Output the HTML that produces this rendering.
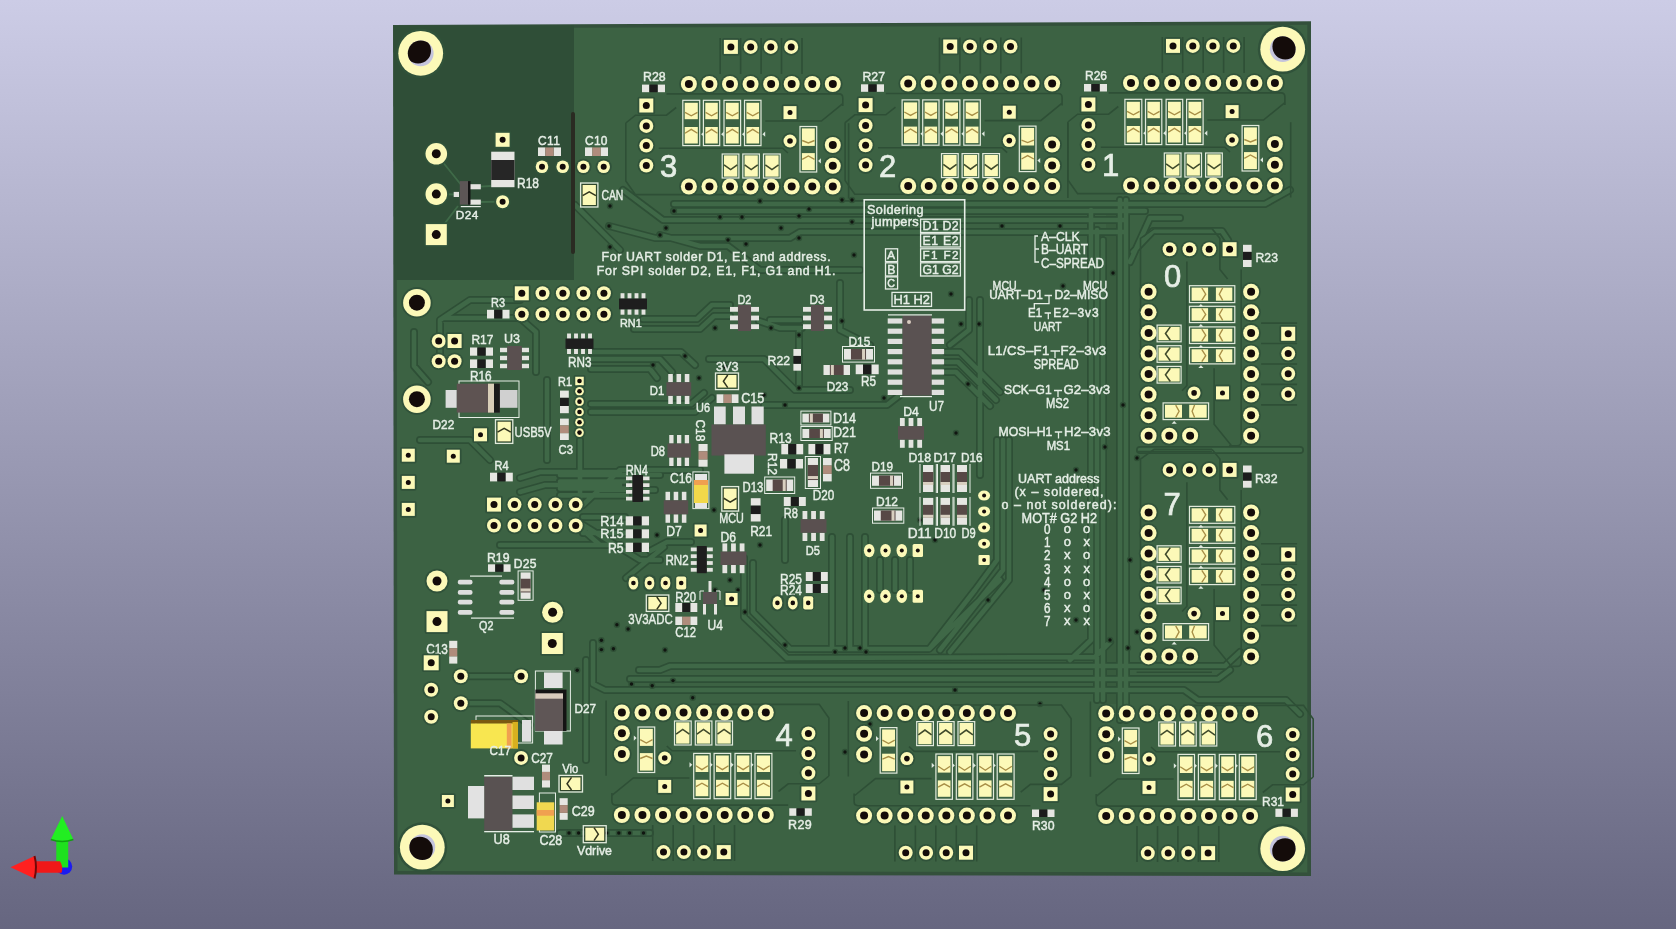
<!DOCTYPE html>
<html><head><meta charset="utf-8"><style>
html,body{margin:0;padding:0;width:1676px;height:929px;overflow:hidden;background:#9999b3}
svg{display:block;will-change:transform}
text{font-family:"Liberation Sans",sans-serif;stroke:#e6eee6;stroke-width:0.45px}
</style></head><body>
<svg width="1676" height="929" viewBox="0 0 1676 929">
<defs><linearGradient id="bg" x1="0" y1="0" x2="0" y2="1"><stop offset="0" stop-color="#ccccE6"/><stop offset="1" stop-color="#666680"/></linearGradient></defs>
<rect x="0" y="0" width="1676" height="929" fill="url(#bg)"/>
<polygon points="393,25 1311,21.3 1311,876 394,874.6" fill="#33503b"/>
<polygon points="396.5,28.5 1307.3,24.8 1307.3,872.4 397.5,871.1" fill="#3c6243"/>
<polygon points="394,26 574,25.5 574,280 394,280" fill="#2f4e37"/>
<rect x="1106" y="204" width="21" height="500" fill="#385c3e"/>
<path d="M674 204 L900 204 L1265 204 L1290 190 M674 211 L1145 211 M623 190 L663 220 L1125 220 M609 226 L655 238 L790 238 L800 232 L1125 232 M660 235 L700 246 L728 246 L760 270 L860 270 M575 205 L620 250 M840 283 L840 330 L870 345 M770 320 L800 320 M764 405 L887 405 L900 395 M1091 210 L1091 640 L1070 660 M1097 230 L1097 700 M1103 240 L1103 700 M1120 200 L1120 720 M1126 200 L1126 720 M997 440 L997 560 L975 590 L930 648 M1003 440 L1003 570 L940 650 M1009 440 L1009 580 L950 652 M880 560 L880 590 M895 560 L895 590 M910 560 L910 590 M600 475 L660 475 M600 490 L655 490 M583 505 L620 470 L700 470 M583 525 L640 560 L660 560 M583 530 L600 545 L620 545 M440 360 L440 320 L470 300 L520 300 M420 440 L470 440 L490 460 M580 440 L580 500 M445 318 L520 318 L536 332 L536 372 M414 332 L414 366 L428 382 M547 380 L547 460 M520 478 L540 472 L620 472 M520 492 L545 485 L620 485 M500 545 L620 545 M643 319 L697 319 L712 305 L730 305 M634 329 L700 329 L714 316 L730 316 M759 321 L780 328 L802 328 M591 352 L681 352 L695 365 M591 359 L660 359 L672 372 M591 369 L650 369 L657 378 M591 404 L691 404 L704 393 M591 412 L695 412 L712 398 M709 359 L764 359 L795 390 L850 390 M799 331 L799 390 M560 475 L627 475 M560 481.5 L627 481.5 M560 488.5 L627 488.5 M560 495.4 L627 495.4 M583 517 L625 517 M583 533 L625 533 M650 551 L667 542 L691 542 M626 578 L664 547 M560 833 L650 833 M787 658 L1095 657 L1110 642 M639 670 L660 670 L670 666 L1225 666 L1240 652 M630 679 L1218 679 L1230 670 M593 643 L593 684 L605 690 L1184 690 L1198 700 L1286 700 L1300 714 M832 537 L832 649 M850 537 L850 649 M865 537 L865 649 M744 558 L744 617 L787 658 M753 563 L753 612 L790 649 L929 649 L1000 580 M785 520 L785 560 M460.8 676.3 L521 676.3 M460.8 703.2 L500 703.2 L530 725 M586 660 L586 760 M946 352 L960 352 L1000 392 M946 362 L958 362 L996 400 M946 372 L956 372 L990 406 M980 300 L980 475 M969 300 L969 330 L950 345 M1130 262 L1150 218 L1180 218 M1133 252 L1153 231 L1222 231 L1228 240 M1140 450 L1300 450" fill="none" stroke="#2e4f36" stroke-width="8" stroke-linejoin="round" stroke-linecap="round"/>
<path d="M674 204 L900 204 L1265 204 L1290 190 M674 211 L1145 211 M623 190 L663 220 L1125 220 M609 226 L655 238 L790 238 L800 232 L1125 232 M660 235 L700 246 L728 246 L760 270 L860 270 M575 205 L620 250 M840 283 L840 330 L870 345 M770 320 L800 320 M764 405 L887 405 L900 395 M1091 210 L1091 640 L1070 660 M1097 230 L1097 700 M1103 240 L1103 700 M1120 200 L1120 720 M1126 200 L1126 720 M997 440 L997 560 L975 590 L930 648 M1003 440 L1003 570 L940 650 M1009 440 L1009 580 L950 652 M880 560 L880 590 M895 560 L895 590 M910 560 L910 590 M600 475 L660 475 M600 490 L655 490 M583 505 L620 470 L700 470 M583 525 L640 560 L660 560 M583 530 L600 545 L620 545 M440 360 L440 320 L470 300 L520 300 M420 440 L470 440 L490 460 M580 440 L580 500 M445 318 L520 318 L536 332 L536 372 M414 332 L414 366 L428 382 M547 380 L547 460 M520 478 L540 472 L620 472 M520 492 L545 485 L620 485 M500 545 L620 545 M643 319 L697 319 L712 305 L730 305 M634 329 L700 329 L714 316 L730 316 M759 321 L780 328 L802 328 M591 352 L681 352 L695 365 M591 359 L660 359 L672 372 M591 369 L650 369 L657 378 M591 404 L691 404 L704 393 M591 412 L695 412 L712 398 M709 359 L764 359 L795 390 L850 390 M799 331 L799 390 M560 475 L627 475 M560 481.5 L627 481.5 M560 488.5 L627 488.5 M560 495.4 L627 495.4 M583 517 L625 517 M583 533 L625 533 M650 551 L667 542 L691 542 M626 578 L664 547 M560 833 L650 833 M787 658 L1095 657 L1110 642 M639 670 L660 670 L670 666 L1225 666 L1240 652 M630 679 L1218 679 L1230 670 M593 643 L593 684 L605 690 L1184 690 L1198 700 L1286 700 L1300 714 M832 537 L832 649 M850 537 L850 649 M865 537 L865 649 M744 558 L744 617 L787 658 M753 563 L753 612 L790 649 L929 649 L1000 580 M785 520 L785 560 M460.8 676.3 L521 676.3 M460.8 703.2 L500 703.2 L530 725 M586 660 L586 760 M946 352 L960 352 L1000 392 M946 362 L958 362 L996 400 M946 372 L956 372 L990 406 M980 300 L980 475 M969 300 L969 330 L950 345 M1130 262 L1150 218 L1180 218 M1133 252 L1153 231 L1222 231 L1228 240 M1140 450 L1300 450" fill="none" stroke="#3f6847" stroke-width="4.6" stroke-linejoin="round" stroke-linecap="round"/>
<circle cx="616.9" cy="624.7" r="3.2" fill="#2f5036"/><circle cx="616.9" cy="624.7" r="1.7" fill="#101510"/>
<circle cx="628.1" cy="629" r="3.2" fill="#2f5036"/><circle cx="628.1" cy="629" r="1.7" fill="#101510"/>
<circle cx="601.4" cy="640.2" r="3.2" fill="#2f5036"/><circle cx="601.4" cy="640.2" r="1.7" fill="#101510"/>
<circle cx="601.4" cy="649.6" r="3.2" fill="#2f5036"/><circle cx="601.4" cy="649.6" r="1.7" fill="#101510"/>
<circle cx="613.4" cy="648.8" r="3.2" fill="#2f5036"/><circle cx="613.4" cy="648.8" r="1.7" fill="#101510"/>
<circle cx="577.2" cy="670.3" r="3.2" fill="#2f5036"/><circle cx="577.2" cy="670.3" r="1.7" fill="#101510"/>
<circle cx="631.5" cy="684" r="3.2" fill="#2f5036"/><circle cx="631.5" cy="684" r="1.7" fill="#101510"/>
<circle cx="652.2" cy="685.7" r="3.2" fill="#2f5036"/><circle cx="652.2" cy="685.7" r="1.7" fill="#101510"/>
<circle cx="673" cy="680.6" r="3.2" fill="#2f5036"/><circle cx="673" cy="680.6" r="1.7" fill="#101510"/>
<circle cx="692.7" cy="697.8" r="3.2" fill="#2f5036"/><circle cx="692.7" cy="697.8" r="1.7" fill="#101510"/>
<circle cx="569" cy="833" r="3.2" fill="#2f5036"/><circle cx="569" cy="833" r="1.7" fill="#101510"/>
<circle cx="578.6" cy="833" r="3.2" fill="#2f5036"/><circle cx="578.6" cy="833" r="1.7" fill="#101510"/>
<circle cx="606.7" cy="833" r="3.2" fill="#2f5036"/><circle cx="606.7" cy="833" r="1.7" fill="#101510"/>
<circle cx="618.8" cy="833" r="3.2" fill="#2f5036"/><circle cx="618.8" cy="833" r="1.7" fill="#101510"/>
<circle cx="629.6" cy="833" r="3.2" fill="#2f5036"/><circle cx="629.6" cy="833" r="1.7" fill="#101510"/>
<circle cx="643.5" cy="833" r="3.2" fill="#2f5036"/><circle cx="643.5" cy="833" r="1.7" fill="#101510"/>
<circle cx="610" cy="206" r="3.2" fill="#2f5036"/><circle cx="610" cy="206" r="1.7" fill="#101510"/>
<circle cx="609" cy="226" r="3.2" fill="#2f5036"/><circle cx="609" cy="226" r="1.7" fill="#101510"/>
<circle cx="610" cy="247" r="3.2" fill="#2f5036"/><circle cx="610" cy="247" r="1.7" fill="#101510"/>
<circle cx="674" cy="211" r="3.2" fill="#2f5036"/><circle cx="674" cy="211" r="1.7" fill="#101510"/>
<circle cx="720" cy="217" r="3.2" fill="#2f5036"/><circle cx="720" cy="217" r="1.7" fill="#101510"/>
<circle cx="742" cy="217" r="3.2" fill="#2f5036"/><circle cx="742" cy="217" r="1.7" fill="#101510"/>
<circle cx="760" cy="201" r="3.2" fill="#2f5036"/><circle cx="760" cy="201" r="1.7" fill="#101510"/>
<circle cx="809" cy="209" r="3.2" fill="#2f5036"/><circle cx="809" cy="209" r="1.7" fill="#101510"/>
<circle cx="799" cy="216" r="3.2" fill="#2f5036"/><circle cx="799" cy="216" r="1.7" fill="#101510"/>
<circle cx="781" cy="228" r="3.2" fill="#2f5036"/><circle cx="781" cy="228" r="1.7" fill="#101510"/>
<circle cx="799" cy="238" r="3.2" fill="#2f5036"/><circle cx="799" cy="238" r="1.7" fill="#101510"/>
<circle cx="852" cy="200" r="3.2" fill="#2f5036"/><circle cx="852" cy="200" r="1.7" fill="#101510"/>
<circle cx="842" cy="200" r="3.2" fill="#2f5036"/><circle cx="842" cy="200" r="1.7" fill="#101510"/>
<circle cx="852" cy="222" r="3.2" fill="#2f5036"/><circle cx="852" cy="222" r="1.7" fill="#101510"/>
<circle cx="666" cy="228" r="3.2" fill="#2f5036"/><circle cx="666" cy="228" r="1.7" fill="#101510"/>
<circle cx="660" cy="235" r="3.2" fill="#2f5036"/><circle cx="660" cy="235" r="1.7" fill="#101510"/>
<circle cx="728" cy="240" r="3.2" fill="#2f5036"/><circle cx="728" cy="240" r="1.7" fill="#101510"/>
<circle cx="746" cy="244" r="3.2" fill="#2f5036"/><circle cx="746" cy="244" r="1.7" fill="#101510"/>
<circle cx="854" cy="255" r="3.2" fill="#2f5036"/><circle cx="854" cy="255" r="1.7" fill="#101510"/>
<circle cx="715" cy="328" r="3.2" fill="#2f5036"/><circle cx="715" cy="328" r="1.7" fill="#101510"/>
<circle cx="771" cy="328" r="3.2" fill="#2f5036"/><circle cx="771" cy="328" r="1.7" fill="#101510"/>
<circle cx="799" cy="335" r="3.2" fill="#2f5036"/><circle cx="799" cy="335" r="1.7" fill="#101510"/>
<circle cx="842" cy="321" r="3.2" fill="#2f5036"/><circle cx="842" cy="321" r="1.7" fill="#101510"/>
<circle cx="951" cy="294" r="3.2" fill="#2f5036"/><circle cx="951" cy="294" r="1.7" fill="#101510"/>
<circle cx="961" cy="324" r="3.2" fill="#2f5036"/><circle cx="961" cy="324" r="1.7" fill="#101510"/>
<circle cx="979" cy="324" r="3.2" fill="#2f5036"/><circle cx="979" cy="324" r="1.7" fill="#101510"/>
<circle cx="968" cy="384" r="3.2" fill="#2f5036"/><circle cx="968" cy="384" r="1.7" fill="#101510"/>
<circle cx="884" cy="398" r="3.2" fill="#2f5036"/><circle cx="884" cy="398" r="1.7" fill="#101510"/>
<circle cx="785" cy="405" r="3.2" fill="#2f5036"/><circle cx="785" cy="405" r="1.7" fill="#101510"/>
<circle cx="799" cy="388" r="3.2" fill="#2f5036"/><circle cx="799" cy="388" r="1.7" fill="#101510"/>
<circle cx="685" cy="356" r="3.2" fill="#2f5036"/><circle cx="685" cy="356" r="1.7" fill="#101510"/>
<circle cx="653" cy="365" r="3.2" fill="#2f5036"/><circle cx="653" cy="365" r="1.7" fill="#101510"/>
<circle cx="725" cy="367" r="3.2" fill="#2f5036"/><circle cx="725" cy="367" r="1.7" fill="#101510"/>
<circle cx="764" cy="395" r="3.2" fill="#2f5036"/><circle cx="764" cy="395" r="1.7" fill="#101510"/>
<circle cx="956" cy="433" r="3.2" fill="#2f5036"/><circle cx="956" cy="433" r="1.7" fill="#101510"/>
<circle cx="1002" cy="226" r="3.2" fill="#2f5036"/><circle cx="1002" cy="226" r="1.7" fill="#101510"/>
<circle cx="1060" cy="226" r="3.2" fill="#2f5036"/><circle cx="1060" cy="226" r="1.7" fill="#101510"/>
<circle cx="1113" cy="273" r="3.2" fill="#2f5036"/><circle cx="1113" cy="273" r="1.7" fill="#101510"/>
<circle cx="1063" cy="286" r="3.2" fill="#2f5036"/><circle cx="1063" cy="286" r="1.7" fill="#101510"/>
<circle cx="1123" cy="405" r="3.2" fill="#2f5036"/><circle cx="1123" cy="405" r="1.7" fill="#101510"/>
<circle cx="1137" cy="458" r="3.2" fill="#2f5036"/><circle cx="1137" cy="458" r="1.7" fill="#101510"/>
<circle cx="1105" cy="447" r="3.2" fill="#2f5036"/><circle cx="1105" cy="447" r="1.7" fill="#101510"/>
<circle cx="785" cy="645" r="3.2" fill="#2f5036"/><circle cx="785" cy="645" r="1.7" fill="#101510"/>
<circle cx="835" cy="652" r="3.2" fill="#2f5036"/><circle cx="835" cy="652" r="1.7" fill="#101510"/>
<circle cx="866" cy="652" r="3.2" fill="#2f5036"/><circle cx="866" cy="652" r="1.7" fill="#101510"/>
<circle cx="845" cy="648" r="3.2" fill="#2f5036"/><circle cx="845" cy="648" r="1.7" fill="#101510"/>
<circle cx="860" cy="648" r="3.2" fill="#2f5036"/><circle cx="860" cy="648" r="1.7" fill="#101510"/>
<circle cx="1044" cy="590" r="3.2" fill="#2f5036"/><circle cx="1044" cy="590" r="1.7" fill="#101510"/>
<circle cx="1128" cy="648" r="3.2" fill="#2f5036"/><circle cx="1128" cy="648" r="1.7" fill="#101510"/>
<circle cx="1076" cy="620" r="3.2" fill="#2f5036"/><circle cx="1076" cy="620" r="1.7" fill="#101510"/>
<circle cx="1137" cy="632" r="3.2" fill="#2f5036"/><circle cx="1137" cy="632" r="1.7" fill="#101510"/>
<circle cx="845" cy="752" r="3.2" fill="#2f5036"/><circle cx="845" cy="752" r="1.7" fill="#101510"/>
<circle cx="870" cy="724" r="3.2" fill="#2f5036"/><circle cx="870" cy="724" r="1.7" fill="#101510"/>
<circle cx="1110" cy="640" r="3.2" fill="#2f5036"/><circle cx="1110" cy="640" r="1.7" fill="#101510"/>
<circle cx="988" cy="600" r="3.2" fill="#2f5036"/><circle cx="988" cy="600" r="1.7" fill="#101510"/>
<circle cx="955" cy="690" r="3.2" fill="#2f5036"/><circle cx="955" cy="690" r="1.7" fill="#101510"/>
<circle cx="1040" cy="704" r="3.2" fill="#2f5036"/><circle cx="1040" cy="704" r="1.7" fill="#101510"/>
<circle cx="714" cy="510" r="3.2" fill="#2f5036"/><circle cx="714" cy="510" r="1.7" fill="#101510"/>
<circle cx="700" cy="485" r="3.2" fill="#2f5036"/><circle cx="700" cy="485" r="1.7" fill="#101510"/>
<circle cx="760" cy="545" r="3.2" fill="#2f5036"/><circle cx="760" cy="545" r="1.7" fill="#101510"/>
<circle cx="665" cy="650" r="3.2" fill="#2f5036"/><circle cx="665" cy="650" r="1.7" fill="#101510"/>
<circle cx="730" cy="580" r="3.2" fill="#2f5036"/><circle cx="730" cy="580" r="1.7" fill="#101510"/>
<circle cx="738" cy="590" r="3.2" fill="#2f5036"/><circle cx="738" cy="590" r="1.7" fill="#101510"/>
<circle cx="745" cy="612" r="3.2" fill="#2f5036"/><circle cx="745" cy="612" r="1.7" fill="#101510"/>
<circle cx="657" cy="535" r="3.2" fill="#2f5036"/><circle cx="657" cy="535" r="1.7" fill="#101510"/>
<circle cx="699" cy="378" r="3.2" fill="#2f5036"/><circle cx="699" cy="378" r="1.7" fill="#101510"/>
<circle cx="715" cy="590" r="3.2" fill="#2f5036"/><circle cx="715" cy="590" r="1.7" fill="#101510"/>
<circle cx="920" cy="520" r="3.2" fill="#2f5036"/><circle cx="920" cy="520" r="1.7" fill="#101510"/>
<circle cx="935" cy="540" r="3.2" fill="#2f5036"/><circle cx="935" cy="540" r="1.7" fill="#101510"/>
<circle cx="1076" cy="470" r="3.2" fill="#2f5036"/><circle cx="1076" cy="470" r="1.7" fill="#101510"/>
<circle cx="1150" cy="420" r="3.2" fill="#2f5036"/><circle cx="1150" cy="420" r="1.7" fill="#101510"/>
<circle cx="1130" cy="560" r="3.2" fill="#2f5036"/><circle cx="1130" cy="560" r="1.7" fill="#101510"/>
<circle cx="1170" cy="600" r="3.2" fill="#2f5036"/><circle cx="1170" cy="600" r="1.7" fill="#101510"/>
<circle cx="420.7" cy="53.3" r="24.9" fill="#30523a"/>
<circle cx="420.7" cy="53.3" r="22.4" fill="#fcf9b8"/>
<clipPath id="hc1"><circle cx="420.7" cy="53.3" r="12.9"/></clipPath>
<circle cx="420.7" cy="53.3" r="12.9" fill="#c4c4dc"/>
<circle cx="418.1" cy="50.7" r="12.9" fill="#140c0a" clip-path="url(#hc1)"/>
<circle cx="1282.7" cy="49.2" r="24.9" fill="#30523a"/>
<circle cx="1282.7" cy="49.2" r="22.4" fill="#fcf9b8"/>
<clipPath id="hc2"><circle cx="1282.7" cy="49.2" r="12.9"/></clipPath>
<circle cx="1282.7" cy="49.2" r="12.9" fill="#c4c4dc"/>
<circle cx="1285.3" cy="46.6" r="12.9" fill="#140c0a" clip-path="url(#hc2)"/>
<circle cx="422.3" cy="847.2" r="24.9" fill="#30523a"/>
<circle cx="422.3" cy="847.2" r="22.4" fill="#fcf9b8"/>
<clipPath id="hc3"><circle cx="422.3" cy="847.2" r="12.9"/></clipPath>
<circle cx="422.3" cy="847.2" r="12.9" fill="#c4c4dc"/>
<circle cx="419.9" cy="849.6" r="12.9" fill="#140c0a" clip-path="url(#hc3)"/>
<circle cx="1282.7" cy="848.7" r="24.9" fill="#30523a"/>
<circle cx="1282.7" cy="848.7" r="22.4" fill="#fcf9b8"/>
<clipPath id="hc4"><circle cx="1282.7" cy="848.7" r="12.9"/></clipPath>
<circle cx="1282.7" cy="848.7" r="12.9" fill="#c4c4dc"/>
<circle cx="1285.1" cy="851.1" r="12.9" fill="#140c0a" clip-path="url(#hc4)"/>
<g transform="translate(688.9,84)">
<path d="M-63.1 39 V97 L-53.4 110.6 H66.7 M-63.1 39 L-53.4 31.2 H-22.4 L-12.7 23.5 M-22.4 9.9 H150 Q153.9 9.9 153.9 14 V22 M76.4 37 H132.5 L153.9 19.6 M-30.2 64.2 H93.8 L99 69 M159.7 39.2 V114.5" stroke="#2e4f36" stroke-width="1.6" fill="none"/>
<path d="M31.3 -46 V-10 M51.7 -46 V-10 M72.2 -46 V-10 M92.6 -46 V-10 M113.1 -46 V-10" stroke="#2e4f36" stroke-width="1.6" fill="none"/>
<circle cx="0" cy="0" r="9.8" fill="#30523a"/>
<circle cx="0" cy="0" r="8" fill="#fcf9b8"/>
<circle cx="0" cy="0" r="4" fill="#140c0a"/>
<circle cx="0" cy="102.5" r="9.8" fill="#30523a"/>
<circle cx="0" cy="102.5" r="8" fill="#fcf9b8"/>
<circle cx="0" cy="102.5" r="4" fill="#140c0a"/>
<circle cx="20.56" cy="0" r="9.8" fill="#30523a"/>
<circle cx="20.56" cy="0" r="8" fill="#fcf9b8"/>
<circle cx="20.56" cy="0" r="4" fill="#140c0a"/>
<circle cx="20.56" cy="102.5" r="9.8" fill="#30523a"/>
<circle cx="20.56" cy="102.5" r="8" fill="#fcf9b8"/>
<circle cx="20.56" cy="102.5" r="4" fill="#140c0a"/>
<circle cx="41.12" cy="0" r="9.8" fill="#30523a"/>
<circle cx="41.12" cy="0" r="8" fill="#fcf9b8"/>
<circle cx="41.12" cy="0" r="4" fill="#140c0a"/>
<circle cx="41.12" cy="102.5" r="9.8" fill="#30523a"/>
<circle cx="41.12" cy="102.5" r="8" fill="#fcf9b8"/>
<circle cx="41.12" cy="102.5" r="4" fill="#140c0a"/>
<circle cx="61.68" cy="0" r="9.8" fill="#30523a"/>
<circle cx="61.68" cy="0" r="8" fill="#fcf9b8"/>
<circle cx="61.68" cy="0" r="4" fill="#140c0a"/>
<circle cx="61.68" cy="102.5" r="9.8" fill="#30523a"/>
<circle cx="61.68" cy="102.5" r="8" fill="#fcf9b8"/>
<circle cx="61.68" cy="102.5" r="4" fill="#140c0a"/>
<circle cx="82.24" cy="0" r="9.8" fill="#30523a"/>
<circle cx="82.24" cy="0" r="8" fill="#fcf9b8"/>
<circle cx="82.24" cy="0" r="4" fill="#140c0a"/>
<circle cx="82.24" cy="102.5" r="9.8" fill="#30523a"/>
<circle cx="82.24" cy="102.5" r="8" fill="#fcf9b8"/>
<circle cx="82.24" cy="102.5" r="4" fill="#140c0a"/>
<circle cx="102.8" cy="0" r="9.8" fill="#30523a"/>
<circle cx="102.8" cy="0" r="8" fill="#fcf9b8"/>
<circle cx="102.8" cy="0" r="4" fill="#140c0a"/>
<circle cx="102.8" cy="102.5" r="9.8" fill="#30523a"/>
<circle cx="102.8" cy="102.5" r="8" fill="#fcf9b8"/>
<circle cx="102.8" cy="102.5" r="4" fill="#140c0a"/>
<circle cx="123.36" cy="0" r="9.8" fill="#30523a"/>
<circle cx="123.36" cy="0" r="8" fill="#fcf9b8"/>
<circle cx="123.36" cy="0" r="4" fill="#140c0a"/>
<circle cx="123.36" cy="102.5" r="9.8" fill="#30523a"/>
<circle cx="123.36" cy="102.5" r="8" fill="#fcf9b8"/>
<circle cx="123.36" cy="102.5" r="4" fill="#140c0a"/>
<circle cx="143.92" cy="0" r="9.8" fill="#30523a"/>
<circle cx="143.92" cy="0" r="8" fill="#fcf9b8"/>
<circle cx="143.92" cy="0" r="4" fill="#140c0a"/>
<circle cx="143.92" cy="102.5" r="9.8" fill="#30523a"/>
<circle cx="143.92" cy="102.5" r="8" fill="#fcf9b8"/>
<circle cx="143.92" cy="102.5" r="4" fill="#140c0a"/>
<rect x="33.2" y="-45.9" width="17.6" height="17.6" rx="2" fill="#30523a"/>
<rect x="35" y="-44.1" width="14" height="14" fill="#fcf9b8"/>
<circle cx="42" cy="-37.1" r="3.5" fill="#140c0a"/>
<circle cx="61.8" cy="-37.1" r="8.8" fill="#30523a"/>
<circle cx="61.8" cy="-37.1" r="7" fill="#fcf9b8"/>
<circle cx="61.8" cy="-37.1" r="3.5" fill="#140c0a"/>
<circle cx="81.9" cy="-37.1" r="8.8" fill="#30523a"/>
<circle cx="81.9" cy="-37.1" r="7" fill="#fcf9b8"/>
<circle cx="81.9" cy="-37.1" r="3.5" fill="#140c0a"/>
<circle cx="102.3" cy="-37.1" r="8.8" fill="#30523a"/>
<circle cx="102.3" cy="-37.1" r="7" fill="#fcf9b8"/>
<circle cx="102.3" cy="-37.1" r="3.5" fill="#140c0a"/>
<rect x="-51.4" y="12.7" width="17.6" height="17.6" rx="2" fill="#30523a"/>
<rect x="-49.6" y="14.5" width="14" height="14" fill="#fcf9b8"/>
<circle cx="-42.6" cy="21.5" r="3.5" fill="#140c0a"/>
<circle cx="-42.6" cy="41.9" r="8.8" fill="#30523a"/>
<circle cx="-42.6" cy="41.9" r="7" fill="#fcf9b8"/>
<circle cx="-42.6" cy="41.9" r="3.5" fill="#140c0a"/>
<circle cx="-42.6" cy="61.6" r="8.8" fill="#30523a"/>
<circle cx="-42.6" cy="61.6" r="7" fill="#fcf9b8"/>
<circle cx="-42.6" cy="61.6" r="3.5" fill="#140c0a"/>
<circle cx="-42.6" cy="81.5" r="8.8" fill="#30523a"/>
<circle cx="-42.6" cy="81.5" r="7" fill="#fcf9b8"/>
<circle cx="-42.6" cy="81.5" r="3.5" fill="#140c0a"/>
<circle cx="143.9" cy="61" r="9.8" fill="#30523a"/>
<circle cx="143.9" cy="61" r="8" fill="#fcf9b8"/>
<circle cx="143.9" cy="61" r="4" fill="#140c0a"/>
<circle cx="143.9" cy="81.8" r="9.8" fill="#30523a"/>
<circle cx="143.9" cy="81.8" r="8" fill="#fcf9b8"/>
<circle cx="143.9" cy="81.8" r="4" fill="#140c0a"/>
<rect x="-6.1" y="16.3" width="16.9" height="45.3" fill="none" stroke="#e2eadc" stroke-width="1.2"/>
<rect x="-4.2" y="18.8" width="13.1" height="16.4" fill="#fcf9b8" />
<rect x="-4.2" y="43" width="13.1" height="16.5" fill="#fcf9b8" />
<path d="M-3.9 28.4 L2.35 31.8 L8.6 28.4" fill="none" stroke="#a88e46" stroke-width="1.35"/>
<path d="M-3.9 49.3 L2.35 45.4 L8.6 49.3" fill="none" stroke="#a88e46" stroke-width="1.35"/>
<path d="M12.2 50.2 L15 47.6 L15 52.8 Z" fill="#dfe8df"/>
<rect x="14.5" y="16.3" width="16.3" height="45.3" fill="none" stroke="#e2eadc" stroke-width="1.2"/>
<rect x="16.4" y="18.8" width="12.5" height="16.4" fill="#fcf9b8" />
<rect x="16.4" y="43" width="12.5" height="16.5" fill="#fcf9b8" />
<path d="M16.7 28.4 L22.65 31.8 L28.6 28.4" fill="none" stroke="#a88e46" stroke-width="1.35"/>
<path d="M16.7 49.3 L22.65 45.4 L28.6 49.3" fill="none" stroke="#a88e46" stroke-width="1.35"/>
<path d="M32.2 50.2 L35 47.6 L35 52.8 Z" fill="#dfe8df"/>
<rect x="35.1" y="16.3" width="16.6" height="45.3" fill="none" stroke="#e2eadc" stroke-width="1.2"/>
<rect x="37" y="18.8" width="12.8" height="16.4" fill="#fcf9b8" />
<rect x="37" y="43" width="12.8" height="16.5" fill="#fcf9b8" />
<path d="M37.3 28.4 L43.4 31.8 L49.5 28.4" fill="none" stroke="#a88e46" stroke-width="1.35"/>
<path d="M37.3 49.3 L43.4 45.4 L49.5 49.3" fill="none" stroke="#a88e46" stroke-width="1.35"/>
<path d="M53.1 50.2 L55.9 47.6 L55.9 52.8 Z" fill="#dfe8df"/>
<rect x="55.6" y="16.3" width="16.5" height="45.3" fill="none" stroke="#e2eadc" stroke-width="1.2"/>
<rect x="57.5" y="18.8" width="12.7" height="16.4" fill="#fcf9b8" />
<rect x="57.5" y="43" width="12.7" height="16.5" fill="#fcf9b8" />
<path d="M57.8 28.4 L63.85 31.8 L69.9 28.4" fill="none" stroke="#a88e46" stroke-width="1.35"/>
<path d="M57.8 49.3 L63.85 45.4 L69.9 49.3" fill="none" stroke="#a88e46" stroke-width="1.35"/>
<path d="M73.5 50.2 L76.3 47.6 L76.3 52.8 Z" fill="#dfe8df"/>
<rect x="92.8" y="20.3" width="16.6" height="16.6" rx="2" fill="#30523a"/>
<rect x="94.6" y="22.1" width="13" height="13" fill="#fcf9b8"/>
<circle cx="101.1" cy="28.6" r="2.5" fill="#140c0a"/>
<circle cx="101.1" cy="57" r="8.3" fill="#30523a"/>
<circle cx="101.1" cy="57" r="6.5" fill="#fcf9b8"/>
<circle cx="101.1" cy="57" r="2.8" fill="#140c0a"/>
<rect x="33.3" y="70" width="16.7" height="24" fill="none" stroke="#e2eadc" stroke-width="1.2"/>
<rect x="35.1" y="71.4" width="13.3" height="21.2" fill="#fcf9b8" />
<path d="M35.1 80.8 L41.75 85.6 L48.4 80.8" fill="none" stroke="#3f4a2c" stroke-width="1.6"/>
<rect x="53.9" y="70" width="16.6" height="24" fill="none" stroke="#e2eadc" stroke-width="1.2"/>
<rect x="55.7" y="71.4" width="13.2" height="21.2" fill="#fcf9b8" />
<path d="M55.7 80.8 L62.3 85.6 L68.9 80.8" fill="none" stroke="#3f4a2c" stroke-width="1.6"/>
<rect x="74.6" y="70" width="16.7" height="24" fill="none" stroke="#e2eadc" stroke-width="1.2"/>
<rect x="76.4" y="71.4" width="13.3" height="21.2" fill="#fcf9b8" />
<path d="M76.4 80.8 L83.05 85.6 L89.7 80.8" fill="none" stroke="#3f4a2c" stroke-width="1.6"/>
<rect x="111.1" y="42.5" width="16.7" height="45.5" fill="none" stroke="#e2eadc" stroke-width="1.2"/>
<rect x="113" y="44.4" width="12.9" height="17.5" fill="#fcf9b8" />
<rect x="113" y="69.1" width="12.9" height="17" fill="#fcf9b8" />
<path d="M113.3 56.5 L119.45 59 L125.6 56.5" fill="none" stroke="#a88e46" stroke-width="1.35"/>
<path d="M113.3 75.4 L119.45 72 L125.6 75.4" fill="none" stroke="#a88e46" stroke-width="1.35"/>
<path d="M129.2 76.9 L132 74.3 L132 79.5 Z" fill="#dfe8df"/>
</g>
<g transform="translate(908.2,83.6)">
<path d="M-63.1 39 V97 L-53.4 110.6 H66.7 M-63.1 39 L-53.4 31.2 H-22.4 L-12.7 23.5 M-22.4 9.9 H150 Q153.9 9.9 153.9 14 V22 M76.4 37 H132.5 L153.9 19.6 M-30.2 64.2 H93.8 L99 69 M159.7 39.2 V114.5" stroke="#2e4f36" stroke-width="1.6" fill="none"/>
<path d="M31.3 -46 V-10 M51.7 -46 V-10 M72.2 -46 V-10 M92.6 -46 V-10 M113.1 -46 V-10" stroke="#2e4f36" stroke-width="1.6" fill="none"/>
<circle cx="0" cy="0" r="9.8" fill="#30523a"/>
<circle cx="0" cy="0" r="8" fill="#fcf9b8"/>
<circle cx="0" cy="0" r="4" fill="#140c0a"/>
<circle cx="0" cy="102.5" r="9.8" fill="#30523a"/>
<circle cx="0" cy="102.5" r="8" fill="#fcf9b8"/>
<circle cx="0" cy="102.5" r="4" fill="#140c0a"/>
<circle cx="20.56" cy="0" r="9.8" fill="#30523a"/>
<circle cx="20.56" cy="0" r="8" fill="#fcf9b8"/>
<circle cx="20.56" cy="0" r="4" fill="#140c0a"/>
<circle cx="20.56" cy="102.5" r="9.8" fill="#30523a"/>
<circle cx="20.56" cy="102.5" r="8" fill="#fcf9b8"/>
<circle cx="20.56" cy="102.5" r="4" fill="#140c0a"/>
<circle cx="41.12" cy="0" r="9.8" fill="#30523a"/>
<circle cx="41.12" cy="0" r="8" fill="#fcf9b8"/>
<circle cx="41.12" cy="0" r="4" fill="#140c0a"/>
<circle cx="41.12" cy="102.5" r="9.8" fill="#30523a"/>
<circle cx="41.12" cy="102.5" r="8" fill="#fcf9b8"/>
<circle cx="41.12" cy="102.5" r="4" fill="#140c0a"/>
<circle cx="61.68" cy="0" r="9.8" fill="#30523a"/>
<circle cx="61.68" cy="0" r="8" fill="#fcf9b8"/>
<circle cx="61.68" cy="0" r="4" fill="#140c0a"/>
<circle cx="61.68" cy="102.5" r="9.8" fill="#30523a"/>
<circle cx="61.68" cy="102.5" r="8" fill="#fcf9b8"/>
<circle cx="61.68" cy="102.5" r="4" fill="#140c0a"/>
<circle cx="82.24" cy="0" r="9.8" fill="#30523a"/>
<circle cx="82.24" cy="0" r="8" fill="#fcf9b8"/>
<circle cx="82.24" cy="0" r="4" fill="#140c0a"/>
<circle cx="82.24" cy="102.5" r="9.8" fill="#30523a"/>
<circle cx="82.24" cy="102.5" r="8" fill="#fcf9b8"/>
<circle cx="82.24" cy="102.5" r="4" fill="#140c0a"/>
<circle cx="102.8" cy="0" r="9.8" fill="#30523a"/>
<circle cx="102.8" cy="0" r="8" fill="#fcf9b8"/>
<circle cx="102.8" cy="0" r="4" fill="#140c0a"/>
<circle cx="102.8" cy="102.5" r="9.8" fill="#30523a"/>
<circle cx="102.8" cy="102.5" r="8" fill="#fcf9b8"/>
<circle cx="102.8" cy="102.5" r="4" fill="#140c0a"/>
<circle cx="123.36" cy="0" r="9.8" fill="#30523a"/>
<circle cx="123.36" cy="0" r="8" fill="#fcf9b8"/>
<circle cx="123.36" cy="0" r="4" fill="#140c0a"/>
<circle cx="123.36" cy="102.5" r="9.8" fill="#30523a"/>
<circle cx="123.36" cy="102.5" r="8" fill="#fcf9b8"/>
<circle cx="123.36" cy="102.5" r="4" fill="#140c0a"/>
<circle cx="143.92" cy="0" r="9.8" fill="#30523a"/>
<circle cx="143.92" cy="0" r="8" fill="#fcf9b8"/>
<circle cx="143.92" cy="0" r="4" fill="#140c0a"/>
<circle cx="143.92" cy="102.5" r="9.8" fill="#30523a"/>
<circle cx="143.92" cy="102.5" r="8" fill="#fcf9b8"/>
<circle cx="143.92" cy="102.5" r="4" fill="#140c0a"/>
<rect x="33.2" y="-45.9" width="17.6" height="17.6" rx="2" fill="#30523a"/>
<rect x="35" y="-44.1" width="14" height="14" fill="#fcf9b8"/>
<circle cx="42" cy="-37.1" r="3.5" fill="#140c0a"/>
<circle cx="61.8" cy="-37.1" r="8.8" fill="#30523a"/>
<circle cx="61.8" cy="-37.1" r="7" fill="#fcf9b8"/>
<circle cx="61.8" cy="-37.1" r="3.5" fill="#140c0a"/>
<circle cx="81.9" cy="-37.1" r="8.8" fill="#30523a"/>
<circle cx="81.9" cy="-37.1" r="7" fill="#fcf9b8"/>
<circle cx="81.9" cy="-37.1" r="3.5" fill="#140c0a"/>
<circle cx="102.3" cy="-37.1" r="8.8" fill="#30523a"/>
<circle cx="102.3" cy="-37.1" r="7" fill="#fcf9b8"/>
<circle cx="102.3" cy="-37.1" r="3.5" fill="#140c0a"/>
<rect x="-51.4" y="12.7" width="17.6" height="17.6" rx="2" fill="#30523a"/>
<rect x="-49.6" y="14.5" width="14" height="14" fill="#fcf9b8"/>
<circle cx="-42.6" cy="21.5" r="3.5" fill="#140c0a"/>
<circle cx="-42.6" cy="41.9" r="8.8" fill="#30523a"/>
<circle cx="-42.6" cy="41.9" r="7" fill="#fcf9b8"/>
<circle cx="-42.6" cy="41.9" r="3.5" fill="#140c0a"/>
<circle cx="-42.6" cy="61.6" r="8.8" fill="#30523a"/>
<circle cx="-42.6" cy="61.6" r="7" fill="#fcf9b8"/>
<circle cx="-42.6" cy="61.6" r="3.5" fill="#140c0a"/>
<circle cx="-42.6" cy="81.5" r="8.8" fill="#30523a"/>
<circle cx="-42.6" cy="81.5" r="7" fill="#fcf9b8"/>
<circle cx="-42.6" cy="81.5" r="3.5" fill="#140c0a"/>
<circle cx="143.9" cy="61" r="9.8" fill="#30523a"/>
<circle cx="143.9" cy="61" r="8" fill="#fcf9b8"/>
<circle cx="143.9" cy="61" r="4" fill="#140c0a"/>
<circle cx="143.9" cy="81.8" r="9.8" fill="#30523a"/>
<circle cx="143.9" cy="81.8" r="8" fill="#fcf9b8"/>
<circle cx="143.9" cy="81.8" r="4" fill="#140c0a"/>
<rect x="-6.1" y="16.3" width="16.9" height="45.3" fill="none" stroke="#e2eadc" stroke-width="1.2"/>
<rect x="-4.2" y="18.8" width="13.1" height="16.4" fill="#fcf9b8" />
<rect x="-4.2" y="43" width="13.1" height="16.5" fill="#fcf9b8" />
<path d="M-3.9 28.4 L2.35 31.8 L8.6 28.4" fill="none" stroke="#a88e46" stroke-width="1.35"/>
<path d="M-3.9 49.3 L2.35 45.4 L8.6 49.3" fill="none" stroke="#a88e46" stroke-width="1.35"/>
<path d="M12.2 50.2 L15 47.6 L15 52.8 Z" fill="#dfe8df"/>
<rect x="14.5" y="16.3" width="16.3" height="45.3" fill="none" stroke="#e2eadc" stroke-width="1.2"/>
<rect x="16.4" y="18.8" width="12.5" height="16.4" fill="#fcf9b8" />
<rect x="16.4" y="43" width="12.5" height="16.5" fill="#fcf9b8" />
<path d="M16.7 28.4 L22.65 31.8 L28.6 28.4" fill="none" stroke="#a88e46" stroke-width="1.35"/>
<path d="M16.7 49.3 L22.65 45.4 L28.6 49.3" fill="none" stroke="#a88e46" stroke-width="1.35"/>
<path d="M32.2 50.2 L35 47.6 L35 52.8 Z" fill="#dfe8df"/>
<rect x="35.1" y="16.3" width="16.6" height="45.3" fill="none" stroke="#e2eadc" stroke-width="1.2"/>
<rect x="37" y="18.8" width="12.8" height="16.4" fill="#fcf9b8" />
<rect x="37" y="43" width="12.8" height="16.5" fill="#fcf9b8" />
<path d="M37.3 28.4 L43.4 31.8 L49.5 28.4" fill="none" stroke="#a88e46" stroke-width="1.35"/>
<path d="M37.3 49.3 L43.4 45.4 L49.5 49.3" fill="none" stroke="#a88e46" stroke-width="1.35"/>
<path d="M53.1 50.2 L55.9 47.6 L55.9 52.8 Z" fill="#dfe8df"/>
<rect x="55.6" y="16.3" width="16.5" height="45.3" fill="none" stroke="#e2eadc" stroke-width="1.2"/>
<rect x="57.5" y="18.8" width="12.7" height="16.4" fill="#fcf9b8" />
<rect x="57.5" y="43" width="12.7" height="16.5" fill="#fcf9b8" />
<path d="M57.8 28.4 L63.85 31.8 L69.9 28.4" fill="none" stroke="#a88e46" stroke-width="1.35"/>
<path d="M57.8 49.3 L63.85 45.4 L69.9 49.3" fill="none" stroke="#a88e46" stroke-width="1.35"/>
<path d="M73.5 50.2 L76.3 47.6 L76.3 52.8 Z" fill="#dfe8df"/>
<rect x="92.8" y="20.3" width="16.6" height="16.6" rx="2" fill="#30523a"/>
<rect x="94.6" y="22.1" width="13" height="13" fill="#fcf9b8"/>
<circle cx="101.1" cy="28.6" r="2.5" fill="#140c0a"/>
<circle cx="101.1" cy="57" r="8.3" fill="#30523a"/>
<circle cx="101.1" cy="57" r="6.5" fill="#fcf9b8"/>
<circle cx="101.1" cy="57" r="2.8" fill="#140c0a"/>
<rect x="33.3" y="70" width="16.7" height="24" fill="none" stroke="#e2eadc" stroke-width="1.2"/>
<rect x="35.1" y="71.4" width="13.3" height="21.2" fill="#fcf9b8" />
<path d="M35.1 80.8 L41.75 85.6 L48.4 80.8" fill="none" stroke="#3f4a2c" stroke-width="1.6"/>
<rect x="53.9" y="70" width="16.6" height="24" fill="none" stroke="#e2eadc" stroke-width="1.2"/>
<rect x="55.7" y="71.4" width="13.2" height="21.2" fill="#fcf9b8" />
<path d="M55.7 80.8 L62.3 85.6 L68.9 80.8" fill="none" stroke="#3f4a2c" stroke-width="1.6"/>
<rect x="74.6" y="70" width="16.7" height="24" fill="none" stroke="#e2eadc" stroke-width="1.2"/>
<rect x="76.4" y="71.4" width="13.3" height="21.2" fill="#fcf9b8" />
<path d="M76.4 80.8 L83.05 85.6 L89.7 80.8" fill="none" stroke="#3f4a2c" stroke-width="1.6"/>
<rect x="111.1" y="42.5" width="16.7" height="45.5" fill="none" stroke="#e2eadc" stroke-width="1.2"/>
<rect x="113" y="44.4" width="12.9" height="17.5" fill="#fcf9b8" />
<rect x="113" y="69.1" width="12.9" height="17" fill="#fcf9b8" />
<path d="M113.3 56.5 L119.45 59 L125.6 56.5" fill="none" stroke="#a88e46" stroke-width="1.35"/>
<path d="M113.3 75.4 L119.45 72 L125.6 75.4" fill="none" stroke="#a88e46" stroke-width="1.35"/>
<path d="M129.2 76.9 L132 74.3 L132 79.5 Z" fill="#dfe8df"/>
</g>
<g transform="translate(1131,83)">
<path d="M-63.1 39 V97 L-53.4 110.6 H66.7 M-63.1 39 L-53.4 31.2 H-22.4 L-12.7 23.5 M-22.4 9.9 H150 Q153.9 9.9 153.9 14 V22 M76.4 37 H132.5 L153.9 19.6 M-30.2 64.2 H93.8 L99 69 M159.7 39.2 V114.5" stroke="#2e4f36" stroke-width="1.6" fill="none"/>
<path d="M31.3 -46 V-10 M51.7 -46 V-10 M72.2 -46 V-10 M92.6 -46 V-10 M113.1 -46 V-10" stroke="#2e4f36" stroke-width="1.6" fill="none"/>
<circle cx="0" cy="0" r="9.8" fill="#30523a"/>
<circle cx="0" cy="0" r="8" fill="#fcf9b8"/>
<circle cx="0" cy="0" r="4" fill="#140c0a"/>
<circle cx="0" cy="102.5" r="9.8" fill="#30523a"/>
<circle cx="0" cy="102.5" r="8" fill="#fcf9b8"/>
<circle cx="0" cy="102.5" r="4" fill="#140c0a"/>
<circle cx="20.56" cy="0" r="9.8" fill="#30523a"/>
<circle cx="20.56" cy="0" r="8" fill="#fcf9b8"/>
<circle cx="20.56" cy="0" r="4" fill="#140c0a"/>
<circle cx="20.56" cy="102.5" r="9.8" fill="#30523a"/>
<circle cx="20.56" cy="102.5" r="8" fill="#fcf9b8"/>
<circle cx="20.56" cy="102.5" r="4" fill="#140c0a"/>
<circle cx="41.12" cy="0" r="9.8" fill="#30523a"/>
<circle cx="41.12" cy="0" r="8" fill="#fcf9b8"/>
<circle cx="41.12" cy="0" r="4" fill="#140c0a"/>
<circle cx="41.12" cy="102.5" r="9.8" fill="#30523a"/>
<circle cx="41.12" cy="102.5" r="8" fill="#fcf9b8"/>
<circle cx="41.12" cy="102.5" r="4" fill="#140c0a"/>
<circle cx="61.68" cy="0" r="9.8" fill="#30523a"/>
<circle cx="61.68" cy="0" r="8" fill="#fcf9b8"/>
<circle cx="61.68" cy="0" r="4" fill="#140c0a"/>
<circle cx="61.68" cy="102.5" r="9.8" fill="#30523a"/>
<circle cx="61.68" cy="102.5" r="8" fill="#fcf9b8"/>
<circle cx="61.68" cy="102.5" r="4" fill="#140c0a"/>
<circle cx="82.24" cy="0" r="9.8" fill="#30523a"/>
<circle cx="82.24" cy="0" r="8" fill="#fcf9b8"/>
<circle cx="82.24" cy="0" r="4" fill="#140c0a"/>
<circle cx="82.24" cy="102.5" r="9.8" fill="#30523a"/>
<circle cx="82.24" cy="102.5" r="8" fill="#fcf9b8"/>
<circle cx="82.24" cy="102.5" r="4" fill="#140c0a"/>
<circle cx="102.8" cy="0" r="9.8" fill="#30523a"/>
<circle cx="102.8" cy="0" r="8" fill="#fcf9b8"/>
<circle cx="102.8" cy="0" r="4" fill="#140c0a"/>
<circle cx="102.8" cy="102.5" r="9.8" fill="#30523a"/>
<circle cx="102.8" cy="102.5" r="8" fill="#fcf9b8"/>
<circle cx="102.8" cy="102.5" r="4" fill="#140c0a"/>
<circle cx="123.36" cy="0" r="9.8" fill="#30523a"/>
<circle cx="123.36" cy="0" r="8" fill="#fcf9b8"/>
<circle cx="123.36" cy="0" r="4" fill="#140c0a"/>
<circle cx="123.36" cy="102.5" r="9.8" fill="#30523a"/>
<circle cx="123.36" cy="102.5" r="8" fill="#fcf9b8"/>
<circle cx="123.36" cy="102.5" r="4" fill="#140c0a"/>
<circle cx="143.92" cy="0" r="9.8" fill="#30523a"/>
<circle cx="143.92" cy="0" r="8" fill="#fcf9b8"/>
<circle cx="143.92" cy="0" r="4" fill="#140c0a"/>
<circle cx="143.92" cy="102.5" r="9.8" fill="#30523a"/>
<circle cx="143.92" cy="102.5" r="8" fill="#fcf9b8"/>
<circle cx="143.92" cy="102.5" r="4" fill="#140c0a"/>
<rect x="33.2" y="-45.9" width="17.6" height="17.6" rx="2" fill="#30523a"/>
<rect x="35" y="-44.1" width="14" height="14" fill="#fcf9b8"/>
<circle cx="42" cy="-37.1" r="3.5" fill="#140c0a"/>
<circle cx="61.8" cy="-37.1" r="8.8" fill="#30523a"/>
<circle cx="61.8" cy="-37.1" r="7" fill="#fcf9b8"/>
<circle cx="61.8" cy="-37.1" r="3.5" fill="#140c0a"/>
<circle cx="81.9" cy="-37.1" r="8.8" fill="#30523a"/>
<circle cx="81.9" cy="-37.1" r="7" fill="#fcf9b8"/>
<circle cx="81.9" cy="-37.1" r="3.5" fill="#140c0a"/>
<circle cx="102.3" cy="-37.1" r="8.8" fill="#30523a"/>
<circle cx="102.3" cy="-37.1" r="7" fill="#fcf9b8"/>
<circle cx="102.3" cy="-37.1" r="3.5" fill="#140c0a"/>
<rect x="-51.4" y="12.7" width="17.6" height="17.6" rx="2" fill="#30523a"/>
<rect x="-49.6" y="14.5" width="14" height="14" fill="#fcf9b8"/>
<circle cx="-42.6" cy="21.5" r="3.5" fill="#140c0a"/>
<circle cx="-42.6" cy="41.9" r="8.8" fill="#30523a"/>
<circle cx="-42.6" cy="41.9" r="7" fill="#fcf9b8"/>
<circle cx="-42.6" cy="41.9" r="3.5" fill="#140c0a"/>
<circle cx="-42.6" cy="61.6" r="8.8" fill="#30523a"/>
<circle cx="-42.6" cy="61.6" r="7" fill="#fcf9b8"/>
<circle cx="-42.6" cy="61.6" r="3.5" fill="#140c0a"/>
<circle cx="-42.6" cy="81.5" r="8.8" fill="#30523a"/>
<circle cx="-42.6" cy="81.5" r="7" fill="#fcf9b8"/>
<circle cx="-42.6" cy="81.5" r="3.5" fill="#140c0a"/>
<circle cx="143.9" cy="61" r="9.8" fill="#30523a"/>
<circle cx="143.9" cy="61" r="8" fill="#fcf9b8"/>
<circle cx="143.9" cy="61" r="4" fill="#140c0a"/>
<circle cx="143.9" cy="81.8" r="9.8" fill="#30523a"/>
<circle cx="143.9" cy="81.8" r="8" fill="#fcf9b8"/>
<circle cx="143.9" cy="81.8" r="4" fill="#140c0a"/>
<rect x="-6.1" y="16.3" width="16.9" height="45.3" fill="none" stroke="#e2eadc" stroke-width="1.2"/>
<rect x="-4.2" y="18.8" width="13.1" height="16.4" fill="#fcf9b8" />
<rect x="-4.2" y="43" width="13.1" height="16.5" fill="#fcf9b8" />
<path d="M-3.9 28.4 L2.35 31.8 L8.6 28.4" fill="none" stroke="#a88e46" stroke-width="1.35"/>
<path d="M-3.9 49.3 L2.35 45.4 L8.6 49.3" fill="none" stroke="#a88e46" stroke-width="1.35"/>
<path d="M12.2 50.2 L15 47.6 L15 52.8 Z" fill="#dfe8df"/>
<rect x="14.5" y="16.3" width="16.3" height="45.3" fill="none" stroke="#e2eadc" stroke-width="1.2"/>
<rect x="16.4" y="18.8" width="12.5" height="16.4" fill="#fcf9b8" />
<rect x="16.4" y="43" width="12.5" height="16.5" fill="#fcf9b8" />
<path d="M16.7 28.4 L22.65 31.8 L28.6 28.4" fill="none" stroke="#a88e46" stroke-width="1.35"/>
<path d="M16.7 49.3 L22.65 45.4 L28.6 49.3" fill="none" stroke="#a88e46" stroke-width="1.35"/>
<path d="M32.2 50.2 L35 47.6 L35 52.8 Z" fill="#dfe8df"/>
<rect x="35.1" y="16.3" width="16.6" height="45.3" fill="none" stroke="#e2eadc" stroke-width="1.2"/>
<rect x="37" y="18.8" width="12.8" height="16.4" fill="#fcf9b8" />
<rect x="37" y="43" width="12.8" height="16.5" fill="#fcf9b8" />
<path d="M37.3 28.4 L43.4 31.8 L49.5 28.4" fill="none" stroke="#a88e46" stroke-width="1.35"/>
<path d="M37.3 49.3 L43.4 45.4 L49.5 49.3" fill="none" stroke="#a88e46" stroke-width="1.35"/>
<path d="M53.1 50.2 L55.9 47.6 L55.9 52.8 Z" fill="#dfe8df"/>
<rect x="55.6" y="16.3" width="16.5" height="45.3" fill="none" stroke="#e2eadc" stroke-width="1.2"/>
<rect x="57.5" y="18.8" width="12.7" height="16.4" fill="#fcf9b8" />
<rect x="57.5" y="43" width="12.7" height="16.5" fill="#fcf9b8" />
<path d="M57.8 28.4 L63.85 31.8 L69.9 28.4" fill="none" stroke="#a88e46" stroke-width="1.35"/>
<path d="M57.8 49.3 L63.85 45.4 L69.9 49.3" fill="none" stroke="#a88e46" stroke-width="1.35"/>
<path d="M73.5 50.2 L76.3 47.6 L76.3 52.8 Z" fill="#dfe8df"/>
<rect x="92.8" y="20.3" width="16.6" height="16.6" rx="2" fill="#30523a"/>
<rect x="94.6" y="22.1" width="13" height="13" fill="#fcf9b8"/>
<circle cx="101.1" cy="28.6" r="2.5" fill="#140c0a"/>
<circle cx="101.1" cy="57" r="8.3" fill="#30523a"/>
<circle cx="101.1" cy="57" r="6.5" fill="#fcf9b8"/>
<circle cx="101.1" cy="57" r="2.8" fill="#140c0a"/>
<rect x="33.3" y="70" width="16.7" height="24" fill="none" stroke="#e2eadc" stroke-width="1.2"/>
<rect x="35.1" y="71.4" width="13.3" height="21.2" fill="#fcf9b8" />
<path d="M35.1 80.8 L41.75 85.6 L48.4 80.8" fill="none" stroke="#3f4a2c" stroke-width="1.6"/>
<rect x="53.9" y="70" width="16.6" height="24" fill="none" stroke="#e2eadc" stroke-width="1.2"/>
<rect x="55.7" y="71.4" width="13.2" height="21.2" fill="#fcf9b8" />
<path d="M55.7 80.8 L62.3 85.6 L68.9 80.8" fill="none" stroke="#3f4a2c" stroke-width="1.6"/>
<rect x="74.6" y="70" width="16.7" height="24" fill="none" stroke="#e2eadc" stroke-width="1.2"/>
<rect x="76.4" y="71.4" width="13.3" height="21.2" fill="#fcf9b8" />
<path d="M76.4 80.8 L83.05 85.6 L89.7 80.8" fill="none" stroke="#3f4a2c" stroke-width="1.6"/>
<rect x="111.1" y="42.5" width="16.7" height="45.5" fill="none" stroke="#e2eadc" stroke-width="1.2"/>
<rect x="113" y="44.4" width="12.9" height="17.5" fill="#fcf9b8" />
<rect x="113" y="69.1" width="12.9" height="17" fill="#fcf9b8" />
<path d="M113.3 56.5 L119.45 59 L125.6 56.5" fill="none" stroke="#a88e46" stroke-width="1.35"/>
<path d="M113.3 75.4 L119.45 72 L125.6 75.4" fill="none" stroke="#a88e46" stroke-width="1.35"/>
<path d="M129.2 76.9 L132 74.3 L132 79.5 Z" fill="#dfe8df"/>
</g>
<g transform="translate(765.8,815) rotate(180)">
<path d="M-63.1 39 V97 L-53.4 110.6 H66.7 M-63.1 39 L-53.4 31.2 H-22.4 L-12.7 23.5 M-22.4 9.9 H150 Q153.9 9.9 153.9 14 V22 M76.4 37 H132.5 L153.9 19.6 M-30.2 64.2 H93.8 L99 69 M159.7 39.2 V114.5" stroke="#2e4f36" stroke-width="1.6" fill="none"/>
<path d="M31.3 -46 V-10 M51.7 -46 V-10 M72.2 -46 V-10 M92.6 -46 V-10 M113.1 -46 V-10" stroke="#2e4f36" stroke-width="1.6" fill="none"/>
<circle cx="0" cy="0" r="9.8" fill="#30523a"/>
<circle cx="0" cy="0" r="8" fill="#fcf9b8"/>
<circle cx="0" cy="0" r="4" fill="#140c0a"/>
<circle cx="0" cy="102.5" r="9.8" fill="#30523a"/>
<circle cx="0" cy="102.5" r="8" fill="#fcf9b8"/>
<circle cx="0" cy="102.5" r="4" fill="#140c0a"/>
<circle cx="20.56" cy="0" r="9.8" fill="#30523a"/>
<circle cx="20.56" cy="0" r="8" fill="#fcf9b8"/>
<circle cx="20.56" cy="0" r="4" fill="#140c0a"/>
<circle cx="20.56" cy="102.5" r="9.8" fill="#30523a"/>
<circle cx="20.56" cy="102.5" r="8" fill="#fcf9b8"/>
<circle cx="20.56" cy="102.5" r="4" fill="#140c0a"/>
<circle cx="41.12" cy="0" r="9.8" fill="#30523a"/>
<circle cx="41.12" cy="0" r="8" fill="#fcf9b8"/>
<circle cx="41.12" cy="0" r="4" fill="#140c0a"/>
<circle cx="41.12" cy="102.5" r="9.8" fill="#30523a"/>
<circle cx="41.12" cy="102.5" r="8" fill="#fcf9b8"/>
<circle cx="41.12" cy="102.5" r="4" fill="#140c0a"/>
<circle cx="61.68" cy="0" r="9.8" fill="#30523a"/>
<circle cx="61.68" cy="0" r="8" fill="#fcf9b8"/>
<circle cx="61.68" cy="0" r="4" fill="#140c0a"/>
<circle cx="61.68" cy="102.5" r="9.8" fill="#30523a"/>
<circle cx="61.68" cy="102.5" r="8" fill="#fcf9b8"/>
<circle cx="61.68" cy="102.5" r="4" fill="#140c0a"/>
<circle cx="82.24" cy="0" r="9.8" fill="#30523a"/>
<circle cx="82.24" cy="0" r="8" fill="#fcf9b8"/>
<circle cx="82.24" cy="0" r="4" fill="#140c0a"/>
<circle cx="82.24" cy="102.5" r="9.8" fill="#30523a"/>
<circle cx="82.24" cy="102.5" r="8" fill="#fcf9b8"/>
<circle cx="82.24" cy="102.5" r="4" fill="#140c0a"/>
<circle cx="102.8" cy="0" r="9.8" fill="#30523a"/>
<circle cx="102.8" cy="0" r="8" fill="#fcf9b8"/>
<circle cx="102.8" cy="0" r="4" fill="#140c0a"/>
<circle cx="102.8" cy="102.5" r="9.8" fill="#30523a"/>
<circle cx="102.8" cy="102.5" r="8" fill="#fcf9b8"/>
<circle cx="102.8" cy="102.5" r="4" fill="#140c0a"/>
<circle cx="123.36" cy="0" r="9.8" fill="#30523a"/>
<circle cx="123.36" cy="0" r="8" fill="#fcf9b8"/>
<circle cx="123.36" cy="0" r="4" fill="#140c0a"/>
<circle cx="123.36" cy="102.5" r="9.8" fill="#30523a"/>
<circle cx="123.36" cy="102.5" r="8" fill="#fcf9b8"/>
<circle cx="123.36" cy="102.5" r="4" fill="#140c0a"/>
<circle cx="143.92" cy="0" r="9.8" fill="#30523a"/>
<circle cx="143.92" cy="0" r="8" fill="#fcf9b8"/>
<circle cx="143.92" cy="0" r="4" fill="#140c0a"/>
<circle cx="143.92" cy="102.5" r="9.8" fill="#30523a"/>
<circle cx="143.92" cy="102.5" r="8" fill="#fcf9b8"/>
<circle cx="143.92" cy="102.5" r="4" fill="#140c0a"/>
<rect x="33.2" y="-45.9" width="17.6" height="17.6" rx="2" fill="#30523a"/>
<rect x="35" y="-44.1" width="14" height="14" fill="#fcf9b8"/>
<circle cx="42" cy="-37.1" r="3.5" fill="#140c0a"/>
<circle cx="61.8" cy="-37.1" r="8.8" fill="#30523a"/>
<circle cx="61.8" cy="-37.1" r="7" fill="#fcf9b8"/>
<circle cx="61.8" cy="-37.1" r="3.5" fill="#140c0a"/>
<circle cx="81.9" cy="-37.1" r="8.8" fill="#30523a"/>
<circle cx="81.9" cy="-37.1" r="7" fill="#fcf9b8"/>
<circle cx="81.9" cy="-37.1" r="3.5" fill="#140c0a"/>
<circle cx="102.3" cy="-37.1" r="8.8" fill="#30523a"/>
<circle cx="102.3" cy="-37.1" r="7" fill="#fcf9b8"/>
<circle cx="102.3" cy="-37.1" r="3.5" fill="#140c0a"/>
<rect x="-51.4" y="12.7" width="17.6" height="17.6" rx="2" fill="#30523a"/>
<rect x="-49.6" y="14.5" width="14" height="14" fill="#fcf9b8"/>
<circle cx="-42.6" cy="21.5" r="3.5" fill="#140c0a"/>
<circle cx="-42.6" cy="41.9" r="8.8" fill="#30523a"/>
<circle cx="-42.6" cy="41.9" r="7" fill="#fcf9b8"/>
<circle cx="-42.6" cy="41.9" r="3.5" fill="#140c0a"/>
<circle cx="-42.6" cy="61.6" r="8.8" fill="#30523a"/>
<circle cx="-42.6" cy="61.6" r="7" fill="#fcf9b8"/>
<circle cx="-42.6" cy="61.6" r="3.5" fill="#140c0a"/>
<circle cx="-42.6" cy="81.5" r="8.8" fill="#30523a"/>
<circle cx="-42.6" cy="81.5" r="7" fill="#fcf9b8"/>
<circle cx="-42.6" cy="81.5" r="3.5" fill="#140c0a"/>
<circle cx="143.9" cy="61" r="9.8" fill="#30523a"/>
<circle cx="143.9" cy="61" r="8" fill="#fcf9b8"/>
<circle cx="143.9" cy="61" r="4" fill="#140c0a"/>
<circle cx="143.9" cy="81.8" r="9.8" fill="#30523a"/>
<circle cx="143.9" cy="81.8" r="8" fill="#fcf9b8"/>
<circle cx="143.9" cy="81.8" r="4" fill="#140c0a"/>
<rect x="-6.1" y="16.3" width="16.9" height="45.3" fill="none" stroke="#e2eadc" stroke-width="1.2"/>
<rect x="-4.2" y="18.8" width="13.1" height="16.4" fill="#fcf9b8" />
<rect x="-4.2" y="43" width="13.1" height="16.5" fill="#fcf9b8" />
<path d="M-3.9 28.4 L2.35 31.8 L8.6 28.4" fill="none" stroke="#a88e46" stroke-width="1.35"/>
<path d="M-3.9 49.3 L2.35 45.4 L8.6 49.3" fill="none" stroke="#a88e46" stroke-width="1.35"/>
<path d="M12.2 50.2 L15 47.6 L15 52.8 Z" fill="#dfe8df"/>
<rect x="14.5" y="16.3" width="16.3" height="45.3" fill="none" stroke="#e2eadc" stroke-width="1.2"/>
<rect x="16.4" y="18.8" width="12.5" height="16.4" fill="#fcf9b8" />
<rect x="16.4" y="43" width="12.5" height="16.5" fill="#fcf9b8" />
<path d="M16.7 28.4 L22.65 31.8 L28.6 28.4" fill="none" stroke="#a88e46" stroke-width="1.35"/>
<path d="M16.7 49.3 L22.65 45.4 L28.6 49.3" fill="none" stroke="#a88e46" stroke-width="1.35"/>
<path d="M32.2 50.2 L35 47.6 L35 52.8 Z" fill="#dfe8df"/>
<rect x="35.1" y="16.3" width="16.6" height="45.3" fill="none" stroke="#e2eadc" stroke-width="1.2"/>
<rect x="37" y="18.8" width="12.8" height="16.4" fill="#fcf9b8" />
<rect x="37" y="43" width="12.8" height="16.5" fill="#fcf9b8" />
<path d="M37.3 28.4 L43.4 31.8 L49.5 28.4" fill="none" stroke="#a88e46" stroke-width="1.35"/>
<path d="M37.3 49.3 L43.4 45.4 L49.5 49.3" fill="none" stroke="#a88e46" stroke-width="1.35"/>
<path d="M53.1 50.2 L55.9 47.6 L55.9 52.8 Z" fill="#dfe8df"/>
<rect x="55.6" y="16.3" width="16.5" height="45.3" fill="none" stroke="#e2eadc" stroke-width="1.2"/>
<rect x="57.5" y="18.8" width="12.7" height="16.4" fill="#fcf9b8" />
<rect x="57.5" y="43" width="12.7" height="16.5" fill="#fcf9b8" />
<path d="M57.8 28.4 L63.85 31.8 L69.9 28.4" fill="none" stroke="#a88e46" stroke-width="1.35"/>
<path d="M57.8 49.3 L63.85 45.4 L69.9 49.3" fill="none" stroke="#a88e46" stroke-width="1.35"/>
<path d="M73.5 50.2 L76.3 47.6 L76.3 52.8 Z" fill="#dfe8df"/>
<rect x="92.8" y="20.3" width="16.6" height="16.6" rx="2" fill="#30523a"/>
<rect x="94.6" y="22.1" width="13" height="13" fill="#fcf9b8"/>
<circle cx="101.1" cy="28.6" r="2.5" fill="#140c0a"/>
<circle cx="101.1" cy="57" r="8.3" fill="#30523a"/>
<circle cx="101.1" cy="57" r="6.5" fill="#fcf9b8"/>
<circle cx="101.1" cy="57" r="2.8" fill="#140c0a"/>
<rect x="33.3" y="70" width="16.7" height="24" fill="none" stroke="#e2eadc" stroke-width="1.2"/>
<rect x="35.1" y="71.4" width="13.3" height="21.2" fill="#fcf9b8" />
<path d="M35.1 80.8 L41.75 85.6 L48.4 80.8" fill="none" stroke="#3f4a2c" stroke-width="1.6"/>
<rect x="53.9" y="70" width="16.6" height="24" fill="none" stroke="#e2eadc" stroke-width="1.2"/>
<rect x="55.7" y="71.4" width="13.2" height="21.2" fill="#fcf9b8" />
<path d="M55.7 80.8 L62.3 85.6 L68.9 80.8" fill="none" stroke="#3f4a2c" stroke-width="1.6"/>
<rect x="74.6" y="70" width="16.7" height="24" fill="none" stroke="#e2eadc" stroke-width="1.2"/>
<rect x="76.4" y="71.4" width="13.3" height="21.2" fill="#fcf9b8" />
<path d="M76.4 80.8 L83.05 85.6 L89.7 80.8" fill="none" stroke="#3f4a2c" stroke-width="1.6"/>
<rect x="111.1" y="42.5" width="16.7" height="45.5" fill="none" stroke="#e2eadc" stroke-width="1.2"/>
<rect x="113" y="44.4" width="12.9" height="17.5" fill="#fcf9b8" />
<rect x="113" y="69.1" width="12.9" height="17" fill="#fcf9b8" />
<path d="M113.3 56.5 L119.45 59 L125.6 56.5" fill="none" stroke="#a88e46" stroke-width="1.35"/>
<path d="M113.3 75.4 L119.45 72 L125.6 75.4" fill="none" stroke="#a88e46" stroke-width="1.35"/>
<path d="M129.2 76.9 L132 74.3 L132 79.5 Z" fill="#dfe8df"/>
</g>
<g transform="translate(1008,815.6) rotate(180)">
<path d="M-63.1 39 V97 L-53.4 110.6 H66.7 M-63.1 39 L-53.4 31.2 H-22.4 L-12.7 23.5 M-22.4 9.9 H150 Q153.9 9.9 153.9 14 V22 M76.4 37 H132.5 L153.9 19.6 M-30.2 64.2 H93.8 L99 69 M159.7 39.2 V114.5" stroke="#2e4f36" stroke-width="1.6" fill="none"/>
<path d="M31.3 -46 V-10 M51.7 -46 V-10 M72.2 -46 V-10 M92.6 -46 V-10 M113.1 -46 V-10" stroke="#2e4f36" stroke-width="1.6" fill="none"/>
<circle cx="0" cy="0" r="9.8" fill="#30523a"/>
<circle cx="0" cy="0" r="8" fill="#fcf9b8"/>
<circle cx="0" cy="0" r="4" fill="#140c0a"/>
<circle cx="0" cy="102.5" r="9.8" fill="#30523a"/>
<circle cx="0" cy="102.5" r="8" fill="#fcf9b8"/>
<circle cx="0" cy="102.5" r="4" fill="#140c0a"/>
<circle cx="20.56" cy="0" r="9.8" fill="#30523a"/>
<circle cx="20.56" cy="0" r="8" fill="#fcf9b8"/>
<circle cx="20.56" cy="0" r="4" fill="#140c0a"/>
<circle cx="20.56" cy="102.5" r="9.8" fill="#30523a"/>
<circle cx="20.56" cy="102.5" r="8" fill="#fcf9b8"/>
<circle cx="20.56" cy="102.5" r="4" fill="#140c0a"/>
<circle cx="41.12" cy="0" r="9.8" fill="#30523a"/>
<circle cx="41.12" cy="0" r="8" fill="#fcf9b8"/>
<circle cx="41.12" cy="0" r="4" fill="#140c0a"/>
<circle cx="41.12" cy="102.5" r="9.8" fill="#30523a"/>
<circle cx="41.12" cy="102.5" r="8" fill="#fcf9b8"/>
<circle cx="41.12" cy="102.5" r="4" fill="#140c0a"/>
<circle cx="61.68" cy="0" r="9.8" fill="#30523a"/>
<circle cx="61.68" cy="0" r="8" fill="#fcf9b8"/>
<circle cx="61.68" cy="0" r="4" fill="#140c0a"/>
<circle cx="61.68" cy="102.5" r="9.8" fill="#30523a"/>
<circle cx="61.68" cy="102.5" r="8" fill="#fcf9b8"/>
<circle cx="61.68" cy="102.5" r="4" fill="#140c0a"/>
<circle cx="82.24" cy="0" r="9.8" fill="#30523a"/>
<circle cx="82.24" cy="0" r="8" fill="#fcf9b8"/>
<circle cx="82.24" cy="0" r="4" fill="#140c0a"/>
<circle cx="82.24" cy="102.5" r="9.8" fill="#30523a"/>
<circle cx="82.24" cy="102.5" r="8" fill="#fcf9b8"/>
<circle cx="82.24" cy="102.5" r="4" fill="#140c0a"/>
<circle cx="102.8" cy="0" r="9.8" fill="#30523a"/>
<circle cx="102.8" cy="0" r="8" fill="#fcf9b8"/>
<circle cx="102.8" cy="0" r="4" fill="#140c0a"/>
<circle cx="102.8" cy="102.5" r="9.8" fill="#30523a"/>
<circle cx="102.8" cy="102.5" r="8" fill="#fcf9b8"/>
<circle cx="102.8" cy="102.5" r="4" fill="#140c0a"/>
<circle cx="123.36" cy="0" r="9.8" fill="#30523a"/>
<circle cx="123.36" cy="0" r="8" fill="#fcf9b8"/>
<circle cx="123.36" cy="0" r="4" fill="#140c0a"/>
<circle cx="123.36" cy="102.5" r="9.8" fill="#30523a"/>
<circle cx="123.36" cy="102.5" r="8" fill="#fcf9b8"/>
<circle cx="123.36" cy="102.5" r="4" fill="#140c0a"/>
<circle cx="143.92" cy="0" r="9.8" fill="#30523a"/>
<circle cx="143.92" cy="0" r="8" fill="#fcf9b8"/>
<circle cx="143.92" cy="0" r="4" fill="#140c0a"/>
<circle cx="143.92" cy="102.5" r="9.8" fill="#30523a"/>
<circle cx="143.92" cy="102.5" r="8" fill="#fcf9b8"/>
<circle cx="143.92" cy="102.5" r="4" fill="#140c0a"/>
<rect x="33.2" y="-45.9" width="17.6" height="17.6" rx="2" fill="#30523a"/>
<rect x="35" y="-44.1" width="14" height="14" fill="#fcf9b8"/>
<circle cx="42" cy="-37.1" r="3.5" fill="#140c0a"/>
<circle cx="61.8" cy="-37.1" r="8.8" fill="#30523a"/>
<circle cx="61.8" cy="-37.1" r="7" fill="#fcf9b8"/>
<circle cx="61.8" cy="-37.1" r="3.5" fill="#140c0a"/>
<circle cx="81.9" cy="-37.1" r="8.8" fill="#30523a"/>
<circle cx="81.9" cy="-37.1" r="7" fill="#fcf9b8"/>
<circle cx="81.9" cy="-37.1" r="3.5" fill="#140c0a"/>
<circle cx="102.3" cy="-37.1" r="8.8" fill="#30523a"/>
<circle cx="102.3" cy="-37.1" r="7" fill="#fcf9b8"/>
<circle cx="102.3" cy="-37.1" r="3.5" fill="#140c0a"/>
<rect x="-51.4" y="12.7" width="17.6" height="17.6" rx="2" fill="#30523a"/>
<rect x="-49.6" y="14.5" width="14" height="14" fill="#fcf9b8"/>
<circle cx="-42.6" cy="21.5" r="3.5" fill="#140c0a"/>
<circle cx="-42.6" cy="41.9" r="8.8" fill="#30523a"/>
<circle cx="-42.6" cy="41.9" r="7" fill="#fcf9b8"/>
<circle cx="-42.6" cy="41.9" r="3.5" fill="#140c0a"/>
<circle cx="-42.6" cy="61.6" r="8.8" fill="#30523a"/>
<circle cx="-42.6" cy="61.6" r="7" fill="#fcf9b8"/>
<circle cx="-42.6" cy="61.6" r="3.5" fill="#140c0a"/>
<circle cx="-42.6" cy="81.5" r="8.8" fill="#30523a"/>
<circle cx="-42.6" cy="81.5" r="7" fill="#fcf9b8"/>
<circle cx="-42.6" cy="81.5" r="3.5" fill="#140c0a"/>
<circle cx="143.9" cy="61" r="9.8" fill="#30523a"/>
<circle cx="143.9" cy="61" r="8" fill="#fcf9b8"/>
<circle cx="143.9" cy="61" r="4" fill="#140c0a"/>
<circle cx="143.9" cy="81.8" r="9.8" fill="#30523a"/>
<circle cx="143.9" cy="81.8" r="8" fill="#fcf9b8"/>
<circle cx="143.9" cy="81.8" r="4" fill="#140c0a"/>
<rect x="-6.1" y="16.3" width="16.9" height="45.3" fill="none" stroke="#e2eadc" stroke-width="1.2"/>
<rect x="-4.2" y="18.8" width="13.1" height="16.4" fill="#fcf9b8" />
<rect x="-4.2" y="43" width="13.1" height="16.5" fill="#fcf9b8" />
<path d="M-3.9 28.4 L2.35 31.8 L8.6 28.4" fill="none" stroke="#a88e46" stroke-width="1.35"/>
<path d="M-3.9 49.3 L2.35 45.4 L8.6 49.3" fill="none" stroke="#a88e46" stroke-width="1.35"/>
<path d="M12.2 50.2 L15 47.6 L15 52.8 Z" fill="#dfe8df"/>
<rect x="14.5" y="16.3" width="16.3" height="45.3" fill="none" stroke="#e2eadc" stroke-width="1.2"/>
<rect x="16.4" y="18.8" width="12.5" height="16.4" fill="#fcf9b8" />
<rect x="16.4" y="43" width="12.5" height="16.5" fill="#fcf9b8" />
<path d="M16.7 28.4 L22.65 31.8 L28.6 28.4" fill="none" stroke="#a88e46" stroke-width="1.35"/>
<path d="M16.7 49.3 L22.65 45.4 L28.6 49.3" fill="none" stroke="#a88e46" stroke-width="1.35"/>
<path d="M32.2 50.2 L35 47.6 L35 52.8 Z" fill="#dfe8df"/>
<rect x="35.1" y="16.3" width="16.6" height="45.3" fill="none" stroke="#e2eadc" stroke-width="1.2"/>
<rect x="37" y="18.8" width="12.8" height="16.4" fill="#fcf9b8" />
<rect x="37" y="43" width="12.8" height="16.5" fill="#fcf9b8" />
<path d="M37.3 28.4 L43.4 31.8 L49.5 28.4" fill="none" stroke="#a88e46" stroke-width="1.35"/>
<path d="M37.3 49.3 L43.4 45.4 L49.5 49.3" fill="none" stroke="#a88e46" stroke-width="1.35"/>
<path d="M53.1 50.2 L55.9 47.6 L55.9 52.8 Z" fill="#dfe8df"/>
<rect x="55.6" y="16.3" width="16.5" height="45.3" fill="none" stroke="#e2eadc" stroke-width="1.2"/>
<rect x="57.5" y="18.8" width="12.7" height="16.4" fill="#fcf9b8" />
<rect x="57.5" y="43" width="12.7" height="16.5" fill="#fcf9b8" />
<path d="M57.8 28.4 L63.85 31.8 L69.9 28.4" fill="none" stroke="#a88e46" stroke-width="1.35"/>
<path d="M57.8 49.3 L63.85 45.4 L69.9 49.3" fill="none" stroke="#a88e46" stroke-width="1.35"/>
<path d="M73.5 50.2 L76.3 47.6 L76.3 52.8 Z" fill="#dfe8df"/>
<rect x="92.8" y="20.3" width="16.6" height="16.6" rx="2" fill="#30523a"/>
<rect x="94.6" y="22.1" width="13" height="13" fill="#fcf9b8"/>
<circle cx="101.1" cy="28.6" r="2.5" fill="#140c0a"/>
<circle cx="101.1" cy="57" r="8.3" fill="#30523a"/>
<circle cx="101.1" cy="57" r="6.5" fill="#fcf9b8"/>
<circle cx="101.1" cy="57" r="2.8" fill="#140c0a"/>
<rect x="33.3" y="70" width="16.7" height="24" fill="none" stroke="#e2eadc" stroke-width="1.2"/>
<rect x="35.1" y="71.4" width="13.3" height="21.2" fill="#fcf9b8" />
<path d="M35.1 80.8 L41.75 85.6 L48.4 80.8" fill="none" stroke="#3f4a2c" stroke-width="1.6"/>
<rect x="53.9" y="70" width="16.6" height="24" fill="none" stroke="#e2eadc" stroke-width="1.2"/>
<rect x="55.7" y="71.4" width="13.2" height="21.2" fill="#fcf9b8" />
<path d="M55.7 80.8 L62.3 85.6 L68.9 80.8" fill="none" stroke="#3f4a2c" stroke-width="1.6"/>
<rect x="74.6" y="70" width="16.7" height="24" fill="none" stroke="#e2eadc" stroke-width="1.2"/>
<rect x="76.4" y="71.4" width="13.3" height="21.2" fill="#fcf9b8" />
<path d="M76.4 80.8 L83.05 85.6 L89.7 80.8" fill="none" stroke="#3f4a2c" stroke-width="1.6"/>
<rect x="111.1" y="42.5" width="16.7" height="45.5" fill="none" stroke="#e2eadc" stroke-width="1.2"/>
<rect x="113" y="44.4" width="12.9" height="17.5" fill="#fcf9b8" />
<rect x="113" y="69.1" width="12.9" height="17" fill="#fcf9b8" />
<path d="M113.3 56.5 L119.45 59 L125.6 56.5" fill="none" stroke="#a88e46" stroke-width="1.35"/>
<path d="M113.3 75.4 L119.45 72 L125.6 75.4" fill="none" stroke="#a88e46" stroke-width="1.35"/>
<path d="M129.2 76.9 L132 74.3 L132 79.5 Z" fill="#dfe8df"/>
</g>
<g transform="translate(1250.1,816) rotate(180)">
<path d="M-63.1 39 V97 L-53.4 110.6 H66.7 M-63.1 39 L-53.4 31.2 H-22.4 L-12.7 23.5 M-22.4 9.9 H150 Q153.9 9.9 153.9 14 V22 M76.4 37 H132.5 L153.9 19.6 M-30.2 64.2 H93.8 L99 69 M159.7 39.2 V114.5" stroke="#2e4f36" stroke-width="1.6" fill="none"/>
<path d="M31.3 -46 V-10 M51.7 -46 V-10 M72.2 -46 V-10 M92.6 -46 V-10 M113.1 -46 V-10" stroke="#2e4f36" stroke-width="1.6" fill="none"/>
<circle cx="0" cy="0" r="9.8" fill="#30523a"/>
<circle cx="0" cy="0" r="8" fill="#fcf9b8"/>
<circle cx="0" cy="0" r="4" fill="#140c0a"/>
<circle cx="0" cy="102.5" r="9.8" fill="#30523a"/>
<circle cx="0" cy="102.5" r="8" fill="#fcf9b8"/>
<circle cx="0" cy="102.5" r="4" fill="#140c0a"/>
<circle cx="20.56" cy="0" r="9.8" fill="#30523a"/>
<circle cx="20.56" cy="0" r="8" fill="#fcf9b8"/>
<circle cx="20.56" cy="0" r="4" fill="#140c0a"/>
<circle cx="20.56" cy="102.5" r="9.8" fill="#30523a"/>
<circle cx="20.56" cy="102.5" r="8" fill="#fcf9b8"/>
<circle cx="20.56" cy="102.5" r="4" fill="#140c0a"/>
<circle cx="41.12" cy="0" r="9.8" fill="#30523a"/>
<circle cx="41.12" cy="0" r="8" fill="#fcf9b8"/>
<circle cx="41.12" cy="0" r="4" fill="#140c0a"/>
<circle cx="41.12" cy="102.5" r="9.8" fill="#30523a"/>
<circle cx="41.12" cy="102.5" r="8" fill="#fcf9b8"/>
<circle cx="41.12" cy="102.5" r="4" fill="#140c0a"/>
<circle cx="61.68" cy="0" r="9.8" fill="#30523a"/>
<circle cx="61.68" cy="0" r="8" fill="#fcf9b8"/>
<circle cx="61.68" cy="0" r="4" fill="#140c0a"/>
<circle cx="61.68" cy="102.5" r="9.8" fill="#30523a"/>
<circle cx="61.68" cy="102.5" r="8" fill="#fcf9b8"/>
<circle cx="61.68" cy="102.5" r="4" fill="#140c0a"/>
<circle cx="82.24" cy="0" r="9.8" fill="#30523a"/>
<circle cx="82.24" cy="0" r="8" fill="#fcf9b8"/>
<circle cx="82.24" cy="0" r="4" fill="#140c0a"/>
<circle cx="82.24" cy="102.5" r="9.8" fill="#30523a"/>
<circle cx="82.24" cy="102.5" r="8" fill="#fcf9b8"/>
<circle cx="82.24" cy="102.5" r="4" fill="#140c0a"/>
<circle cx="102.8" cy="0" r="9.8" fill="#30523a"/>
<circle cx="102.8" cy="0" r="8" fill="#fcf9b8"/>
<circle cx="102.8" cy="0" r="4" fill="#140c0a"/>
<circle cx="102.8" cy="102.5" r="9.8" fill="#30523a"/>
<circle cx="102.8" cy="102.5" r="8" fill="#fcf9b8"/>
<circle cx="102.8" cy="102.5" r="4" fill="#140c0a"/>
<circle cx="123.36" cy="0" r="9.8" fill="#30523a"/>
<circle cx="123.36" cy="0" r="8" fill="#fcf9b8"/>
<circle cx="123.36" cy="0" r="4" fill="#140c0a"/>
<circle cx="123.36" cy="102.5" r="9.8" fill="#30523a"/>
<circle cx="123.36" cy="102.5" r="8" fill="#fcf9b8"/>
<circle cx="123.36" cy="102.5" r="4" fill="#140c0a"/>
<circle cx="143.92" cy="0" r="9.8" fill="#30523a"/>
<circle cx="143.92" cy="0" r="8" fill="#fcf9b8"/>
<circle cx="143.92" cy="0" r="4" fill="#140c0a"/>
<circle cx="143.92" cy="102.5" r="9.8" fill="#30523a"/>
<circle cx="143.92" cy="102.5" r="8" fill="#fcf9b8"/>
<circle cx="143.92" cy="102.5" r="4" fill="#140c0a"/>
<rect x="33.2" y="-45.9" width="17.6" height="17.6" rx="2" fill="#30523a"/>
<rect x="35" y="-44.1" width="14" height="14" fill="#fcf9b8"/>
<circle cx="42" cy="-37.1" r="3.5" fill="#140c0a"/>
<circle cx="61.8" cy="-37.1" r="8.8" fill="#30523a"/>
<circle cx="61.8" cy="-37.1" r="7" fill="#fcf9b8"/>
<circle cx="61.8" cy="-37.1" r="3.5" fill="#140c0a"/>
<circle cx="81.9" cy="-37.1" r="8.8" fill="#30523a"/>
<circle cx="81.9" cy="-37.1" r="7" fill="#fcf9b8"/>
<circle cx="81.9" cy="-37.1" r="3.5" fill="#140c0a"/>
<circle cx="102.3" cy="-37.1" r="8.8" fill="#30523a"/>
<circle cx="102.3" cy="-37.1" r="7" fill="#fcf9b8"/>
<circle cx="102.3" cy="-37.1" r="3.5" fill="#140c0a"/>
<rect x="-51.4" y="12.7" width="17.6" height="17.6" rx="2" fill="#30523a"/>
<rect x="-49.6" y="14.5" width="14" height="14" fill="#fcf9b8"/>
<circle cx="-42.6" cy="21.5" r="3.5" fill="#140c0a"/>
<circle cx="-42.6" cy="41.9" r="8.8" fill="#30523a"/>
<circle cx="-42.6" cy="41.9" r="7" fill="#fcf9b8"/>
<circle cx="-42.6" cy="41.9" r="3.5" fill="#140c0a"/>
<circle cx="-42.6" cy="61.6" r="8.8" fill="#30523a"/>
<circle cx="-42.6" cy="61.6" r="7" fill="#fcf9b8"/>
<circle cx="-42.6" cy="61.6" r="3.5" fill="#140c0a"/>
<circle cx="-42.6" cy="81.5" r="8.8" fill="#30523a"/>
<circle cx="-42.6" cy="81.5" r="7" fill="#fcf9b8"/>
<circle cx="-42.6" cy="81.5" r="3.5" fill="#140c0a"/>
<circle cx="143.9" cy="61" r="9.8" fill="#30523a"/>
<circle cx="143.9" cy="61" r="8" fill="#fcf9b8"/>
<circle cx="143.9" cy="61" r="4" fill="#140c0a"/>
<circle cx="143.9" cy="81.8" r="9.8" fill="#30523a"/>
<circle cx="143.9" cy="81.8" r="8" fill="#fcf9b8"/>
<circle cx="143.9" cy="81.8" r="4" fill="#140c0a"/>
<rect x="-6.1" y="16.3" width="16.9" height="45.3" fill="none" stroke="#e2eadc" stroke-width="1.2"/>
<rect x="-4.2" y="18.8" width="13.1" height="16.4" fill="#fcf9b8" />
<rect x="-4.2" y="43" width="13.1" height="16.5" fill="#fcf9b8" />
<path d="M-3.9 28.4 L2.35 31.8 L8.6 28.4" fill="none" stroke="#a88e46" stroke-width="1.35"/>
<path d="M-3.9 49.3 L2.35 45.4 L8.6 49.3" fill="none" stroke="#a88e46" stroke-width="1.35"/>
<path d="M12.2 50.2 L15 47.6 L15 52.8 Z" fill="#dfe8df"/>
<rect x="14.5" y="16.3" width="16.3" height="45.3" fill="none" stroke="#e2eadc" stroke-width="1.2"/>
<rect x="16.4" y="18.8" width="12.5" height="16.4" fill="#fcf9b8" />
<rect x="16.4" y="43" width="12.5" height="16.5" fill="#fcf9b8" />
<path d="M16.7 28.4 L22.65 31.8 L28.6 28.4" fill="none" stroke="#a88e46" stroke-width="1.35"/>
<path d="M16.7 49.3 L22.65 45.4 L28.6 49.3" fill="none" stroke="#a88e46" stroke-width="1.35"/>
<path d="M32.2 50.2 L35 47.6 L35 52.8 Z" fill="#dfe8df"/>
<rect x="35.1" y="16.3" width="16.6" height="45.3" fill="none" stroke="#e2eadc" stroke-width="1.2"/>
<rect x="37" y="18.8" width="12.8" height="16.4" fill="#fcf9b8" />
<rect x="37" y="43" width="12.8" height="16.5" fill="#fcf9b8" />
<path d="M37.3 28.4 L43.4 31.8 L49.5 28.4" fill="none" stroke="#a88e46" stroke-width="1.35"/>
<path d="M37.3 49.3 L43.4 45.4 L49.5 49.3" fill="none" stroke="#a88e46" stroke-width="1.35"/>
<path d="M53.1 50.2 L55.9 47.6 L55.9 52.8 Z" fill="#dfe8df"/>
<rect x="55.6" y="16.3" width="16.5" height="45.3" fill="none" stroke="#e2eadc" stroke-width="1.2"/>
<rect x="57.5" y="18.8" width="12.7" height="16.4" fill="#fcf9b8" />
<rect x="57.5" y="43" width="12.7" height="16.5" fill="#fcf9b8" />
<path d="M57.8 28.4 L63.85 31.8 L69.9 28.4" fill="none" stroke="#a88e46" stroke-width="1.35"/>
<path d="M57.8 49.3 L63.85 45.4 L69.9 49.3" fill="none" stroke="#a88e46" stroke-width="1.35"/>
<path d="M73.5 50.2 L76.3 47.6 L76.3 52.8 Z" fill="#dfe8df"/>
<rect x="92.8" y="20.3" width="16.6" height="16.6" rx="2" fill="#30523a"/>
<rect x="94.6" y="22.1" width="13" height="13" fill="#fcf9b8"/>
<circle cx="101.1" cy="28.6" r="2.5" fill="#140c0a"/>
<circle cx="101.1" cy="57" r="8.3" fill="#30523a"/>
<circle cx="101.1" cy="57" r="6.5" fill="#fcf9b8"/>
<circle cx="101.1" cy="57" r="2.8" fill="#140c0a"/>
<rect x="33.3" y="70" width="16.7" height="24" fill="none" stroke="#e2eadc" stroke-width="1.2"/>
<rect x="35.1" y="71.4" width="13.3" height="21.2" fill="#fcf9b8" />
<path d="M35.1 80.8 L41.75 85.6 L48.4 80.8" fill="none" stroke="#3f4a2c" stroke-width="1.6"/>
<rect x="53.9" y="70" width="16.6" height="24" fill="none" stroke="#e2eadc" stroke-width="1.2"/>
<rect x="55.7" y="71.4" width="13.2" height="21.2" fill="#fcf9b8" />
<path d="M55.7 80.8 L62.3 85.6 L68.9 80.8" fill="none" stroke="#3f4a2c" stroke-width="1.6"/>
<rect x="74.6" y="70" width="16.7" height="24" fill="none" stroke="#e2eadc" stroke-width="1.2"/>
<rect x="76.4" y="71.4" width="13.3" height="21.2" fill="#fcf9b8" />
<path d="M76.4 80.8 L83.05 85.6 L89.7 80.8" fill="none" stroke="#3f4a2c" stroke-width="1.6"/>
<rect x="111.1" y="42.5" width="16.7" height="45.5" fill="none" stroke="#e2eadc" stroke-width="1.2"/>
<rect x="113" y="44.4" width="12.9" height="17.5" fill="#fcf9b8" />
<rect x="113" y="69.1" width="12.9" height="17" fill="#fcf9b8" />
<path d="M113.3 56.5 L119.45 59 L125.6 56.5" fill="none" stroke="#a88e46" stroke-width="1.35"/>
<path d="M113.3 75.4 L119.45 72 L125.6 75.4" fill="none" stroke="#a88e46" stroke-width="1.35"/>
<path d="M129.2 76.9 L132 74.3 L132 79.5 Z" fill="#dfe8df"/>
</g>
<g transform="translate(1251.1,291.8) rotate(90)">
<path d="M-63.1 39 V97 L-53.4 110.6 H66.7 M-63.1 39 L-53.4 31.2 H-22.4 L-12.7 23.5 M-22.4 9.9 H150 Q153.9 9.9 153.9 14 V22 M76.4 37 H132.5 L153.9 19.6 M-30.2 64.2 H93.8 L99 69 M159.7 39.2 V114.5" stroke="#2e4f36" stroke-width="1.6" fill="none"/>
<path d="M31.3 -46 V-10 M51.7 -46 V-10 M72.2 -46 V-10 M92.6 -46 V-10 M113.1 -46 V-10" stroke="#2e4f36" stroke-width="1.6" fill="none"/>
<circle cx="0" cy="0" r="9.8" fill="#30523a"/>
<circle cx="0" cy="0" r="8" fill="#fcf9b8"/>
<circle cx="0" cy="0" r="4" fill="#140c0a"/>
<circle cx="0" cy="102.5" r="9.8" fill="#30523a"/>
<circle cx="0" cy="102.5" r="8" fill="#fcf9b8"/>
<circle cx="0" cy="102.5" r="4" fill="#140c0a"/>
<circle cx="20.56" cy="0" r="9.8" fill="#30523a"/>
<circle cx="20.56" cy="0" r="8" fill="#fcf9b8"/>
<circle cx="20.56" cy="0" r="4" fill="#140c0a"/>
<circle cx="20.56" cy="102.5" r="9.8" fill="#30523a"/>
<circle cx="20.56" cy="102.5" r="8" fill="#fcf9b8"/>
<circle cx="20.56" cy="102.5" r="4" fill="#140c0a"/>
<circle cx="41.12" cy="0" r="9.8" fill="#30523a"/>
<circle cx="41.12" cy="0" r="8" fill="#fcf9b8"/>
<circle cx="41.12" cy="0" r="4" fill="#140c0a"/>
<circle cx="41.12" cy="102.5" r="9.8" fill="#30523a"/>
<circle cx="41.12" cy="102.5" r="8" fill="#fcf9b8"/>
<circle cx="41.12" cy="102.5" r="4" fill="#140c0a"/>
<circle cx="61.68" cy="0" r="9.8" fill="#30523a"/>
<circle cx="61.68" cy="0" r="8" fill="#fcf9b8"/>
<circle cx="61.68" cy="0" r="4" fill="#140c0a"/>
<circle cx="61.68" cy="102.5" r="9.8" fill="#30523a"/>
<circle cx="61.68" cy="102.5" r="8" fill="#fcf9b8"/>
<circle cx="61.68" cy="102.5" r="4" fill="#140c0a"/>
<circle cx="82.24" cy="0" r="9.8" fill="#30523a"/>
<circle cx="82.24" cy="0" r="8" fill="#fcf9b8"/>
<circle cx="82.24" cy="0" r="4" fill="#140c0a"/>
<circle cx="82.24" cy="102.5" r="9.8" fill="#30523a"/>
<circle cx="82.24" cy="102.5" r="8" fill="#fcf9b8"/>
<circle cx="82.24" cy="102.5" r="4" fill="#140c0a"/>
<circle cx="102.8" cy="0" r="9.8" fill="#30523a"/>
<circle cx="102.8" cy="0" r="8" fill="#fcf9b8"/>
<circle cx="102.8" cy="0" r="4" fill="#140c0a"/>
<circle cx="102.8" cy="102.5" r="9.8" fill="#30523a"/>
<circle cx="102.8" cy="102.5" r="8" fill="#fcf9b8"/>
<circle cx="102.8" cy="102.5" r="4" fill="#140c0a"/>
<circle cx="123.36" cy="0" r="9.8" fill="#30523a"/>
<circle cx="123.36" cy="0" r="8" fill="#fcf9b8"/>
<circle cx="123.36" cy="0" r="4" fill="#140c0a"/>
<circle cx="123.36" cy="102.5" r="9.8" fill="#30523a"/>
<circle cx="123.36" cy="102.5" r="8" fill="#fcf9b8"/>
<circle cx="123.36" cy="102.5" r="4" fill="#140c0a"/>
<circle cx="143.92" cy="0" r="9.8" fill="#30523a"/>
<circle cx="143.92" cy="0" r="8" fill="#fcf9b8"/>
<circle cx="143.92" cy="0" r="4" fill="#140c0a"/>
<circle cx="143.92" cy="102.5" r="9.8" fill="#30523a"/>
<circle cx="143.92" cy="102.5" r="8" fill="#fcf9b8"/>
<circle cx="143.92" cy="102.5" r="4" fill="#140c0a"/>
<rect x="33.2" y="-45.9" width="17.6" height="17.6" rx="2" fill="#30523a"/>
<rect x="35" y="-44.1" width="14" height="14" fill="#fcf9b8"/>
<circle cx="42" cy="-37.1" r="3.5" fill="#140c0a"/>
<circle cx="61.8" cy="-37.1" r="8.8" fill="#30523a"/>
<circle cx="61.8" cy="-37.1" r="7" fill="#fcf9b8"/>
<circle cx="61.8" cy="-37.1" r="3.5" fill="#140c0a"/>
<circle cx="81.9" cy="-37.1" r="8.8" fill="#30523a"/>
<circle cx="81.9" cy="-37.1" r="7" fill="#fcf9b8"/>
<circle cx="81.9" cy="-37.1" r="3.5" fill="#140c0a"/>
<circle cx="102.3" cy="-37.1" r="8.8" fill="#30523a"/>
<circle cx="102.3" cy="-37.1" r="7" fill="#fcf9b8"/>
<circle cx="102.3" cy="-37.1" r="3.5" fill="#140c0a"/>
<rect x="-51.4" y="12.7" width="17.6" height="17.6" rx="2" fill="#30523a"/>
<rect x="-49.6" y="14.5" width="14" height="14" fill="#fcf9b8"/>
<circle cx="-42.6" cy="21.5" r="3.5" fill="#140c0a"/>
<circle cx="-42.6" cy="41.9" r="8.8" fill="#30523a"/>
<circle cx="-42.6" cy="41.9" r="7" fill="#fcf9b8"/>
<circle cx="-42.6" cy="41.9" r="3.5" fill="#140c0a"/>
<circle cx="-42.6" cy="61.6" r="8.8" fill="#30523a"/>
<circle cx="-42.6" cy="61.6" r="7" fill="#fcf9b8"/>
<circle cx="-42.6" cy="61.6" r="3.5" fill="#140c0a"/>
<circle cx="-42.6" cy="81.5" r="8.8" fill="#30523a"/>
<circle cx="-42.6" cy="81.5" r="7" fill="#fcf9b8"/>
<circle cx="-42.6" cy="81.5" r="3.5" fill="#140c0a"/>
<circle cx="143.9" cy="61" r="9.8" fill="#30523a"/>
<circle cx="143.9" cy="61" r="8" fill="#fcf9b8"/>
<circle cx="143.9" cy="61" r="4" fill="#140c0a"/>
<circle cx="143.9" cy="81.8" r="9.8" fill="#30523a"/>
<circle cx="143.9" cy="81.8" r="8" fill="#fcf9b8"/>
<circle cx="143.9" cy="81.8" r="4" fill="#140c0a"/>
<rect x="-6.1" y="16.3" width="16.9" height="45.3" fill="none" stroke="#e2eadc" stroke-width="1.2"/>
<rect x="-4.2" y="18.8" width="13.1" height="16.4" fill="#fcf9b8" />
<rect x="-4.2" y="43" width="13.1" height="16.5" fill="#fcf9b8" />
<path d="M-3.9 28.4 L2.35 31.8 L8.6 28.4" fill="none" stroke="#a88e46" stroke-width="1.35"/>
<path d="M-3.9 49.3 L2.35 45.4 L8.6 49.3" fill="none" stroke="#a88e46" stroke-width="1.35"/>
<path d="M12.2 50.2 L15 47.6 L15 52.8 Z" fill="#dfe8df"/>
<rect x="14.5" y="16.3" width="16.3" height="45.3" fill="none" stroke="#e2eadc" stroke-width="1.2"/>
<rect x="16.4" y="18.8" width="12.5" height="16.4" fill="#fcf9b8" />
<rect x="16.4" y="43" width="12.5" height="16.5" fill="#fcf9b8" />
<path d="M16.7 28.4 L22.65 31.8 L28.6 28.4" fill="none" stroke="#a88e46" stroke-width="1.35"/>
<path d="M16.7 49.3 L22.65 45.4 L28.6 49.3" fill="none" stroke="#a88e46" stroke-width="1.35"/>
<path d="M32.2 50.2 L35 47.6 L35 52.8 Z" fill="#dfe8df"/>
<rect x="35.1" y="16.3" width="16.6" height="45.3" fill="none" stroke="#e2eadc" stroke-width="1.2"/>
<rect x="37" y="18.8" width="12.8" height="16.4" fill="#fcf9b8" />
<rect x="37" y="43" width="12.8" height="16.5" fill="#fcf9b8" />
<path d="M37.3 28.4 L43.4 31.8 L49.5 28.4" fill="none" stroke="#a88e46" stroke-width="1.35"/>
<path d="M37.3 49.3 L43.4 45.4 L49.5 49.3" fill="none" stroke="#a88e46" stroke-width="1.35"/>
<path d="M53.1 50.2 L55.9 47.6 L55.9 52.8 Z" fill="#dfe8df"/>
<rect x="55.6" y="16.3" width="16.5" height="45.3" fill="none" stroke="#e2eadc" stroke-width="1.2"/>
<rect x="57.5" y="18.8" width="12.7" height="16.4" fill="#fcf9b8" />
<rect x="57.5" y="43" width="12.7" height="16.5" fill="#fcf9b8" />
<path d="M57.8 28.4 L63.85 31.8 L69.9 28.4" fill="none" stroke="#a88e46" stroke-width="1.35"/>
<path d="M57.8 49.3 L63.85 45.4 L69.9 49.3" fill="none" stroke="#a88e46" stroke-width="1.35"/>
<path d="M73.5 50.2 L76.3 47.6 L76.3 52.8 Z" fill="#dfe8df"/>
<rect x="92.8" y="20.3" width="16.6" height="16.6" rx="2" fill="#30523a"/>
<rect x="94.6" y="22.1" width="13" height="13" fill="#fcf9b8"/>
<circle cx="101.1" cy="28.6" r="2.5" fill="#140c0a"/>
<circle cx="101.1" cy="57" r="8.3" fill="#30523a"/>
<circle cx="101.1" cy="57" r="6.5" fill="#fcf9b8"/>
<circle cx="101.1" cy="57" r="2.8" fill="#140c0a"/>
<rect x="33.3" y="70" width="16.7" height="24" fill="none" stroke="#e2eadc" stroke-width="1.2"/>
<rect x="35.1" y="71.4" width="13.3" height="21.2" fill="#fcf9b8" />
<path d="M35.1 80.8 L41.75 85.6 L48.4 80.8" fill="none" stroke="#3f4a2c" stroke-width="1.6"/>
<rect x="53.9" y="70" width="16.6" height="24" fill="none" stroke="#e2eadc" stroke-width="1.2"/>
<rect x="55.7" y="71.4" width="13.2" height="21.2" fill="#fcf9b8" />
<path d="M55.7 80.8 L62.3 85.6 L68.9 80.8" fill="none" stroke="#3f4a2c" stroke-width="1.6"/>
<rect x="74.6" y="70" width="16.7" height="24" fill="none" stroke="#e2eadc" stroke-width="1.2"/>
<rect x="76.4" y="71.4" width="13.3" height="21.2" fill="#fcf9b8" />
<path d="M76.4 80.8 L83.05 85.6 L89.7 80.8" fill="none" stroke="#3f4a2c" stroke-width="1.6"/>
<rect x="111.1" y="42.5" width="16.7" height="45.5" fill="none" stroke="#e2eadc" stroke-width="1.2"/>
<rect x="113" y="44.4" width="12.9" height="17.5" fill="#fcf9b8" />
<rect x="113" y="69.1" width="12.9" height="17" fill="#fcf9b8" />
<path d="M113.3 56.5 L119.45 59 L125.6 56.5" fill="none" stroke="#a88e46" stroke-width="1.35"/>
<path d="M113.3 75.4 L119.45 72 L125.6 75.4" fill="none" stroke="#a88e46" stroke-width="1.35"/>
<path d="M129.2 76.9 L132 74.3 L132 79.5 Z" fill="#dfe8df"/>
</g>
<g transform="translate(1251.1,512.5) rotate(90)">
<path d="M-63.1 39 V97 L-53.4 110.6 H66.7 M-63.1 39 L-53.4 31.2 H-22.4 L-12.7 23.5 M-22.4 9.9 H150 Q153.9 9.9 153.9 14 V22 M76.4 37 H132.5 L153.9 19.6 M-30.2 64.2 H93.8 L99 69 M159.7 39.2 V114.5" stroke="#2e4f36" stroke-width="1.6" fill="none"/>
<path d="M31.3 -46 V-10 M51.7 -46 V-10 M72.2 -46 V-10 M92.6 -46 V-10 M113.1 -46 V-10" stroke="#2e4f36" stroke-width="1.6" fill="none"/>
<circle cx="0" cy="0" r="9.8" fill="#30523a"/>
<circle cx="0" cy="0" r="8" fill="#fcf9b8"/>
<circle cx="0" cy="0" r="4" fill="#140c0a"/>
<circle cx="0" cy="102.5" r="9.8" fill="#30523a"/>
<circle cx="0" cy="102.5" r="8" fill="#fcf9b8"/>
<circle cx="0" cy="102.5" r="4" fill="#140c0a"/>
<circle cx="20.56" cy="0" r="9.8" fill="#30523a"/>
<circle cx="20.56" cy="0" r="8" fill="#fcf9b8"/>
<circle cx="20.56" cy="0" r="4" fill="#140c0a"/>
<circle cx="20.56" cy="102.5" r="9.8" fill="#30523a"/>
<circle cx="20.56" cy="102.5" r="8" fill="#fcf9b8"/>
<circle cx="20.56" cy="102.5" r="4" fill="#140c0a"/>
<circle cx="41.12" cy="0" r="9.8" fill="#30523a"/>
<circle cx="41.12" cy="0" r="8" fill="#fcf9b8"/>
<circle cx="41.12" cy="0" r="4" fill="#140c0a"/>
<circle cx="41.12" cy="102.5" r="9.8" fill="#30523a"/>
<circle cx="41.12" cy="102.5" r="8" fill="#fcf9b8"/>
<circle cx="41.12" cy="102.5" r="4" fill="#140c0a"/>
<circle cx="61.68" cy="0" r="9.8" fill="#30523a"/>
<circle cx="61.68" cy="0" r="8" fill="#fcf9b8"/>
<circle cx="61.68" cy="0" r="4" fill="#140c0a"/>
<circle cx="61.68" cy="102.5" r="9.8" fill="#30523a"/>
<circle cx="61.68" cy="102.5" r="8" fill="#fcf9b8"/>
<circle cx="61.68" cy="102.5" r="4" fill="#140c0a"/>
<circle cx="82.24" cy="0" r="9.8" fill="#30523a"/>
<circle cx="82.24" cy="0" r="8" fill="#fcf9b8"/>
<circle cx="82.24" cy="0" r="4" fill="#140c0a"/>
<circle cx="82.24" cy="102.5" r="9.8" fill="#30523a"/>
<circle cx="82.24" cy="102.5" r="8" fill="#fcf9b8"/>
<circle cx="82.24" cy="102.5" r="4" fill="#140c0a"/>
<circle cx="102.8" cy="0" r="9.8" fill="#30523a"/>
<circle cx="102.8" cy="0" r="8" fill="#fcf9b8"/>
<circle cx="102.8" cy="0" r="4" fill="#140c0a"/>
<circle cx="102.8" cy="102.5" r="9.8" fill="#30523a"/>
<circle cx="102.8" cy="102.5" r="8" fill="#fcf9b8"/>
<circle cx="102.8" cy="102.5" r="4" fill="#140c0a"/>
<circle cx="123.36" cy="0" r="9.8" fill="#30523a"/>
<circle cx="123.36" cy="0" r="8" fill="#fcf9b8"/>
<circle cx="123.36" cy="0" r="4" fill="#140c0a"/>
<circle cx="123.36" cy="102.5" r="9.8" fill="#30523a"/>
<circle cx="123.36" cy="102.5" r="8" fill="#fcf9b8"/>
<circle cx="123.36" cy="102.5" r="4" fill="#140c0a"/>
<circle cx="143.92" cy="0" r="9.8" fill="#30523a"/>
<circle cx="143.92" cy="0" r="8" fill="#fcf9b8"/>
<circle cx="143.92" cy="0" r="4" fill="#140c0a"/>
<circle cx="143.92" cy="102.5" r="9.8" fill="#30523a"/>
<circle cx="143.92" cy="102.5" r="8" fill="#fcf9b8"/>
<circle cx="143.92" cy="102.5" r="4" fill="#140c0a"/>
<rect x="33.2" y="-45.9" width="17.6" height="17.6" rx="2" fill="#30523a"/>
<rect x="35" y="-44.1" width="14" height="14" fill="#fcf9b8"/>
<circle cx="42" cy="-37.1" r="3.5" fill="#140c0a"/>
<circle cx="61.8" cy="-37.1" r="8.8" fill="#30523a"/>
<circle cx="61.8" cy="-37.1" r="7" fill="#fcf9b8"/>
<circle cx="61.8" cy="-37.1" r="3.5" fill="#140c0a"/>
<circle cx="81.9" cy="-37.1" r="8.8" fill="#30523a"/>
<circle cx="81.9" cy="-37.1" r="7" fill="#fcf9b8"/>
<circle cx="81.9" cy="-37.1" r="3.5" fill="#140c0a"/>
<circle cx="102.3" cy="-37.1" r="8.8" fill="#30523a"/>
<circle cx="102.3" cy="-37.1" r="7" fill="#fcf9b8"/>
<circle cx="102.3" cy="-37.1" r="3.5" fill="#140c0a"/>
<rect x="-51.4" y="12.7" width="17.6" height="17.6" rx="2" fill="#30523a"/>
<rect x="-49.6" y="14.5" width="14" height="14" fill="#fcf9b8"/>
<circle cx="-42.6" cy="21.5" r="3.5" fill="#140c0a"/>
<circle cx="-42.6" cy="41.9" r="8.8" fill="#30523a"/>
<circle cx="-42.6" cy="41.9" r="7" fill="#fcf9b8"/>
<circle cx="-42.6" cy="41.9" r="3.5" fill="#140c0a"/>
<circle cx="-42.6" cy="61.6" r="8.8" fill="#30523a"/>
<circle cx="-42.6" cy="61.6" r="7" fill="#fcf9b8"/>
<circle cx="-42.6" cy="61.6" r="3.5" fill="#140c0a"/>
<circle cx="-42.6" cy="81.5" r="8.8" fill="#30523a"/>
<circle cx="-42.6" cy="81.5" r="7" fill="#fcf9b8"/>
<circle cx="-42.6" cy="81.5" r="3.5" fill="#140c0a"/>
<circle cx="143.9" cy="61" r="9.8" fill="#30523a"/>
<circle cx="143.9" cy="61" r="8" fill="#fcf9b8"/>
<circle cx="143.9" cy="61" r="4" fill="#140c0a"/>
<circle cx="143.9" cy="81.8" r="9.8" fill="#30523a"/>
<circle cx="143.9" cy="81.8" r="8" fill="#fcf9b8"/>
<circle cx="143.9" cy="81.8" r="4" fill="#140c0a"/>
<rect x="-6.1" y="16.3" width="16.9" height="45.3" fill="none" stroke="#e2eadc" stroke-width="1.2"/>
<rect x="-4.2" y="18.8" width="13.1" height="16.4" fill="#fcf9b8" />
<rect x="-4.2" y="43" width="13.1" height="16.5" fill="#fcf9b8" />
<path d="M-3.9 28.4 L2.35 31.8 L8.6 28.4" fill="none" stroke="#a88e46" stroke-width="1.35"/>
<path d="M-3.9 49.3 L2.35 45.4 L8.6 49.3" fill="none" stroke="#a88e46" stroke-width="1.35"/>
<path d="M12.2 50.2 L15 47.6 L15 52.8 Z" fill="#dfe8df"/>
<rect x="14.5" y="16.3" width="16.3" height="45.3" fill="none" stroke="#e2eadc" stroke-width="1.2"/>
<rect x="16.4" y="18.8" width="12.5" height="16.4" fill="#fcf9b8" />
<rect x="16.4" y="43" width="12.5" height="16.5" fill="#fcf9b8" />
<path d="M16.7 28.4 L22.65 31.8 L28.6 28.4" fill="none" stroke="#a88e46" stroke-width="1.35"/>
<path d="M16.7 49.3 L22.65 45.4 L28.6 49.3" fill="none" stroke="#a88e46" stroke-width="1.35"/>
<path d="M32.2 50.2 L35 47.6 L35 52.8 Z" fill="#dfe8df"/>
<rect x="35.1" y="16.3" width="16.6" height="45.3" fill="none" stroke="#e2eadc" stroke-width="1.2"/>
<rect x="37" y="18.8" width="12.8" height="16.4" fill="#fcf9b8" />
<rect x="37" y="43" width="12.8" height="16.5" fill="#fcf9b8" />
<path d="M37.3 28.4 L43.4 31.8 L49.5 28.4" fill="none" stroke="#a88e46" stroke-width="1.35"/>
<path d="M37.3 49.3 L43.4 45.4 L49.5 49.3" fill="none" stroke="#a88e46" stroke-width="1.35"/>
<path d="M53.1 50.2 L55.9 47.6 L55.9 52.8 Z" fill="#dfe8df"/>
<rect x="55.6" y="16.3" width="16.5" height="45.3" fill="none" stroke="#e2eadc" stroke-width="1.2"/>
<rect x="57.5" y="18.8" width="12.7" height="16.4" fill="#fcf9b8" />
<rect x="57.5" y="43" width="12.7" height="16.5" fill="#fcf9b8" />
<path d="M57.8 28.4 L63.85 31.8 L69.9 28.4" fill="none" stroke="#a88e46" stroke-width="1.35"/>
<path d="M57.8 49.3 L63.85 45.4 L69.9 49.3" fill="none" stroke="#a88e46" stroke-width="1.35"/>
<path d="M73.5 50.2 L76.3 47.6 L76.3 52.8 Z" fill="#dfe8df"/>
<rect x="92.8" y="20.3" width="16.6" height="16.6" rx="2" fill="#30523a"/>
<rect x="94.6" y="22.1" width="13" height="13" fill="#fcf9b8"/>
<circle cx="101.1" cy="28.6" r="2.5" fill="#140c0a"/>
<circle cx="101.1" cy="57" r="8.3" fill="#30523a"/>
<circle cx="101.1" cy="57" r="6.5" fill="#fcf9b8"/>
<circle cx="101.1" cy="57" r="2.8" fill="#140c0a"/>
<rect x="33.3" y="70" width="16.7" height="24" fill="none" stroke="#e2eadc" stroke-width="1.2"/>
<rect x="35.1" y="71.4" width="13.3" height="21.2" fill="#fcf9b8" />
<path d="M35.1 80.8 L41.75 85.6 L48.4 80.8" fill="none" stroke="#3f4a2c" stroke-width="1.6"/>
<rect x="53.9" y="70" width="16.6" height="24" fill="none" stroke="#e2eadc" stroke-width="1.2"/>
<rect x="55.7" y="71.4" width="13.2" height="21.2" fill="#fcf9b8" />
<path d="M55.7 80.8 L62.3 85.6 L68.9 80.8" fill="none" stroke="#3f4a2c" stroke-width="1.6"/>
<rect x="74.6" y="70" width="16.7" height="24" fill="none" stroke="#e2eadc" stroke-width="1.2"/>
<rect x="76.4" y="71.4" width="13.3" height="21.2" fill="#fcf9b8" />
<path d="M76.4 80.8 L83.05 85.6 L89.7 80.8" fill="none" stroke="#3f4a2c" stroke-width="1.6"/>
<rect x="111.1" y="42.5" width="16.7" height="45.5" fill="none" stroke="#e2eadc" stroke-width="1.2"/>
<rect x="113" y="44.4" width="12.9" height="17.5" fill="#fcf9b8" />
<rect x="113" y="69.1" width="12.9" height="17" fill="#fcf9b8" />
<path d="M113.3 56.5 L119.45 59 L125.6 56.5" fill="none" stroke="#a88e46" stroke-width="1.35"/>
<path d="M113.3 75.4 L119.45 72 L125.6 75.4" fill="none" stroke="#a88e46" stroke-width="1.35"/>
<path d="M129.2 76.9 L132 74.3 L132 79.5 Z" fill="#dfe8df"/>
</g>
<circle cx="64" cy="866.5" r="8.2" fill="#1c1cf0"/>
<rect x="56.3" y="838" width="11.9" height="29.5" fill="#1ee01e"/>
<path d="M62.2 816 L73.4 839.5 Q62 842 50.8 839.5 Z" fill="#22ee22"/>
<path d="M50.8 839.5 Q62 843.5 73.4 839.5" stroke="#10a010" stroke-width="1.6" fill="none"/>
<path d="M33 861.3 H60 Q63.5 867 61.5 872.7 H33 Z" fill="#f01818"/>
<path d="M10.5 867.2 L34.5 856 Q36.5 867 34.5 878.4 Z" fill="#ff2020"/>
<path d="M34.5 856 Q37.5 867 34.5 878.4" stroke="#700808" stroke-width="2" fill="none"/>
<path d="M436.3 154 L462 186 M436.3 234.6 L458 206 M480 186.7 L491 186 M480 202 L502.6 201.7 M436.3 194 L454 194.5" stroke="#3f6a48" stroke-width="1.8" fill="none"/>
<circle cx="436.3" cy="153.8" r="12.6" fill="#30523a"/>
<circle cx="436.3" cy="153.8" r="10.8" fill="#fcf9b8"/>
<circle cx="436.3" cy="153.8" r="4.5" fill="#140c0a"/>
<circle cx="436.3" cy="194.1" r="12.6" fill="#30523a"/>
<circle cx="436.3" cy="194.1" r="10.8" fill="#fcf9b8"/>
<circle cx="436.3" cy="194.1" r="4.5" fill="#140c0a"/>
<rect x="424" y="222.3" width="24.6" height="24.6" rx="2" fill="#30523a"/>
<rect x="425.8" y="224.1" width="21" height="21" fill="#fcf9b8"/>
<circle cx="436.3" cy="234.6" r="4.5" fill="#140c0a"/>
<rect x="493.8" y="131" width="17.6" height="17.6" rx="2" fill="#30523a"/>
<rect x="495.6" y="132.8" width="14" height="14" fill="#fcf9b8"/>
<circle cx="502.6" cy="139.8" r="3" fill="#140c0a"/>
<rect x="491.2" y="151.7" width="23.3" height="35.5" fill="#e6e6e2" />
<rect x="491.2" y="160" width="23.3" height="20" fill="#262626" />
<circle cx="502.6" cy="201.7" r="8.3" fill="#30523a"/>
<circle cx="502.6" cy="201.7" r="6.5" fill="#fcf9b8"/>
<circle cx="502.6" cy="201.7" r="3" fill="#140c0a"/>
<rect x="470" y="184.2" width="10.8" height="5.1" fill="#e4e4e0" />
<rect x="470" y="199.6" width="10.8" height="5.1" fill="#e4e4e0" />
<rect x="453.7" y="191.9" width="5.3" height="5.1" fill="#e4e4e0" />
<rect x="459.8" y="181.1" width="10.2" height="23.5" fill="#5d5656" />
<rect x="468" y="181.1" width="2.5" height="23.5" fill="#141414" />
<rect x="460.8" y="206" width="20" height="1.2" fill="#e6eee6" />
<text x="455.7" y="218.5" font-size="11.81" textLength="22.6" lengthAdjust="spacing" fill="#e6eee6">D24</text>
<text x="517" y="188" font-size="14.58" textLength="22" lengthAdjust="spacingAndGlyphs" fill="#e6eee6">R18</text>
<text x="538" y="145.2" font-size="11.94" textLength="22" lengthAdjust="spacing" fill="#e6eee6">C11</text>
<rect x="538" y="147.4" width="7.36" height="8.6" fill="#e6e6e2" />
<rect x="553.64" y="147.4" width="7.36" height="8.6" fill="#e6e6e2" />
<rect x="545.36" y="147.4" width="8.28" height="8.6" fill="#b08c7c" />
<text x="585" y="145.2" font-size="11.94" textLength="22.5" lengthAdjust="spacing" fill="#e6eee6">C10</text>
<rect x="585" y="147.4" width="7.36" height="8.6" fill="#e6e6e2" />
<rect x="600.64" y="147.4" width="7.36" height="8.6" fill="#e6e6e2" />
<rect x="592.36" y="147.4" width="8.28" height="8.6" fill="#b08c7c" />
<circle cx="542" cy="166.8" r="8.1" fill="#30523a"/>
<circle cx="542" cy="166.8" r="6.3" fill="#fcf9b8"/>
<circle cx="542" cy="166.8" r="3" fill="#140c0a"/>
<circle cx="562.7" cy="166.8" r="8.1" fill="#30523a"/>
<circle cx="562.7" cy="166.8" r="6.3" fill="#fcf9b8"/>
<circle cx="562.7" cy="166.8" r="3" fill="#140c0a"/>
<circle cx="583.4" cy="166.8" r="8.1" fill="#30523a"/>
<circle cx="583.4" cy="166.8" r="6.3" fill="#fcf9b8"/>
<circle cx="583.4" cy="166.8" r="3" fill="#140c0a"/>
<circle cx="603.7" cy="166.8" r="8.1" fill="#30523a"/>
<circle cx="603.7" cy="166.8" r="6.3" fill="#fcf9b8"/>
<circle cx="603.7" cy="166.8" r="3" fill="#140c0a"/>
<rect x="571" y="112" width="4" height="142" fill="#2a2b22" rx="2"/>
<rect x="580.6" y="183" width="17.3" height="24" fill="none" stroke="#e2eadc" stroke-width="1.3"/>
<rect x="581.9" y="184.3" width="14.7" height="21.4" fill="#2c3a22" />
<rect x="582.6" y="185" width="13.3" height="20" fill="#fcf9b8" />
<path d="M582.6 195.6 L589.25 191.8 L595.9 195.6" fill="none" stroke="#33361f" stroke-width="1.5"/>
<text x="601.4" y="199.8" font-size="13.75" textLength="22" lengthAdjust="spacingAndGlyphs" fill="#e6eee6">CAN</text>
<circle cx="416.9" cy="302.7" r="15.6" fill="#30523a"/>
<circle cx="416.9" cy="302.7" r="13.8" fill="#fcf9b8"/>
<circle cx="416.9" cy="302.7" r="8" fill="#140c0a"/>
<circle cx="416.9" cy="399.2" r="15.6" fill="#30523a"/>
<circle cx="416.9" cy="399.2" r="13.8" fill="#fcf9b8"/>
<circle cx="416.9" cy="399.2" r="8" fill="#140c0a"/>
<circle cx="438.7" cy="341" r="8.8" fill="#30523a"/>
<circle cx="438.7" cy="341" r="7" fill="#fcf9b8"/>
<circle cx="438.7" cy="341" r="3.5" fill="#140c0a"/>
<rect x="445.8" y="332.2" width="17.6" height="17.6" rx="2" fill="#30523a"/>
<rect x="447.6" y="334" width="14" height="14" fill="#fcf9b8"/>
<circle cx="454.6" cy="341" r="3.5" fill="#140c0a"/>
<circle cx="438.7" cy="361.3" r="8.8" fill="#30523a"/>
<circle cx="438.7" cy="361.3" r="7" fill="#fcf9b8"/>
<circle cx="438.7" cy="361.3" r="3.5" fill="#140c0a"/>
<circle cx="454.6" cy="361.3" r="8.8" fill="#30523a"/>
<circle cx="454.6" cy="361.3" r="7" fill="#fcf9b8"/>
<circle cx="454.6" cy="361.3" r="3.5" fill="#140c0a"/>
<text x="491" y="306.6" font-size="13.33" textLength="14" lengthAdjust="spacingAndGlyphs" fill="#e6eee6">R3</text>
<rect x="487" y="309.8" width="7.2" height="8.7" fill="#e6e6e2" />
<rect x="502.3" y="309.8" width="7.2" height="8.7" fill="#e6e6e2" />
<rect x="494.2" y="309.8" width="8.1" height="8.7" fill="#1c1c1c" />
<rect x="513" y="284.5" width="17.6" height="17.6" rx="2" fill="#30523a"/>
<rect x="514.8" y="286.3" width="14" height="14" fill="#fcf9b8"/>
<circle cx="521.8" cy="293.3" r="3.5" fill="#140c0a"/>
<circle cx="521.8" cy="314.2" r="8.8" fill="#30523a"/>
<circle cx="521.8" cy="314.2" r="7" fill="#fcf9b8"/>
<circle cx="521.8" cy="314.2" r="3.5" fill="#140c0a"/>
<circle cx="542.5" cy="293.3" r="8.8" fill="#30523a"/>
<circle cx="542.5" cy="293.3" r="7" fill="#fcf9b8"/>
<circle cx="542.5" cy="293.3" r="3.5" fill="#140c0a"/>
<circle cx="542.5" cy="314.2" r="8.8" fill="#30523a"/>
<circle cx="542.5" cy="314.2" r="7" fill="#fcf9b8"/>
<circle cx="542.5" cy="314.2" r="3.5" fill="#140c0a"/>
<circle cx="562.9" cy="293.3" r="8.8" fill="#30523a"/>
<circle cx="562.9" cy="293.3" r="7" fill="#fcf9b8"/>
<circle cx="562.9" cy="293.3" r="3.5" fill="#140c0a"/>
<circle cx="562.9" cy="314.2" r="8.8" fill="#30523a"/>
<circle cx="562.9" cy="314.2" r="7" fill="#fcf9b8"/>
<circle cx="562.9" cy="314.2" r="3.5" fill="#140c0a"/>
<circle cx="583.4" cy="293.3" r="8.8" fill="#30523a"/>
<circle cx="583.4" cy="293.3" r="7" fill="#fcf9b8"/>
<circle cx="583.4" cy="293.3" r="3.5" fill="#140c0a"/>
<circle cx="583.4" cy="314.2" r="8.8" fill="#30523a"/>
<circle cx="583.4" cy="314.2" r="7" fill="#fcf9b8"/>
<circle cx="583.4" cy="314.2" r="3.5" fill="#140c0a"/>
<circle cx="603.9" cy="293.3" r="8.8" fill="#30523a"/>
<circle cx="603.9" cy="293.3" r="7" fill="#fcf9b8"/>
<circle cx="603.9" cy="293.3" r="3.5" fill="#140c0a"/>
<circle cx="603.9" cy="314.2" r="8.8" fill="#30523a"/>
<circle cx="603.9" cy="314.2" r="7" fill="#fcf9b8"/>
<circle cx="603.9" cy="314.2" r="3.5" fill="#140c0a"/>
<text x="471.4" y="344.3" font-size="13.47" textLength="22" lengthAdjust="spacingAndGlyphs" fill="#e6eee6">R17</text>
<rect x="470" y="347.5" width="7.36" height="8.2" fill="#e6e6e2" />
<rect x="485.64" y="347.5" width="7.36" height="8.2" fill="#e6e6e2" />
<rect x="477.36" y="347.5" width="8.28" height="8.2" fill="#1c1c1c" />
<rect x="470" y="359.4" width="7.36" height="8.6" fill="#e6e6e2" />
<rect x="485.64" y="359.4" width="7.36" height="8.6" fill="#e6e6e2" />
<rect x="477.36" y="359.4" width="8.28" height="8.6" fill="#1c1c1c" />
<text x="504" y="343" font-size="13.19" textLength="16" lengthAdjust="spacingAndGlyphs" fill="#e6eee6">U3</text>
<rect x="500" y="347.78" width="7.25" height="4.44" fill="#e4e4e0" />
<rect x="521.75" y="347.78" width="7.25" height="4.44" fill="#e4e4e0" />
<rect x="500" y="355.78" width="7.25" height="4.44" fill="#e4e4e0" />
<rect x="521.75" y="355.78" width="7.25" height="4.44" fill="#e4e4e0" />
<rect x="500" y="363.78" width="7.25" height="4.44" fill="#e4e4e0" />
<rect x="521.75" y="363.78" width="7.25" height="4.44" fill="#e4e4e0" />
<rect x="507.25" y="346" width="14.5" height="24" fill="#5a5050" />
<rect x="567.06" y="333.5" width="3.89" height="5.12" fill="#e4e4e0" />
<rect x="567.06" y="348.88" width="3.89" height="5.12" fill="#e4e4e0" />
<rect x="574.06" y="333.5" width="3.89" height="5.12" fill="#e4e4e0" />
<rect x="574.06" y="348.88" width="3.89" height="5.12" fill="#e4e4e0" />
<rect x="581.06" y="333.5" width="3.89" height="5.12" fill="#e4e4e0" />
<rect x="581.06" y="348.88" width="3.89" height="5.12" fill="#e4e4e0" />
<rect x="588.06" y="333.5" width="3.89" height="5.12" fill="#e4e4e0" />
<rect x="588.06" y="348.88" width="3.89" height="5.12" fill="#e4e4e0" />
<rect x="565.5" y="338.62" width="28" height="10.25" fill="#1e1e1e" />
<text x="568" y="367" font-size="13.89" textLength="23.4" lengthAdjust="spacingAndGlyphs" fill="#e6eee6">RN3</text>
<text x="470" y="381" font-size="13.89" textLength="21.7" lengthAdjust="spacingAndGlyphs" fill="#e6eee6">R16</text>
<rect x="459" y="381" width="60" height="36.5" fill="none" stroke="#e6eee6" stroke-width="1"/>
<rect x="445.6" y="390" width="11.2" height="17.8" fill="#dcdcdc" />
<rect x="497.7" y="390" width="19.8" height="17.8" fill="#d0d0d0" />
<rect x="456.8" y="383.7" width="43" height="28.9" fill="#5e5352" />
<rect x="488" y="383.7" width="6" height="28.9" fill="#d9ceb8" />
<rect x="494" y="383.7" width="5.8" height="28.9" fill="#1a1a1a" />
<text x="432.6" y="429.4" font-size="11.94" textLength="21.6" lengthAdjust="spacingAndGlyphs" fill="#e6eee6">D22</text>
<rect x="472.2" y="426.5" width="16.6" height="16.6" rx="2" fill="#30523a"/>
<rect x="474" y="428.3" width="13" height="13" fill="#fcf9b8"/>
<circle cx="480.5" cy="434.8" r="2.5" fill="#140c0a"/>
<rect x="495.5" y="419.7" width="17.3" height="23.7" fill="none" stroke="#e2eadc" stroke-width="1.3"/>
<rect x="496.8" y="421" width="14.7" height="21.1" fill="#2c3a22" />
<rect x="497.5" y="421.7" width="13.3" height="19.7" fill="#fcf9b8" />
<path d="M497.5 432.14 L504.15 428.4 L510.8 432.14" fill="none" stroke="#33361f" stroke-width="1.5"/>
<text x="514.5" y="437" font-size="15.28" textLength="37" lengthAdjust="spacingAndGlyphs" fill="#e6eee6">USB5V</text>
<text x="558" y="386.3" font-size="11.94" textLength="14" lengthAdjust="spacingAndGlyphs" fill="#e6eee6">R1</text>
<rect x="560" y="390.6" width="8.8" height="7.23" fill="#e6e6e2" />
<rect x="560" y="405.97" width="8.8" height="7.23" fill="#e6e6e2" />
<rect x="560" y="397.83" width="8.8" height="8.14" fill="#1c1c1c" />
<rect x="560" y="418.6" width="8.8" height="6.85" fill="#e6e6e2" />
<rect x="560" y="433.15" width="8.8" height="6.85" fill="#e6e6e2" />
<rect x="560" y="425.45" width="8.8" height="7.7" fill="#b08c7c" />
<text x="558.6" y="454" font-size="13.19" textLength="14.4" lengthAdjust="spacingAndGlyphs" fill="#e6eee6">C3</text>
<rect x="573.45" y="374.95" width="12.1" height="12.1" rx="2" fill="#30523a"/>
<rect x="575.25" y="376.75" width="8.5" height="8.5" fill="#fcf9b8"/>
<circle cx="579.5" cy="381" r="2.3" fill="#140c0a"/>
<circle cx="579.5" cy="391.32" r="6.1" fill="#30523a"/>
<circle cx="579.5" cy="391.32" r="4.3" fill="#fcf9b8"/>
<circle cx="579.5" cy="391.32" r="2.3" fill="#140c0a"/>
<circle cx="579.5" cy="401.64" r="6.1" fill="#30523a"/>
<circle cx="579.5" cy="401.64" r="4.3" fill="#fcf9b8"/>
<circle cx="579.5" cy="401.64" r="2.3" fill="#140c0a"/>
<circle cx="579.5" cy="411.96" r="6.1" fill="#30523a"/>
<circle cx="579.5" cy="411.96" r="4.3" fill="#fcf9b8"/>
<circle cx="579.5" cy="411.96" r="2.3" fill="#140c0a"/>
<circle cx="579.5" cy="422.28" r="6.1" fill="#30523a"/>
<circle cx="579.5" cy="422.28" r="4.3" fill="#fcf9b8"/>
<circle cx="579.5" cy="422.28" r="2.3" fill="#140c0a"/>
<circle cx="579.5" cy="432.6" r="6.1" fill="#30523a"/>
<circle cx="579.5" cy="432.6" r="4.3" fill="#fcf9b8"/>
<circle cx="579.5" cy="432.6" r="2.3" fill="#140c0a"/>
<rect x="400" y="446.9" width="16.6" height="16.6" rx="2" fill="#30523a"/>
<rect x="401.8" y="448.7" width="13" height="13" fill="#fcf9b8"/>
<circle cx="408.3" cy="455.2" r="2.5" fill="#140c0a"/>
<rect x="445" y="447.9" width="16.6" height="16.6" rx="2" fill="#30523a"/>
<rect x="446.8" y="449.7" width="13" height="13" fill="#fcf9b8"/>
<circle cx="453.3" cy="456.2" r="2.5" fill="#140c0a"/>
<rect x="400" y="474.1" width="16.6" height="16.6" rx="2" fill="#30523a"/>
<rect x="401.8" y="475.9" width="13" height="13" fill="#fcf9b8"/>
<circle cx="408.3" cy="482.4" r="2.5" fill="#140c0a"/>
<rect x="400" y="501.1" width="16.6" height="16.6" rx="2" fill="#30523a"/>
<rect x="401.8" y="502.9" width="13" height="13" fill="#fcf9b8"/>
<circle cx="408.3" cy="509.4" r="2.5" fill="#140c0a"/>
<text x="494.5" y="470.2" font-size="12.08" textLength="14" lengthAdjust="spacingAndGlyphs" fill="#e6eee6">R4</text>
<rect x="490" y="472.7" width="7.3" height="8.7" fill="#e6e6e2" />
<rect x="505.5" y="472.7" width="7.3" height="8.7" fill="#e6e6e2" />
<rect x="497.3" y="472.7" width="8.21" height="8.7" fill="#1c1c1c" />
<rect x="485.2" y="495.8" width="17.6" height="17.6" rx="2" fill="#30523a"/>
<rect x="487" y="497.6" width="14" height="14" fill="#fcf9b8"/>
<circle cx="494" cy="504.6" r="3.5" fill="#140c0a"/>
<circle cx="494" cy="525.5" r="8.8" fill="#30523a"/>
<circle cx="494" cy="525.5" r="7" fill="#fcf9b8"/>
<circle cx="494" cy="525.5" r="3.5" fill="#140c0a"/>
<circle cx="514.5" cy="504.6" r="8.8" fill="#30523a"/>
<circle cx="514.5" cy="504.6" r="7" fill="#fcf9b8"/>
<circle cx="514.5" cy="504.6" r="3.5" fill="#140c0a"/>
<circle cx="514.5" cy="525.5" r="8.8" fill="#30523a"/>
<circle cx="514.5" cy="525.5" r="7" fill="#fcf9b8"/>
<circle cx="514.5" cy="525.5" r="3.5" fill="#140c0a"/>
<circle cx="534.7" cy="504.6" r="8.8" fill="#30523a"/>
<circle cx="534.7" cy="504.6" r="7" fill="#fcf9b8"/>
<circle cx="534.7" cy="504.6" r="3.5" fill="#140c0a"/>
<circle cx="534.7" cy="525.5" r="8.8" fill="#30523a"/>
<circle cx="534.7" cy="525.5" r="7" fill="#fcf9b8"/>
<circle cx="534.7" cy="525.5" r="3.5" fill="#140c0a"/>
<circle cx="555.4" cy="504.6" r="8.8" fill="#30523a"/>
<circle cx="555.4" cy="504.6" r="7" fill="#fcf9b8"/>
<circle cx="555.4" cy="504.6" r="3.5" fill="#140c0a"/>
<circle cx="555.4" cy="525.5" r="8.8" fill="#30523a"/>
<circle cx="555.4" cy="525.5" r="7" fill="#fcf9b8"/>
<circle cx="555.4" cy="525.5" r="3.5" fill="#140c0a"/>
<circle cx="575.7" cy="504.6" r="8.8" fill="#30523a"/>
<circle cx="575.7" cy="504.6" r="7" fill="#fcf9b8"/>
<circle cx="575.7" cy="504.6" r="3.5" fill="#140c0a"/>
<circle cx="575.7" cy="525.5" r="8.8" fill="#30523a"/>
<circle cx="575.7" cy="525.5" r="7" fill="#fcf9b8"/>
<circle cx="575.7" cy="525.5" r="3.5" fill="#140c0a"/>
<text x="487" y="561.7" font-size="13.47" textLength="22.5" lengthAdjust="spacingAndGlyphs" fill="#e6eee6">R19</text>
<rect x="488" y="564.3" width="7.23" height="7.5" fill="#e6e6e2" />
<rect x="503.37" y="564.3" width="7.23" height="7.5" fill="#e6e6e2" />
<rect x="495.23" y="564.3" width="8.14" height="7.5" fill="#1c1c1c" />
<text x="513.8" y="568.2" font-size="12.08" textLength="22.7" lengthAdjust="spacing" fill="#e6eee6">D25</text>
<rect x="518.1" y="570.9" width="15" height="29.4" fill="none" stroke="#e6eee6" stroke-width="1"/>
<rect x="520.6" y="572.4" width="10" height="26.4" fill="#e6e6e2" />
<rect x="520.6" y="578.74" width="10" height="13.73" fill="#574846" />
<rect x="520.6" y="588.46" width="10" height="3" fill="#d8cfc0" />
<rect x="457.8" y="579.8" width="14.7" height="4.8" fill="#dedede" rx="2"/>
<rect x="499.4" y="579.8" width="14.9" height="4.8" fill="#dedede" rx="2"/>
<rect x="457.8" y="589.9" width="14.7" height="4.8" fill="#dedede" rx="2"/>
<rect x="499.4" y="589.9" width="14.9" height="4.8" fill="#dedede" rx="2"/>
<rect x="457.8" y="599.8" width="14.7" height="4.8" fill="#dedede" rx="2"/>
<rect x="499.4" y="599.8" width="14.9" height="4.8" fill="#dedede" rx="2"/>
<rect x="457.8" y="609.9" width="14.7" height="4.8" fill="#dedede" rx="2"/>
<rect x="499.4" y="609.9" width="14.9" height="4.8" fill="#dedede" rx="2"/>
<rect x="470" y="575.5" width="32" height="1.2" fill="#e6eee6" />
<rect x="471" y="617.5" width="43" height="1.2" fill="#e6eee6" />
<text x="479" y="629.5" font-size="13.19" textLength="14.4" lengthAdjust="spacingAndGlyphs" fill="#e6eee6">Q2</text>
<circle cx="437" cy="581" r="12.3" fill="#30523a"/>
<circle cx="437" cy="581" r="10.5" fill="#fcf9b8"/>
<circle cx="437" cy="581" r="4.5" fill="#140c0a"/>
<rect x="424.7" y="609.3" width="24.6" height="24.6" rx="2" fill="#30523a"/>
<rect x="426.5" y="611.1" width="21" height="21" fill="#fcf9b8"/>
<circle cx="437" cy="621.6" r="4.5" fill="#140c0a"/>
<circle cx="552.6" cy="612.3" r="12.3" fill="#30523a"/>
<circle cx="552.6" cy="612.3" r="10.5" fill="#fcf9b8"/>
<circle cx="552.6" cy="612.3" r="4.5" fill="#140c0a"/>
<rect x="540" y="631.2" width="24.6" height="24.6" rx="2" fill="#30523a"/>
<rect x="541.8" y="633" width="21" height="21" fill="#fcf9b8"/>
<circle cx="552.3" cy="643.5" r="4.5" fill="#140c0a"/>
<text x="426.3" y="653.7" font-size="14.17" textLength="21.6" lengthAdjust="spacingAndGlyphs" fill="#e6eee6">C13</text>
<rect x="449.2" y="640.8" width="8.1" height="7.3" fill="#e6e6e2" />
<rect x="449.2" y="656.3" width="8.1" height="7.3" fill="#e6e6e2" />
<rect x="449.2" y="648.1" width="8.1" height="8.21" fill="#b08c7c" />
<rect x="421.9" y="653.5" width="18.6" height="18.6" rx="2" fill="#30523a"/>
<rect x="423.7" y="655.3" width="15" height="15" fill="#fcf9b8"/>
<circle cx="431.2" cy="662.8" r="3.5" fill="#140c0a"/>
<circle cx="431.2" cy="689.8" r="8.8" fill="#30523a"/>
<circle cx="431.2" cy="689.8" r="7" fill="#fcf9b8"/>
<circle cx="431.2" cy="689.8" r="3.5" fill="#140c0a"/>
<circle cx="431.2" cy="716.7" r="8.8" fill="#30523a"/>
<circle cx="431.2" cy="716.7" r="7" fill="#fcf9b8"/>
<circle cx="431.2" cy="716.7" r="3.5" fill="#140c0a"/>
<circle cx="460.8" cy="676.3" r="8.8" fill="#30523a"/>
<circle cx="460.8" cy="676.3" r="7" fill="#fcf9b8"/>
<circle cx="460.8" cy="676.3" r="3.5" fill="#140c0a"/>
<circle cx="460.8" cy="703.2" r="8.8" fill="#30523a"/>
<circle cx="460.8" cy="703.2" r="7" fill="#fcf9b8"/>
<circle cx="460.8" cy="703.2" r="3.5" fill="#140c0a"/>
<circle cx="521.1" cy="676.3" r="8.8" fill="#30523a"/>
<circle cx="521.1" cy="676.3" r="7" fill="#fcf9b8"/>
<circle cx="521.1" cy="676.3" r="3.5" fill="#140c0a"/>
<circle cx="521.1" cy="757.9" r="8.8" fill="#30523a"/>
<circle cx="521.1" cy="757.9" r="7" fill="#fcf9b8"/>
<circle cx="521.1" cy="757.9" r="3.5" fill="#140c0a"/>
<rect x="535.4" y="671" width="35" height="60" fill="none" stroke="#e6eee6" stroke-width="1"/>
<rect x="544" y="672.4" width="18.6" height="15.6" fill="#e2e2e2" />
<rect x="544" y="731" width="18.6" height="13.5" fill="#e2e2e2" />
<rect x="535.4" y="689.6" width="31.1" height="41.4" fill="#141414" />
<rect x="535.4" y="693.4" width="27.6" height="37.6" fill="#5f5656" />
<rect x="535.4" y="693.4" width="27.6" height="5.3" fill="#d8cbbc" />
<text x="574.4" y="713.4" font-size="13.06" textLength="21.6" lengthAdjust="spacingAndGlyphs" fill="#e6eee6">D27</text>
<rect x="476" y="716" width="56.6" height="27" fill="none" stroke="#e6eee6" stroke-width="1"/>
<rect x="522" y="720" width="9.3" height="21.7" fill="#e0e0e0" />
<rect x="470.8" y="720" width="47.2" height="3.8" fill="#7a5a10" />
<rect x="470.8" y="723.5" width="47.2" height="24.9" fill="#f8e650" />
<rect x="512.5" y="722" width="5.5" height="26.4" fill="#d8b020" />
<rect x="506.8" y="723.5" width="4.8" height="24.9" fill="#f0a050" />
<text x="489.6" y="755" font-size="12.92" textLength="21.4" lengthAdjust="spacingAndGlyphs" fill="#e6eee6">C17</text>
<text x="531.3" y="763.2" font-size="14.86" textLength="21.6" lengthAdjust="spacingAndGlyphs" fill="#e6eee6">C27</text>
<rect x="542" y="764.6" width="8" height="7.33" fill="#e6e6e2" />
<rect x="542" y="780.17" width="8" height="7.33" fill="#e6e6e2" />
<rect x="542" y="771.93" width="8" height="8.24" fill="#b08c7c" />
<text x="562.3" y="772.7" font-size="13.19" textLength="16.1" lengthAdjust="spacingAndGlyphs" fill="#e6eee6">Vio</text>
<rect x="559" y="775.4" width="23.5" height="16.6" fill="none" stroke="#e2eadc" stroke-width="1.3"/>
<rect x="560.3" y="776.7" width="20.9" height="14" fill="#2c3a22" />
<rect x="561" y="777.4" width="19.5" height="12.6" fill="#fcf9b8" />
<path d="M571.53 777.4 L567.04 783.7 L571.53 790" fill="none" stroke="#33361f" stroke-width="1.5"/>
<rect x="484.2" y="776.7" width="28.3" height="53.8" fill="#595252" />
<rect x="468" y="786" width="16.2" height="32.4" fill="#e2e2e2" />
<rect x="512.5" y="776.7" width="21.5" height="13.3" fill="#e0e0e0" />
<rect x="512.5" y="795.5" width="21.5" height="13.5" fill="#e0e0e0" />
<rect x="512.5" y="814.4" width="21.5" height="13.4" fill="#e0e0e0" />
<rect x="484.2" y="775" width="28.3" height="1.5" fill="#e6eee6" />
<rect x="484.2" y="831" width="49.8" height="1.3" fill="#e6eee6" />
<text x="493.6" y="844" font-size="15.28" textLength="16.2" lengthAdjust="spacingAndGlyphs" fill="#e6eee6">U8</text>
<rect x="440.1" y="793.2" width="15.6" height="15.6" rx="2" fill="#30523a"/>
<rect x="441.9" y="795" width="12" height="12" fill="#fcf9b8"/>
<circle cx="447.9" cy="801" r="2.5" fill="#140c0a"/>
<rect x="539.4" y="793" width="16.1" height="39" fill="none" stroke="#e6eee6" stroke-width="1"/>
<rect x="536.7" y="802.3" width="17.5" height="28.2" fill="#f0d850" />
<rect x="536.7" y="810" width="17.5" height="5.7" fill="#f0a050" />
<text x="539.4" y="845.3" font-size="14.86" textLength="22.9" lengthAdjust="spacingAndGlyphs" fill="#e6eee6">C28</text>
<text x="571.7" y="815.7" font-size="14.86" textLength="22.9" lengthAdjust="spacingAndGlyphs" fill="#e6eee6">C29</text>
<rect x="559.6" y="798.2" width="8.1" height="6.91" fill="#e6e6e2" />
<rect x="559.6" y="812.89" width="8.1" height="6.91" fill="#e6e6e2" />
<rect x="559.6" y="805.11" width="8.1" height="7.78" fill="#b08c7c" />
<rect x="583.3" y="825.7" width="22.9" height="17" fill="none" stroke="#e2eadc" stroke-width="1.3"/>
<rect x="584.6" y="827" width="20.3" height="14.4" fill="#2c3a22" />
<rect x="585.3" y="827.7" width="18.9" height="13" fill="#fcf9b8" />
<path d="M593.99 827.7 L598.34 834.2 L593.99 840.7" fill="none" stroke="#33361f" stroke-width="1.5"/>
<text x="577" y="854.8" font-size="13.19" textLength="35" lengthAdjust="spacingAndGlyphs" fill="#e6eee6">Vdrive</text>
<text x="601.5" y="261.4" font-size="12.36" textLength="229.1" lengthAdjust="spacing" fill="#e6eee6">For UART solder D1, E1 and address.</text>
<text x="596.8" y="274.6" font-size="12.36" textLength="238.6" lengthAdjust="spacing" fill="#e6eee6">For SPI solder D2, E1, F1, G1 and H1.</text>
<rect x="620.56" y="293.2" width="3.89" height="5.38" fill="#e4e4e0" />
<rect x="620.56" y="309.32" width="3.89" height="5.38" fill="#e4e4e0" />
<rect x="627.56" y="293.2" width="3.89" height="5.38" fill="#e4e4e0" />
<rect x="627.56" y="309.32" width="3.89" height="5.38" fill="#e4e4e0" />
<rect x="634.56" y="293.2" width="3.89" height="5.38" fill="#e4e4e0" />
<rect x="634.56" y="309.32" width="3.89" height="5.38" fill="#e4e4e0" />
<rect x="641.56" y="293.2" width="3.89" height="5.38" fill="#e4e4e0" />
<rect x="641.56" y="309.32" width="3.89" height="5.38" fill="#e4e4e0" />
<rect x="619" y="298.57" width="28" height="10.75" fill="#1e1e1e" />
<text x="620" y="326.5" font-size="11.81" textLength="21.7" lengthAdjust="spacingAndGlyphs" fill="#e6eee6">RN1</text>
<text x="737.4" y="304" font-size="13.47" textLength="14" lengthAdjust="spacingAndGlyphs" fill="#e6eee6">D2</text>
<rect x="730" y="306.93" width="7.98" height="4.81" fill="#e4e4e0" />
<rect x="751.02" y="306.93" width="7.98" height="4.81" fill="#e4e4e0" />
<rect x="730" y="315.59" width="7.98" height="4.81" fill="#e4e4e0" />
<rect x="751.02" y="315.59" width="7.98" height="4.81" fill="#e4e4e0" />
<rect x="730" y="324.26" width="7.98" height="4.81" fill="#e4e4e0" />
<rect x="751.02" y="324.26" width="7.98" height="4.81" fill="#e4e4e0" />
<rect x="737.98" y="305" width="13.05" height="26" fill="#5a5050" />
<text x="809.5" y="304" font-size="13.47" textLength="15.1" lengthAdjust="spacingAndGlyphs" fill="#e6eee6">D3</text>
<rect x="803" y="306.93" width="7.98" height="4.81" fill="#e4e4e0" />
<rect x="824.02" y="306.93" width="7.98" height="4.81" fill="#e4e4e0" />
<rect x="803" y="315.59" width="7.98" height="4.81" fill="#e4e4e0" />
<rect x="824.02" y="315.59" width="7.98" height="4.81" fill="#e4e4e0" />
<rect x="803" y="324.26" width="7.98" height="4.81" fill="#e4e4e0" />
<rect x="824.02" y="324.26" width="7.98" height="4.81" fill="#e4e4e0" />
<rect x="810.98" y="305" width="13.05" height="26" fill="#5a5050" />
<rect x="793.4" y="349" width="7.6" height="6.94" fill="#e6e6e2" />
<rect x="793.4" y="363.76" width="7.6" height="6.94" fill="#e6e6e2" />
<rect x="793.4" y="355.94" width="7.6" height="7.81" fill="#1c1c1c" />
<text x="767.6" y="365.3" font-size="13.47" textLength="22.4" lengthAdjust="spacingAndGlyphs" fill="#e6eee6">R22</text>
<rect x="823.5" y="365" width="26.5" height="10" fill="#e6e6e2" />
<rect x="829.86" y="365" width="13.78" height="10" fill="#574846" />
<rect x="830.86" y="365" width="3" height="10" fill="#d8cfc0" />
<text x="826.8" y="391" font-size="13.33" textLength="21.5" lengthAdjust="spacingAndGlyphs" fill="#e6eee6">D23</text>
<rect x="668.24" y="374" width="4.59" height="8.25" fill="#e4e4e0" />
<rect x="668.24" y="395.75" width="4.59" height="8.25" fill="#e4e4e0" />
<rect x="676.5" y="374" width="4.59" height="8.25" fill="#e4e4e0" />
<rect x="676.5" y="395.75" width="4.59" height="8.25" fill="#e4e4e0" />
<rect x="684.77" y="374" width="4.59" height="8.25" fill="#e4e4e0" />
<rect x="684.77" y="395.75" width="4.59" height="8.25" fill="#e4e4e0" />
<rect x="666.4" y="382.25" width="24.8" height="13.5" fill="#5a5050" />
<text x="649.8" y="395.4" font-size="13.47" textLength="14.5" lengthAdjust="spacingAndGlyphs" fill="#e6eee6">D1</text>
<text x="716" y="370.7" font-size="13.47" textLength="22.5" lengthAdjust="spacingAndGlyphs" fill="#e6eee6">3V3</text>
<rect x="715.5" y="373" width="23" height="16.6" fill="none" stroke="#e2eadc" stroke-width="1.3"/>
<rect x="716.8" y="374.3" width="20.4" height="14" fill="#2c3a22" />
<rect x="717.5" y="375" width="19" height="12.6" fill="#fcf9b8" />
<path d="M727.76 375 L723.39 381.3 L727.76 387.6" fill="none" stroke="#33361f" stroke-width="1.5"/>
<rect x="716.6" y="394.3" width="7.01" height="8.7" fill="#e6e6e2" />
<rect x="731.49" y="394.3" width="7.01" height="8.7" fill="#e6e6e2" />
<rect x="723.61" y="394.3" width="7.88" height="8.7" fill="#b08c7c" />
<text x="741.3" y="402.5" font-size="14.58" textLength="23" lengthAdjust="spacingAndGlyphs" fill="#e6eee6">C15</text>
<text x="696" y="411.6" font-size="12.5" textLength="14" lengthAdjust="spacingAndGlyphs" fill="#e6eee6">U6</text>
<rect x="714" y="406.5" width="11.7" height="18" fill="#e0e0e0" />
<rect x="733" y="406.5" width="12" height="18" fill="#e0e0e0" />
<rect x="751.5" y="406.5" width="12.2" height="18" fill="#e0e0e0" />
<rect x="711.5" y="424.5" width="54.3" height="31.1" fill="#5a5252" />
<rect x="724.4" y="454.3" width="29.6" height="19.4" fill="#e2e2e2" />
<text x="696" y="419.4" font-size="12.5" fill="#e6eee6" transform="rotate(90 696 419.4)" textLength="22" lengthAdjust="spacingAndGlyphs">C18</text>
<rect x="698.5" y="444" width="9.1" height="7.26" fill="#e6e6e2" />
<rect x="698.5" y="459.44" width="9.1" height="7.26" fill="#e6e6e2" />
<rect x="698.5" y="451.26" width="9.1" height="8.17" fill="#b08c7c" />
<text x="650.7" y="455.6" font-size="14.72" textLength="14.3" lengthAdjust="spacingAndGlyphs" fill="#e6eee6">D8</text>
<rect x="669.23" y="435" width="4.31" height="8.52" fill="#e4e4e0" />
<rect x="669.23" y="457.48" width="4.31" height="8.52" fill="#e4e4e0" />
<rect x="676.99" y="435" width="4.31" height="8.52" fill="#e4e4e0" />
<rect x="676.99" y="457.48" width="4.31" height="8.52" fill="#e4e4e0" />
<rect x="684.76" y="435" width="4.31" height="8.52" fill="#e4e4e0" />
<rect x="684.76" y="457.48" width="4.31" height="8.52" fill="#e4e4e0" />
<rect x="667.5" y="443.52" width="23.3" height="13.95" fill="#5a5050" />
<text x="625.7" y="475" font-size="15.28" textLength="22.3" lengthAdjust="spacingAndGlyphs" fill="#e6eee6">RN4</text>
<rect x="626" y="476.5" width="6.46" height="3.75" fill="#e4e4e0" />
<rect x="643.04" y="476.5" width="6.46" height="3.75" fill="#e4e4e0" />
<rect x="626" y="483.25" width="6.46" height="3.75" fill="#e4e4e0" />
<rect x="643.04" y="483.25" width="6.46" height="3.75" fill="#e4e4e0" />
<rect x="626" y="490" width="6.46" height="3.75" fill="#e4e4e0" />
<rect x="643.04" y="490" width="6.46" height="3.75" fill="#e4e4e0" />
<rect x="626" y="496.75" width="6.46" height="3.75" fill="#e4e4e0" />
<rect x="643.04" y="496.75" width="6.46" height="3.75" fill="#e4e4e0" />
<rect x="632.46" y="475" width="10.58" height="27" fill="#1e1e1e" />
<text x="670" y="483.2" font-size="15" textLength="22" lengthAdjust="spacingAndGlyphs" fill="#e6eee6">C16</text>
<rect x="692.9" y="471.9" width="16" height="36.7" fill="none" stroke="#e6eee6" stroke-width="1"/>
<rect x="695" y="474" width="12" height="6" fill="#e6e6e6" />
<rect x="694" y="480" width="14" height="23" fill="#f2d84a" />
<rect x="694" y="480" width="14" height="5" fill="#f0a050" />
<rect x="695" y="503" width="12" height="5" fill="#e6e6e6" />
<rect x="665.51" y="491.8" width="4.54" height="8.52" fill="#e4e4e0" />
<rect x="665.51" y="514.27" width="4.54" height="8.52" fill="#e4e4e0" />
<rect x="673.68" y="491.8" width="4.54" height="8.52" fill="#e4e4e0" />
<rect x="673.68" y="514.27" width="4.54" height="8.52" fill="#e4e4e0" />
<rect x="681.85" y="491.8" width="4.54" height="8.52" fill="#e4e4e0" />
<rect x="681.85" y="514.27" width="4.54" height="8.52" fill="#e4e4e0" />
<rect x="663.7" y="500.32" width="24.5" height="13.95" fill="#5a5050" />
<text x="666.2" y="535.7" font-size="14.31" textLength="15.6" lengthAdjust="spacingAndGlyphs" fill="#e6eee6">D7</text>
<rect x="721.8" y="486.6" width="16.8" height="24.5" fill="none" stroke="#e2eadc" stroke-width="1.3"/>
<rect x="723.1" y="487.9" width="14.2" height="21.9" fill="#2c3a22" />
<rect x="723.8" y="488.6" width="12.8" height="20.5" fill="#fcf9b8" />
<path d="M723.8 498.24 L730.2 502.13 L736.6 498.24" fill="none" stroke="#33361f" stroke-width="1.5"/>
<text x="719.2" y="522.8" font-size="14.44" textLength="24.6" lengthAdjust="spacingAndGlyphs" fill="#e6eee6">MCU</text>
<rect x="692.8" y="522.7" width="15.6" height="15.6" rx="2" fill="#30523a"/>
<rect x="694.6" y="524.5" width="12" height="12" fill="#fcf9b8"/>
<circle cx="700.6" cy="530.5" r="2.5" fill="#140c0a"/>
<text x="600.3" y="526.1" font-size="14.31" textLength="23.3" lengthAdjust="spacingAndGlyphs" fill="#e6eee6">R14</text>
<rect x="625.7" y="516.3" width="7.46" height="9.1" fill="#e6e6e2" />
<rect x="641.54" y="516.3" width="7.46" height="9.1" fill="#e6e6e2" />
<rect x="633.16" y="516.3" width="8.39" height="9.1" fill="#1c1c1c" />
<text x="600.3" y="538.3" font-size="13.33" textLength="23.3" lengthAdjust="spacingAndGlyphs" fill="#e6eee6">R15</text>
<rect x="625.7" y="529.3" width="7.46" height="9" fill="#e6e6e2" />
<rect x="641.54" y="529.3" width="7.46" height="9" fill="#e6e6e2" />
<rect x="633.16" y="529.3" width="8.39" height="9" fill="#1c1c1c" />
<text x="608" y="552.5" font-size="14.31" textLength="15.6" lengthAdjust="spacingAndGlyphs" fill="#e6eee6">R5</text>
<rect x="625.7" y="542.7" width="7.46" height="9.3" fill="#e6e6e2" />
<rect x="641.54" y="542.7" width="7.46" height="9.3" fill="#e6e6e2" />
<rect x="633.16" y="542.7" width="8.39" height="9.3" fill="#1c1c1c" />
<text x="665.5" y="565.4" font-size="15" textLength="23.2" lengthAdjust="spacingAndGlyphs" fill="#e6eee6">RN2</text>
<rect x="690.8" y="547.51" width="6.05" height="3.78" fill="#e4e4e0" />
<rect x="706.75" y="547.51" width="6.05" height="3.78" fill="#e4e4e0" />
<rect x="690.8" y="554.31" width="6.05" height="3.78" fill="#e4e4e0" />
<rect x="706.75" y="554.31" width="6.05" height="3.78" fill="#e4e4e0" />
<rect x="690.8" y="561.11" width="6.05" height="3.78" fill="#e4e4e0" />
<rect x="706.75" y="561.11" width="6.05" height="3.78" fill="#e4e4e0" />
<rect x="690.8" y="567.91" width="6.05" height="3.78" fill="#e4e4e0" />
<rect x="706.75" y="567.91" width="6.05" height="3.78" fill="#e4e4e0" />
<rect x="696.85" y="546" width="9.9" height="27.2" fill="#1e1e1e" />
<text x="720.5" y="542.2" font-size="14.44" textLength="15.5" lengthAdjust="spacingAndGlyphs" fill="#e6eee6">D6</text>
<rect x="722.42" y="543.4" width="4.8" height="8.2" fill="#e4e4e0" />
<rect x="722.42" y="565" width="4.8" height="8.2" fill="#e4e4e0" />
<rect x="731.05" y="543.4" width="4.8" height="8.2" fill="#e4e4e0" />
<rect x="731.05" y="565" width="4.8" height="8.2" fill="#e4e4e0" />
<rect x="739.69" y="543.4" width="4.8" height="8.2" fill="#e4e4e0" />
<rect x="739.69" y="565" width="4.8" height="8.2" fill="#e4e4e0" />
<rect x="720.5" y="551.6" width="25.9" height="13.41" fill="#5a5050" />
<rect x="750.8" y="498.2" width="9.8" height="7.46" fill="#e6e6e2" />
<rect x="750.8" y="514.04" width="9.8" height="7.46" fill="#e6e6e2" />
<rect x="750.8" y="505.66" width="9.8" height="8.39" fill="#1c1c1c" />
<text x="750.2" y="535.7" font-size="14.31" textLength="22" lengthAdjust="spacingAndGlyphs" fill="#e6eee6">R21</text>
<text x="769.6" y="442.6" font-size="14.31" textLength="22" lengthAdjust="spacingAndGlyphs" fill="#e6eee6">R13</text>
<rect x="781.3" y="444" width="7.01" height="10.3" fill="#e6e6e2" />
<rect x="796.19" y="444" width="7.01" height="10.3" fill="#e6e6e2" />
<rect x="788.31" y="444" width="7.88" height="10.3" fill="#1c1c1c" />
<rect x="800.9" y="411.1" width="30" height="13.9" fill="none" stroke="#e6eee6" stroke-width="1"/>
<rect x="802.4" y="413.6" width="27" height="8.9" fill="#e6e6e2" />
<rect x="808.88" y="413.6" width="14.04" height="8.9" fill="#574846" />
<rect x="809.88" y="413.6" width="3" height="8.9" fill="#d8cfc0" />
<text x="833" y="423" font-size="13.89" textLength="23" lengthAdjust="spacingAndGlyphs" fill="#e6eee6">D14</text>
<rect x="800.9" y="426.5" width="31.3" height="14" fill="none" stroke="#e6eee6" stroke-width="1"/>
<rect x="802.4" y="429" width="28.3" height="9" fill="#e6e6e2" />
<rect x="809.19" y="429" width="14.72" height="9" fill="#574846" />
<rect x="819.91" y="429" width="3" height="9" fill="#d8cfc0" />
<text x="833" y="437" font-size="13.89" textLength="23" lengthAdjust="spacingAndGlyphs" fill="#e6eee6">D21</text>
<rect x="808.4" y="444" width="7.04" height="10.3" fill="#e6e6e2" />
<rect x="823.36" y="444" width="7.04" height="10.3" fill="#e6e6e2" />
<rect x="815.44" y="444" width="7.92" height="10.3" fill="#1c1c1c" />
<text x="834" y="453" font-size="13.89" textLength="14.5" lengthAdjust="spacingAndGlyphs" fill="#e6eee6">R7</text>
<text x="768" y="453" font-size="12.5" fill="#e6eee6" transform="rotate(90 768 453)" textLength="22" lengthAdjust="spacingAndGlyphs">R12</text>
<rect x="780" y="459" width="7.36" height="9.5" fill="#e6e6e2" />
<rect x="795.64" y="459" width="7.36" height="9.5" fill="#e6e6e2" />
<rect x="787.36" y="459" width="8.28" height="9.5" fill="#1c1c1c" />
<rect x="823" y="458" width="8.7" height="7.49" fill="#e6e6e2" />
<rect x="823" y="473.91" width="8.7" height="7.49" fill="#e6e6e2" />
<rect x="823" y="465.49" width="8.7" height="8.42" fill="#b08c7c" />
<text x="834" y="471" font-size="16.11" textLength="16" lengthAdjust="spacingAndGlyphs" fill="#e6eee6">C8</text>
<rect x="805.3" y="456.5" width="15.2" height="32" fill="none" stroke="#e6eee6" stroke-width="1"/>
<rect x="807.8" y="458" width="10.2" height="29" fill="#e6e6e2" />
<rect x="807.8" y="464.96" width="10.2" height="15.08" fill="#574846" />
<rect x="807.8" y="476.04" width="10.2" height="3" fill="#d8cfc0" />
<text x="812.8" y="499.5" font-size="14.58" textLength="21.5" lengthAdjust="spacingAndGlyphs" fill="#e6eee6">D20</text>
<text x="742.5" y="491.8" font-size="14.44" textLength="20.7" lengthAdjust="spacingAndGlyphs" fill="#e6eee6">D13</text>
<rect x="764.7" y="477" width="30" height="16.5" fill="none" stroke="#e6eee6" stroke-width="1"/>
<rect x="766.2" y="479.5" width="27" height="11.5" fill="#e6e6e2" />
<rect x="772.68" y="479.5" width="14.04" height="11.5" fill="#574846" />
<rect x="782.72" y="479.5" width="3" height="11.5" fill="#d8cfc0" />
<rect x="783.8" y="497" width="7.04" height="9" fill="#e6e6e2" />
<rect x="798.76" y="497" width="7.04" height="9" fill="#e6e6e2" />
<rect x="790.84" y="497" width="7.92" height="9" fill="#1c1c1c" />
<text x="783.8" y="517.6" font-size="14.31" textLength="14.2" lengthAdjust="spacingAndGlyphs" fill="#e6eee6">R8</text>
<rect x="802.52" y="511" width="4.8" height="8.25" fill="#e4e4e0" />
<rect x="802.52" y="532.75" width="4.8" height="8.25" fill="#e4e4e0" />
<rect x="811.15" y="511" width="4.8" height="8.25" fill="#e4e4e0" />
<rect x="811.15" y="532.75" width="4.8" height="8.25" fill="#e4e4e0" />
<rect x="819.79" y="511" width="4.8" height="8.25" fill="#e4e4e0" />
<rect x="819.79" y="532.75" width="4.8" height="8.25" fill="#e4e4e0" />
<rect x="800.6" y="519.25" width="25.9" height="13.5" fill="#5a5050" />
<text x="805.8" y="555" font-size="12.5" textLength="14.2" lengthAdjust="spacingAndGlyphs" fill="#e6eee6">D5</text>
<text x="780" y="583.5" font-size="14.58" textLength="22" lengthAdjust="spacingAndGlyphs" fill="#e6eee6">R25</text>
<rect x="805.8" y="572" width="7.04" height="9" fill="#e6e6e2" />
<rect x="820.76" y="572" width="7.04" height="9" fill="#e6e6e2" />
<rect x="812.84" y="572" width="7.92" height="9" fill="#1c1c1c" />
<text x="780" y="595" font-size="14.17" textLength="22" lengthAdjust="spacingAndGlyphs" fill="#e6eee6">R24</text>
<rect x="805.8" y="584" width="7.04" height="9" fill="#e6e6e2" />
<rect x="820.76" y="584" width="7.04" height="9" fill="#e6e6e2" />
<rect x="812.84" y="584" width="7.92" height="9" fill="#1c1c1c" />
<rect x="770.8" y="594.5" width="13.2" height="16.8" rx="6" fill="#30523a"/>
<ellipse cx="777.4" cy="602.9" rx="4.9" ry="6.6" fill="#fcf9b8"/><circle cx="777.4" cy="602.9" r="2.3" fill="#140c0a"/>
<rect x="786.2" y="594.5" width="13.2" height="16.8" rx="6" fill="#30523a"/>
<ellipse cx="792.8" cy="602.9" rx="4.9" ry="6.6" fill="#fcf9b8"/><circle cx="792.8" cy="602.9" r="2.3" fill="#140c0a"/>
<rect x="801.6" y="594.5" width="13.2" height="16.8" rx="6" fill="#30523a"/>
<rect x="803.2" y="596.3" width="10" height="13.2" rx="2" fill="#fcf9b8"/><circle cx="808.2" cy="602.9" r="2.3" fill="#140c0a"/>
<rect x="626.8" y="574.6" width="13.2" height="16.8" rx="6" fill="#30523a"/>
<ellipse cx="633.4" cy="583" rx="4.9" ry="6.6" fill="#fcf9b8"/><circle cx="633.4" cy="583" r="2.3" fill="#140c0a"/>
<rect x="642.9" y="574.6" width="13.2" height="16.8" rx="6" fill="#30523a"/>
<ellipse cx="649.5" cy="583" rx="4.9" ry="6.6" fill="#fcf9b8"/><circle cx="649.5" cy="583" r="2.3" fill="#140c0a"/>
<rect x="658.9" y="574.6" width="13.2" height="16.8" rx="6" fill="#30523a"/>
<ellipse cx="665.5" cy="583" rx="4.9" ry="6.6" fill="#fcf9b8"/><circle cx="665.5" cy="583" r="2.3" fill="#140c0a"/>
<rect x="674.6" y="574.6" width="13.2" height="16.8" rx="6" fill="#30523a"/>
<rect x="676.2" y="576.4" width="10" height="13.2" rx="2" fill="#fcf9b8"/><circle cx="681.2" cy="583" r="2.3" fill="#140c0a"/>
<rect x="646.3" y="595" width="22.5" height="16.4" fill="none" stroke="#e2eadc" stroke-width="1.3"/>
<rect x="647.6" y="596.3" width="19.9" height="13.8" fill="#2c3a22" />
<rect x="648.3" y="597" width="18.5" height="12.4" fill="#fcf9b8" />
<path d="M656.81 597 L661.06 603.2 L656.81 609.4" fill="none" stroke="#33361f" stroke-width="1.5"/>
<text x="628.3" y="624.3" font-size="15.42" textLength="44.4" lengthAdjust="spacingAndGlyphs" fill="#e6eee6">3V3ADC</text>
<text x="675.3" y="601.6" font-size="14.31" textLength="20.7" lengthAdjust="spacingAndGlyphs" fill="#e6eee6">R20</text>
<rect x="675.3" y="603" width="7.04" height="9" fill="#e6e6e2" />
<rect x="690.26" y="603" width="7.04" height="9" fill="#e6e6e2" />
<rect x="682.34" y="603" width="7.92" height="9" fill="#1c1c1c" />
<rect x="675.3" y="616.6" width="7.04" height="8.4" fill="#e6e6e2" />
<rect x="690.26" y="616.6" width="7.04" height="8.4" fill="#e6e6e2" />
<rect x="682.34" y="616.6" width="7.92" height="8.4" fill="#b08c7c" />
<text x="675.3" y="636.5" font-size="14.58" textLength="20.7" lengthAdjust="spacingAndGlyphs" fill="#e6eee6">C12</text>
<rect x="703" y="592" width="14" height="12" fill="#5a5252" />
<rect x="708.5" y="581" width="3" height="11" fill="#e4e4e0" />
<rect x="703" y="604" width="3" height="10.5" fill="#e4e4e0" />
<rect x="714" y="604" width="3" height="10.5" fill="#e4e4e0" />
<path d="M700 600 V591 H704 M720 600 V591 H716" stroke="#e6eee6" stroke-width="1" fill="none"/>
<text x="707.6" y="630" font-size="14.31" textLength="15.4" lengthAdjust="spacingAndGlyphs" fill="#e6eee6">U4</text>
<rect x="723.8" y="591.2" width="15.6" height="15.6" rx="2" fill="#30523a"/>
<rect x="725.6" y="593" width="12" height="12" fill="#fcf9b8"/>
<circle cx="731.6" cy="599" r="2.5" fill="#140c0a"/>
<rect x="864.2" y="199.8" width="100.5" height="110.2" fill="none" stroke="#e6eee6" stroke-width="1.6"/>
<text x="867" y="214.4" font-size="12.64" textLength="56.5" lengthAdjust="spacing" fill="#e6eee6">Soldering</text>
<text x="871.4" y="226" font-size="12.8" textLength="47.3" lengthAdjust="spacing" fill="#e6eee6">jumpers</text>
<rect x="920.6" y="219.2" width="39.8" height="13.3" fill="none" stroke="#e6eee6" stroke-width="1.3"/>
<text x="922.5" y="230.3" font-size="12.36" textLength="36" lengthAdjust="spacing" fill="#e6eee6">D1 D2</text>
<rect x="920.6" y="233.8" width="39.8" height="13.2" fill="none" stroke="#e6eee6" stroke-width="1.3"/>
<text x="922.5" y="244.8" font-size="12.22" textLength="36" lengthAdjust="spacing" fill="#e6eee6">E1 E2</text>
<rect x="920.6" y="248.8" width="39.8" height="12.8" fill="none" stroke="#e6eee6" stroke-width="1.3"/>
<text x="922.5" y="259.4" font-size="11.67" textLength="36" lengthAdjust="spacing" fill="#e6eee6">F1 F2</text>
<rect x="920.6" y="262.8" width="39.8" height="13.2" fill="none" stroke="#e6eee6" stroke-width="1.3"/>
<text x="922.5" y="273.8" font-size="12.22" textLength="36" lengthAdjust="spacingAndGlyphs" fill="#e6eee6">G1 G2</text>
<rect x="885.5" y="248.8" width="12.1" height="12.8" fill="none" stroke="#e6eee6" stroke-width="1.3"/>
<text x="887.3" y="259.4" font-size="11.67" textLength="8.5" lengthAdjust="spacing" fill="#e6eee6">A</text>
<rect x="885.5" y="262.8" width="12.1" height="13.2" fill="none" stroke="#e6eee6" stroke-width="1.3"/>
<text x="887.3" y="273.8" font-size="12.22" textLength="8.5" lengthAdjust="spacing" fill="#e6eee6">B</text>
<rect x="885.5" y="276.9" width="12.1" height="12.1" fill="none" stroke="#e6eee6" stroke-width="1.3"/>
<text x="887.3" y="286.8" font-size="10.69" textLength="8.5" lengthAdjust="spacing" fill="#e6eee6">C</text>
<rect x="892" y="292.4" width="39.5" height="14" fill="none" stroke="#e6eee6" stroke-width="1.3"/>
<text x="893.5" y="304.2" font-size="13.33" textLength="36.5" lengthAdjust="spacingAndGlyphs" fill="#e6eee6">H1 H2</text>
<rect x="887.7" y="318.4" width="14.8" height="5.2" fill="#e0e0de" />
<rect x="931.5" y="318.4" width="12.6" height="5.2" fill="#e0e0de" />
<rect x="887.7" y="328.6" width="14.8" height="5.2" fill="#e0e0de" />
<rect x="931.5" y="328.6" width="12.6" height="5.2" fill="#e0e0de" />
<rect x="887.7" y="338.8" width="14.8" height="5.2" fill="#e0e0de" />
<rect x="931.5" y="338.8" width="12.6" height="5.2" fill="#e0e0de" />
<rect x="887.7" y="349" width="14.8" height="5.2" fill="#e0e0de" />
<rect x="931.5" y="349" width="12.6" height="5.2" fill="#e0e0de" />
<rect x="887.7" y="359.2" width="14.8" height="5.2" fill="#e0e0de" />
<rect x="931.5" y="359.2" width="12.6" height="5.2" fill="#e0e0de" />
<rect x="887.7" y="369.4" width="14.8" height="5.2" fill="#e0e0de" />
<rect x="931.5" y="369.4" width="12.6" height="5.2" fill="#e0e0de" />
<rect x="887.7" y="379.6" width="14.8" height="5.2" fill="#e0e0de" />
<rect x="931.5" y="379.6" width="12.6" height="5.2" fill="#e0e0de" />
<rect x="887.7" y="389.8" width="14.8" height="5.2" fill="#e0e0de" />
<rect x="931.5" y="389.8" width="12.6" height="5.2" fill="#e0e0de" />
<rect x="902.5" y="315.4" width="29" height="80.1" fill="#5a5252" />
<circle cx="909" cy="322" r="2" fill="#d8ccc0"/>
<rect x="888" y="314.3" width="44" height="1.2" fill="#e6eee6" />
<rect x="900" y="396" width="32" height="1.2" fill="#e6eee6" />
<text x="929" y="410.5" font-size="15.14" textLength="15" lengthAdjust="spacingAndGlyphs" fill="#e6eee6">U7</text>
<text x="848.5" y="346.4" font-size="13.47" textLength="21.8" lengthAdjust="spacingAndGlyphs" fill="#e6eee6">D15</text>
<rect x="842.5" y="346.5" width="32" height="15.6" fill="none" stroke="#e6eee6" stroke-width="1"/>
<rect x="844" y="349" width="29" height="10.6" fill="#e6e6e2" />
<rect x="850.96" y="349" width="15.08" height="10.6" fill="#574846" />
<rect x="862.04" y="349" width="3" height="10.6" fill="#d8cfc0" />
<rect x="855.7" y="364.5" width="7.36" height="9.7" fill="#e6e6e2" />
<rect x="871.34" y="364.5" width="7.36" height="9.7" fill="#e6e6e2" />
<rect x="863.06" y="364.5" width="8.28" height="9.7" fill="#1c1c1c" />
<text x="861" y="386.3" font-size="15.14" textLength="15" lengthAdjust="spacingAndGlyphs" fill="#e6eee6">R5</text>
<text x="1041" y="241" font-size="13.47" textLength="38.8" lengthAdjust="spacingAndGlyphs" fill="#e6eee6">A–CLK</text>
<text x="1041" y="254.3" font-size="15.14" textLength="47" lengthAdjust="spacingAndGlyphs" fill="#e6eee6">B–UART</text>
<text x="1041" y="267.7" font-size="15.14" textLength="63" lengthAdjust="spacingAndGlyphs" fill="#e6eee6">C–SPREAD</text>
<path d="M1038 236 H1035 V262 H1039 M1035 249 H1039" fill="none" stroke="#e6eee6" stroke-width="1.3"/>
<text x="992.6" y="289.5" font-size="13.47" textLength="24.2" lengthAdjust="spacingAndGlyphs" fill="#e6eee6">MCU</text>
<text x="1083" y="289.5" font-size="13.47" textLength="24" lengthAdjust="spacingAndGlyphs" fill="#e6eee6">MCU</text>
<text x="989.3" y="298.9" font-size="12.22" textLength="53.5" lengthAdjust="spacingAndGlyphs" fill="#e6eee6">UART–D1</text>
<text x="1054.4" y="298.9" font-size="12.22" textLength="53.6" lengthAdjust="spacingAndGlyphs" fill="#e6eee6">D2–MISO</text>
<path d="M1044.5 295.5 H1052 M1049 295.5 V303.7 H1034.3 V308" fill="none" stroke="#e6eee6" stroke-width="1.3"/>
<text x="1028" y="317" font-size="11.94" textLength="14" lengthAdjust="spacingAndGlyphs" fill="#e6eee6">E1</text>
<text x="1053.3" y="317" font-size="11.94" textLength="45.4" lengthAdjust="spacing" fill="#e6eee6">E2–3v3</text>
<path d="M1044.6 313 H1051 M1048.3 313 V319.2" fill="none" stroke="#e6eee6" stroke-width="1.3"/>
<text x="1033.7" y="330.6" font-size="13.33" textLength="27.9" lengthAdjust="spacingAndGlyphs" fill="#e6eee6">UART</text>
<text x="987.7" y="354.5" font-size="13.19" textLength="61.6" lengthAdjust="spacing" fill="#e6eee6">L1/CS–F1</text>
<text x="1060.4" y="354.5" font-size="13.19" textLength="45.8" lengthAdjust="spacing" fill="#e6eee6">F2–3v3</text>
<path d="M1050.5 351 H1060 M1055 351 V358" fill="none" stroke="#e6eee6" stroke-width="1.3"/>
<text x="1033.7" y="369" font-size="13.89" textLength="44.9" lengthAdjust="spacingAndGlyphs" fill="#e6eee6">SPREAD</text>
<text x="1004.1" y="394" font-size="13.19" textLength="47.6" lengthAdjust="spacingAndGlyphs" fill="#e6eee6">SCK–G1</text>
<text x="1063.5" y="394" font-size="13.19" textLength="46.5" lengthAdjust="spacing" fill="#e6eee6">G2–3v3</text>
<path d="M1054 390.5 H1062 M1058 390.5 V397" fill="none" stroke="#e6eee6" stroke-width="1.3"/>
<text x="1046" y="408" font-size="13.89" textLength="23" lengthAdjust="spacingAndGlyphs" fill="#e6eee6">MS2</text>
<text x="998.5" y="435.5" font-size="13.19" textLength="53.8" lengthAdjust="spacingAndGlyphs" fill="#e6eee6">MOSI–H1</text>
<text x="1064.1" y="435.5" font-size="13.19" textLength="46.4" lengthAdjust="spacing" fill="#e6eee6">H2–3v3</text>
<path d="M1054.8 432 H1062.2 M1058.5 432 V438.5" fill="none" stroke="#e6eee6" stroke-width="1.3"/>
<text x="1046.7" y="450.4" font-size="12.64" textLength="23.3" lengthAdjust="spacingAndGlyphs" fill="#e6eee6">MS1</text>
<text x="1018" y="482.7" font-size="12.8" textLength="81.6" lengthAdjust="spacingAndGlyphs" fill="#e6eee6">UART address</text>
<text x="1014.4" y="495.5" font-size="12.5" textLength="89.1" lengthAdjust="spacing" fill="#e6eee6">(x – soldered,</text>
<text x="1001.5" y="508.5" font-size="12.5" textLength="114.9" lengthAdjust="spacing" fill="#e6eee6">o – not soldered):</text>
<text x="1021.6" y="522.7" font-size="14.31" textLength="75.4" lengthAdjust="spacingAndGlyphs" fill="#e6eee6">MOT#  G2  H2</text>
<text x="1044" y="534.2" font-size="13.89" textLength="6.5" lengthAdjust="spacingAndGlyphs" fill="#e6eee6">0</text>
<text x="1067.3" y="533.2" font-size="13" text-anchor="middle" fill="#e6eee6">o</text>
<text x="1086.7" y="533.2" font-size="13" text-anchor="middle" fill="#e6eee6">o</text>
<text x="1044" y="547.3" font-size="13.89" textLength="6.5" lengthAdjust="spacingAndGlyphs" fill="#e6eee6">1</text>
<text x="1067.3" y="546.3" font-size="13" text-anchor="middle" fill="#e6eee6">o</text>
<text x="1086.7" y="546.3" font-size="13" text-anchor="middle" fill="#e6eee6">x</text>
<text x="1044" y="560.4" font-size="13.89" textLength="6.5" lengthAdjust="spacingAndGlyphs" fill="#e6eee6">2</text>
<text x="1067.3" y="559.4" font-size="13" text-anchor="middle" fill="#e6eee6">x</text>
<text x="1086.7" y="559.4" font-size="13" text-anchor="middle" fill="#e6eee6">o</text>
<text x="1044" y="573.5" font-size="13.89" textLength="6.5" lengthAdjust="spacingAndGlyphs" fill="#e6eee6">3</text>
<text x="1067.3" y="572.5" font-size="13" text-anchor="middle" fill="#e6eee6">x</text>
<text x="1086.7" y="572.5" font-size="13" text-anchor="middle" fill="#e6eee6">x</text>
<text x="1044" y="586.6" font-size="13.89" textLength="6.5" lengthAdjust="spacingAndGlyphs" fill="#e6eee6">4</text>
<text x="1067.3" y="585.6" font-size="13" text-anchor="middle" fill="#e6eee6">o</text>
<text x="1086.7" y="585.6" font-size="13" text-anchor="middle" fill="#e6eee6">o</text>
<text x="1044" y="599.7" font-size="13.89" textLength="6.5" lengthAdjust="spacingAndGlyphs" fill="#e6eee6">5</text>
<text x="1067.3" y="598.7" font-size="13" text-anchor="middle" fill="#e6eee6">o</text>
<text x="1086.7" y="598.7" font-size="13" text-anchor="middle" fill="#e6eee6">x</text>
<text x="1044" y="612.8" font-size="13.89" textLength="6.5" lengthAdjust="spacingAndGlyphs" fill="#e6eee6">6</text>
<text x="1067.3" y="611.8" font-size="13" text-anchor="middle" fill="#e6eee6">x</text>
<text x="1086.7" y="611.8" font-size="13" text-anchor="middle" fill="#e6eee6">o</text>
<text x="1044" y="625.9" font-size="13.89" textLength="6.5" lengthAdjust="spacingAndGlyphs" fill="#e6eee6">7</text>
<text x="1067.3" y="624.9" font-size="13" text-anchor="middle" fill="#e6eee6">x</text>
<text x="1086.7" y="624.9" font-size="13" text-anchor="middle" fill="#e6eee6">x</text>
<text x="903.3" y="416" font-size="13.19" textLength="15.5" lengthAdjust="spacingAndGlyphs" fill="#e6eee6">D4</text>
<rect x="899.93" y="418" width="4.81" height="8.19" fill="#e4e4e0" />
<rect x="899.93" y="439.61" width="4.81" height="8.19" fill="#e4e4e0" />
<rect x="908.59" y="418" width="4.81" height="8.19" fill="#e4e4e0" />
<rect x="908.59" y="439.61" width="4.81" height="8.19" fill="#e4e4e0" />
<rect x="917.26" y="418" width="4.81" height="8.19" fill="#e4e4e0" />
<rect x="917.26" y="439.61" width="4.81" height="8.19" fill="#e4e4e0" />
<rect x="898" y="426.19" width="26" height="13.41" fill="#5a5050" />
<text x="908.5" y="461.5" font-size="13.61" textLength="22.5" lengthAdjust="spacingAndGlyphs" fill="#e6eee6">D18</text>
<text x="933.5" y="461.5" font-size="13.61" textLength="22.7" lengthAdjust="spacingAndGlyphs" fill="#e6eee6">D17</text>
<text x="961" y="461.5" font-size="13.61" textLength="21.6" lengthAdjust="spacingAndGlyphs" fill="#e6eee6">D16</text>
<text x="907.7" y="538.2" font-size="14.31" textLength="24" lengthAdjust="spacingAndGlyphs" fill="#e6eee6">D11</text>
<text x="934.3" y="538.2" font-size="14.31" textLength="21.9" lengthAdjust="spacingAndGlyphs" fill="#e6eee6">D10</text>
<text x="961.4" y="538.2" font-size="14.31" textLength="14.2" lengthAdjust="spacingAndGlyphs" fill="#e6eee6">D9</text>
<path d="M920 464 V493 M936.3 464 V493" stroke="#e6eee6" stroke-width="1"/>
<rect x="923" y="465" width="10.3" height="27" fill="#e6e6e2" />
<rect x="923" y="472" width="10.3" height="13" fill="#574846" />
<rect x="923" y="482" width="10.3" height="3" fill="#d8cfc0" />
<path d="M920 496.9 V525.8 M936.3 496.9 V525.8" stroke="#e6eee6" stroke-width="1"/>
<rect x="923" y="497.9" width="10.3" height="26.9" fill="#e6e6e2" />
<rect x="923" y="504.9" width="10.3" height="12.9" fill="#574846" />
<rect x="923" y="514.8" width="10.3" height="3" fill="#d8cfc0" />
<path d="M937.5 464 V493 M953 464 V493" stroke="#e6eee6" stroke-width="1"/>
<rect x="940.5" y="465" width="9.5" height="27" fill="#e6e6e2" />
<rect x="940.5" y="472" width="9.5" height="13" fill="#574846" />
<rect x="940.5" y="482" width="9.5" height="3" fill="#d8cfc0" />
<path d="M937.5 496.9 V525.8 M953 496.9 V525.8" stroke="#e6eee6" stroke-width="1"/>
<rect x="940.5" y="497.9" width="9.5" height="26.9" fill="#e6e6e2" />
<rect x="940.5" y="504.9" width="9.5" height="12.9" fill="#574846" />
<rect x="940.5" y="514.8" width="9.5" height="3" fill="#d8cfc0" />
<path d="M954 464 V493 M970 464 V493" stroke="#e6eee6" stroke-width="1"/>
<rect x="957" y="465" width="10" height="27" fill="#e6e6e2" />
<rect x="957" y="472" width="10" height="13" fill="#574846" />
<rect x="957" y="482" width="10" height="3" fill="#d8cfc0" />
<path d="M954 496.9 V525.8 M970 496.9 V525.8" stroke="#e6eee6" stroke-width="1"/>
<rect x="957" y="497.9" width="10" height="26.9" fill="#e6e6e2" />
<rect x="957" y="504.9" width="10" height="12.9" fill="#574846" />
<rect x="957" y="514.8" width="10" height="3" fill="#d8cfc0" />
<text x="871.5" y="471" font-size="12.5" textLength="21.5" lengthAdjust="spacingAndGlyphs" fill="#e6eee6">D19</text>
<rect x="870.5" y="473.1" width="32" height="15.2" fill="none" stroke="#e6eee6" stroke-width="1"/>
<rect x="872" y="475.6" width="29" height="10.2" fill="#e6e6e2" />
<rect x="878.96" y="475.6" width="15.08" height="10.2" fill="#574846" />
<rect x="890.04" y="475.6" width="3" height="10.2" fill="#d8cfc0" />
<text x="876" y="506.4" font-size="12.22" textLength="22" lengthAdjust="spacingAndGlyphs" fill="#e6eee6">D12</text>
<rect x="872.5" y="508" width="31.3" height="15.2" fill="none" stroke="#e6eee6" stroke-width="1"/>
<rect x="874" y="510.5" width="28.3" height="10.2" fill="#e6e6e2" />
<rect x="880.79" y="510.5" width="14.72" height="10.2" fill="#574846" />
<rect x="891.51" y="510.5" width="3" height="10.2" fill="#d8cfc0" />
<ellipse cx="984.1" cy="495.6" rx="6" ry="5" fill="#fcf9b8"/>
<circle cx="984.1" cy="495.6" r="2" fill="#140c0a"/>
<ellipse cx="984.1" cy="511.4" rx="6" ry="5" fill="#fcf9b8"/>
<circle cx="984.1" cy="511.4" r="2" fill="#140c0a"/>
<ellipse cx="984.1" cy="527.6" rx="6" ry="5" fill="#fcf9b8"/>
<circle cx="984.1" cy="527.6" r="2" fill="#140c0a"/>
<ellipse cx="984.1" cy="543.8" rx="6" ry="5" fill="#fcf9b8"/>
<circle cx="984.1" cy="543.8" r="2" fill="#140c0a"/>
<rect x="978.5" y="555" width="11.2" height="10" fill="#fcf9b8" rx="1"/>
<circle cx="984.1" cy="560" r="2" fill="#140c0a"/>
<ellipse cx="869.2" cy="550.6" rx="5.3" ry="6.7" fill="#fcf9b8"/>
<circle cx="869.2" cy="550.6" r="2" fill="#140c0a"/>
<ellipse cx="885.5" cy="550.6" rx="5.3" ry="6.7" fill="#fcf9b8"/>
<circle cx="885.5" cy="550.6" r="2" fill="#140c0a"/>
<ellipse cx="901.8" cy="550.6" rx="5.3" ry="6.7" fill="#fcf9b8"/>
<circle cx="901.8" cy="550.6" r="2" fill="#140c0a"/>
<rect x="912.6" y="544.1" width="10.4" height="13" fill="#fcf9b8" rx="1.5"/>
<circle cx="917.8" cy="550.6" r="2" fill="#140c0a"/>
<ellipse cx="869.2" cy="596.3" rx="5.3" ry="6.7" fill="#fcf9b8"/>
<circle cx="869.2" cy="596.3" r="2" fill="#140c0a"/>
<ellipse cx="885.5" cy="596.3" rx="5.3" ry="6.7" fill="#fcf9b8"/>
<circle cx="885.5" cy="596.3" r="2" fill="#140c0a"/>
<ellipse cx="901.8" cy="596.3" rx="5.3" ry="6.7" fill="#fcf9b8"/>
<circle cx="901.8" cy="596.3" r="2" fill="#140c0a"/>
<rect x="912.6" y="589.8" width="10.4" height="13" fill="#fcf9b8" rx="1.5"/>
<circle cx="917.8" cy="596.3" r="2" fill="#140c0a"/>
<text x="643" y="81" font-size="12.92" textLength="22.7" lengthAdjust="spacingAndGlyphs" fill="#e6eee6">R28</text>
<rect x="642" y="84.6" width="7.36" height="7.6" fill="#e6e6e2" />
<rect x="657.64" y="84.6" width="7.36" height="7.6" fill="#e6e6e2" />
<rect x="649.36" y="84.6" width="8.28" height="7.6" fill="#1c1c1c" />
<text x="862.5" y="80.8" font-size="12.92" textLength="22.5" lengthAdjust="spacingAndGlyphs" fill="#e6eee6">R27</text>
<rect x="861" y="84.3" width="7.36" height="7.5" fill="#e6e6e2" />
<rect x="876.64" y="84.3" width="7.36" height="7.5" fill="#e6e6e2" />
<rect x="868.36" y="84.3" width="8.28" height="7.5" fill="#1c1c1c" />
<text x="1085" y="80.4" font-size="13.06" textLength="22" lengthAdjust="spacingAndGlyphs" fill="#e6eee6">R26</text>
<rect x="1084" y="84" width="7.36" height="7.5" fill="#e6e6e2" />
<rect x="1099.64" y="84" width="7.36" height="7.5" fill="#e6e6e2" />
<rect x="1091.36" y="84" width="8.28" height="7.5" fill="#1c1c1c" />
<text x="660" y="177.2" font-size="31" fill="#e6eee6" style="stroke-width:0.7">3</text>
<text x="879" y="176.8" font-size="31" fill="#e6eee6" style="stroke-width:0.7">2</text>
<text x="1102" y="176" font-size="31" fill="#e6eee6" style="stroke-width:0.7">1</text>
<text x="1164" y="287.4" font-size="31" fill="#e6eee6" style="stroke-width:0.7">0</text>
<text x="1163.5" y="515" font-size="31" fill="#e6eee6" style="stroke-width:0.7">7</text>
<text x="775.5" y="745.6" font-size="31" fill="#e6eee6" style="stroke-width:0.7">4</text>
<text x="1014" y="746" font-size="31" fill="#e6eee6" style="stroke-width:0.7">5</text>
<text x="1256" y="747" font-size="31" fill="#e6eee6" style="stroke-width:0.7">6</text>
<rect x="1243" y="244.8" width="8.6" height="7.1" fill="#e6e6e2" />
<rect x="1243" y="259.9" width="8.6" height="7.1" fill="#e6e6e2" />
<rect x="1243" y="251.9" width="8.6" height="7.99" fill="#1c1c1c" />
<text x="1255.6" y="262" font-size="13.61" textLength="22.3" lengthAdjust="spacingAndGlyphs" fill="#e6eee6">R23</text>
<rect x="1243" y="465.5" width="8.6" height="7.1" fill="#e6e6e2" />
<rect x="1243" y="480.6" width="8.6" height="7.1" fill="#e6e6e2" />
<rect x="1243" y="472.6" width="8.6" height="7.99" fill="#1c1c1c" />
<text x="1255" y="482.8" font-size="13.61" textLength="22.5" lengthAdjust="spacingAndGlyphs" fill="#e6eee6">R32</text>
<rect x="789.3" y="808.3" width="7.2" height="7.5" fill="#e6e6e2" />
<rect x="804.6" y="808.3" width="7.2" height="7.5" fill="#e6e6e2" />
<rect x="796.5" y="808.3" width="8.1" height="7.5" fill="#1c1c1c" />
<text x="788" y="829" font-size="12.5" textLength="23.8" lengthAdjust="spacing" fill="#e6eee6">R29</text>
<rect x="1032" y="809.5" width="7.2" height="7.5" fill="#e6e6e2" />
<rect x="1047.3" y="809.5" width="7.2" height="7.5" fill="#e6e6e2" />
<rect x="1039.2" y="809.5" width="8.1" height="7.5" fill="#1c1c1c" />
<text x="1032" y="830" font-size="12.5" textLength="22.5" lengthAdjust="spacingAndGlyphs" fill="#e6eee6">R30</text>
<rect x="1275.4" y="808.7" width="7.2" height="8.2" fill="#e6e6e2" />
<rect x="1290.7" y="808.7" width="7.2" height="8.2" fill="#e6e6e2" />
<rect x="1282.6" y="808.7" width="8.1" height="8.2" fill="#1c1c1c" />
<text x="1262" y="806" font-size="13.33" textLength="22" lengthAdjust="spacingAndGlyphs" fill="#e6eee6">R31</text>
</svg></body></html>
